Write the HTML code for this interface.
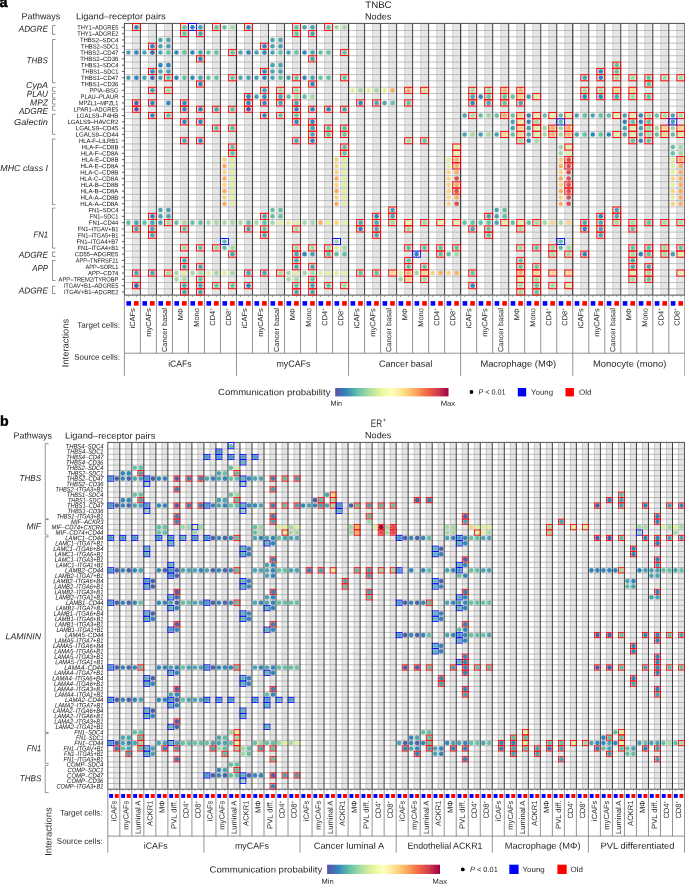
<!DOCTYPE html>
<html><head><meta charset="utf-8"><style>
html,body{margin:0;padding:0;background:#fff;width:685px;height:884px;overflow:hidden}
svg{display:block;will-change:transform}
text{font-family:"Liberation Sans", sans-serif}
</style></head><body>
<svg width="685" height="884" viewBox="0 0 685 884">
<rect width="685" height="884" fill="#fff"/>
<rect x="132.41" y="23.40" width="8.01" height="271.70" fill="#e6e6e6"/>
<rect x="148.42" y="23.40" width="8.01" height="271.70" fill="#e6e6e6"/>
<rect x="164.43" y="23.40" width="8.01" height="271.70" fill="#e6e6e6"/>
<rect x="180.44" y="23.40" width="8.01" height="271.70" fill="#e6e6e6"/>
<rect x="196.45" y="23.40" width="8.01" height="271.70" fill="#e6e6e6"/>
<rect x="212.47" y="23.40" width="8.01" height="271.70" fill="#e6e6e6"/>
<rect x="228.48" y="23.40" width="8.01" height="271.70" fill="#e6e6e6"/>
<rect x="244.49" y="23.40" width="8.01" height="271.70" fill="#e6e6e6"/>
<rect x="260.50" y="23.40" width="8.01" height="271.70" fill="#e6e6e6"/>
<rect x="276.51" y="23.40" width="8.01" height="271.70" fill="#e6e6e6"/>
<rect x="292.53" y="23.40" width="8.01" height="271.70" fill="#e6e6e6"/>
<rect x="308.54" y="23.40" width="8.01" height="271.70" fill="#e6e6e6"/>
<rect x="324.55" y="23.40" width="8.01" height="271.70" fill="#e6e6e6"/>
<rect x="340.56" y="23.40" width="8.01" height="271.70" fill="#e6e6e6"/>
<rect x="356.57" y="23.40" width="8.01" height="271.70" fill="#e6e6e6"/>
<rect x="372.59" y="23.40" width="8.01" height="271.70" fill="#e6e6e6"/>
<rect x="388.60" y="23.40" width="8.01" height="271.70" fill="#e6e6e6"/>
<rect x="404.61" y="23.40" width="8.01" height="271.70" fill="#e6e6e6"/>
<rect x="420.62" y="23.40" width="8.01" height="271.70" fill="#e6e6e6"/>
<rect x="436.63" y="23.40" width="8.01" height="271.70" fill="#e6e6e6"/>
<rect x="452.65" y="23.40" width="8.01" height="271.70" fill="#e6e6e6"/>
<rect x="468.66" y="23.40" width="8.01" height="271.70" fill="#e6e6e6"/>
<rect x="484.67" y="23.40" width="8.01" height="271.70" fill="#e6e6e6"/>
<rect x="500.68" y="23.40" width="8.01" height="271.70" fill="#e6e6e6"/>
<rect x="516.69" y="23.40" width="8.01" height="271.70" fill="#e6e6e6"/>
<rect x="532.71" y="23.40" width="8.01" height="271.70" fill="#e6e6e6"/>
<rect x="548.72" y="23.40" width="8.01" height="271.70" fill="#e6e6e6"/>
<rect x="564.73" y="23.40" width="8.01" height="271.70" fill="#e6e6e6"/>
<rect x="580.74" y="23.40" width="8.01" height="271.70" fill="#e6e6e6"/>
<rect x="596.75" y="23.40" width="8.01" height="271.70" fill="#e6e6e6"/>
<rect x="612.77" y="23.40" width="8.01" height="271.70" fill="#e6e6e6"/>
<rect x="628.78" y="23.40" width="8.01" height="271.70" fill="#e6e6e6"/>
<rect x="644.79" y="23.40" width="8.01" height="271.70" fill="#e6e6e6"/>
<rect x="660.80" y="23.40" width="8.01" height="271.70" fill="#e6e6e6"/>
<rect x="676.81" y="23.40" width="8.01" height="271.70" fill="#e6e6e6"/>
<line x1="132.41" y1="23.40" x2="132.41" y2="295.10" stroke="#bcbcbc" stroke-width="0.55"/>
<line x1="148.42" y1="23.40" x2="148.42" y2="295.10" stroke="#bcbcbc" stroke-width="0.55"/>
<line x1="164.43" y1="23.40" x2="164.43" y2="295.10" stroke="#bcbcbc" stroke-width="0.55"/>
<line x1="180.44" y1="23.40" x2="180.44" y2="295.10" stroke="#bcbcbc" stroke-width="0.55"/>
<line x1="196.45" y1="23.40" x2="196.45" y2="295.10" stroke="#bcbcbc" stroke-width="0.55"/>
<line x1="212.47" y1="23.40" x2="212.47" y2="295.10" stroke="#bcbcbc" stroke-width="0.55"/>
<line x1="228.48" y1="23.40" x2="228.48" y2="295.10" stroke="#bcbcbc" stroke-width="0.55"/>
<line x1="244.49" y1="23.40" x2="244.49" y2="295.10" stroke="#bcbcbc" stroke-width="0.55"/>
<line x1="260.50" y1="23.40" x2="260.50" y2="295.10" stroke="#bcbcbc" stroke-width="0.55"/>
<line x1="276.51" y1="23.40" x2="276.51" y2="295.10" stroke="#bcbcbc" stroke-width="0.55"/>
<line x1="292.53" y1="23.40" x2="292.53" y2="295.10" stroke="#bcbcbc" stroke-width="0.55"/>
<line x1="308.54" y1="23.40" x2="308.54" y2="295.10" stroke="#bcbcbc" stroke-width="0.55"/>
<line x1="324.55" y1="23.40" x2="324.55" y2="295.10" stroke="#bcbcbc" stroke-width="0.55"/>
<line x1="340.56" y1="23.40" x2="340.56" y2="295.10" stroke="#bcbcbc" stroke-width="0.55"/>
<line x1="356.57" y1="23.40" x2="356.57" y2="295.10" stroke="#bcbcbc" stroke-width="0.55"/>
<line x1="372.59" y1="23.40" x2="372.59" y2="295.10" stroke="#bcbcbc" stroke-width="0.55"/>
<line x1="388.60" y1="23.40" x2="388.60" y2="295.10" stroke="#bcbcbc" stroke-width="0.55"/>
<line x1="404.61" y1="23.40" x2="404.61" y2="295.10" stroke="#bcbcbc" stroke-width="0.55"/>
<line x1="420.62" y1="23.40" x2="420.62" y2="295.10" stroke="#bcbcbc" stroke-width="0.55"/>
<line x1="436.63" y1="23.40" x2="436.63" y2="295.10" stroke="#bcbcbc" stroke-width="0.55"/>
<line x1="452.65" y1="23.40" x2="452.65" y2="295.10" stroke="#bcbcbc" stroke-width="0.55"/>
<line x1="468.66" y1="23.40" x2="468.66" y2="295.10" stroke="#bcbcbc" stroke-width="0.55"/>
<line x1="484.67" y1="23.40" x2="484.67" y2="295.10" stroke="#bcbcbc" stroke-width="0.55"/>
<line x1="500.68" y1="23.40" x2="500.68" y2="295.10" stroke="#bcbcbc" stroke-width="0.55"/>
<line x1="516.69" y1="23.40" x2="516.69" y2="295.10" stroke="#bcbcbc" stroke-width="0.55"/>
<line x1="532.71" y1="23.40" x2="532.71" y2="295.10" stroke="#bcbcbc" stroke-width="0.55"/>
<line x1="548.72" y1="23.40" x2="548.72" y2="295.10" stroke="#bcbcbc" stroke-width="0.55"/>
<line x1="564.73" y1="23.40" x2="564.73" y2="295.10" stroke="#bcbcbc" stroke-width="0.55"/>
<line x1="580.74" y1="23.40" x2="580.74" y2="295.10" stroke="#bcbcbc" stroke-width="0.55"/>
<line x1="596.75" y1="23.40" x2="596.75" y2="295.10" stroke="#bcbcbc" stroke-width="0.55"/>
<line x1="612.77" y1="23.40" x2="612.77" y2="295.10" stroke="#bcbcbc" stroke-width="0.55"/>
<line x1="628.78" y1="23.40" x2="628.78" y2="295.10" stroke="#bcbcbc" stroke-width="0.55"/>
<line x1="644.79" y1="23.40" x2="644.79" y2="295.10" stroke="#bcbcbc" stroke-width="0.55"/>
<line x1="660.80" y1="23.40" x2="660.80" y2="295.10" stroke="#bcbcbc" stroke-width="0.55"/>
<line x1="676.81" y1="23.40" x2="676.81" y2="295.10" stroke="#bcbcbc" stroke-width="0.55"/>
<line x1="124.40" y1="30.50" x2="684.82" y2="30.50" stroke="#a8a8a8" stroke-width="0.7"/>
<line x1="124.40" y1="36.80" x2="684.82" y2="36.80" stroke="#a8a8a8" stroke-width="0.7"/>
<line x1="124.40" y1="43.10" x2="684.82" y2="43.10" stroke="#a8a8a8" stroke-width="0.7"/>
<line x1="124.40" y1="49.40" x2="684.82" y2="49.40" stroke="#a8a8a8" stroke-width="0.7"/>
<line x1="124.40" y1="55.70" x2="684.82" y2="55.70" stroke="#a8a8a8" stroke-width="0.7"/>
<line x1="124.40" y1="62.00" x2="684.82" y2="62.00" stroke="#a8a8a8" stroke-width="0.7"/>
<line x1="124.40" y1="68.30" x2="684.82" y2="68.30" stroke="#a8a8a8" stroke-width="0.7"/>
<line x1="124.40" y1="74.60" x2="684.82" y2="74.60" stroke="#a8a8a8" stroke-width="0.7"/>
<line x1="124.40" y1="80.90" x2="684.82" y2="80.90" stroke="#a8a8a8" stroke-width="0.7"/>
<line x1="124.40" y1="87.20" x2="684.82" y2="87.20" stroke="#a8a8a8" stroke-width="0.7"/>
<line x1="124.40" y1="93.50" x2="684.82" y2="93.50" stroke="#a8a8a8" stroke-width="0.7"/>
<line x1="124.40" y1="99.80" x2="684.82" y2="99.80" stroke="#a8a8a8" stroke-width="0.7"/>
<line x1="124.40" y1="106.10" x2="684.82" y2="106.10" stroke="#a8a8a8" stroke-width="0.7"/>
<line x1="124.40" y1="112.40" x2="684.82" y2="112.40" stroke="#a8a8a8" stroke-width="0.7"/>
<line x1="124.40" y1="118.70" x2="684.82" y2="118.70" stroke="#a8a8a8" stroke-width="0.7"/>
<line x1="124.40" y1="125.00" x2="684.82" y2="125.00" stroke="#a8a8a8" stroke-width="0.7"/>
<line x1="124.40" y1="131.30" x2="684.82" y2="131.30" stroke="#a8a8a8" stroke-width="0.7"/>
<line x1="124.40" y1="137.60" x2="684.82" y2="137.60" stroke="#a8a8a8" stroke-width="0.7"/>
<line x1="124.40" y1="143.90" x2="684.82" y2="143.90" stroke="#a8a8a8" stroke-width="0.7"/>
<line x1="124.40" y1="150.20" x2="684.82" y2="150.20" stroke="#a8a8a8" stroke-width="0.7"/>
<line x1="124.40" y1="156.50" x2="684.82" y2="156.50" stroke="#a8a8a8" stroke-width="0.7"/>
<line x1="124.40" y1="162.80" x2="684.82" y2="162.80" stroke="#a8a8a8" stroke-width="0.7"/>
<line x1="124.40" y1="169.10" x2="684.82" y2="169.10" stroke="#a8a8a8" stroke-width="0.7"/>
<line x1="124.40" y1="175.40" x2="684.82" y2="175.40" stroke="#a8a8a8" stroke-width="0.7"/>
<line x1="124.40" y1="181.70" x2="684.82" y2="181.70" stroke="#a8a8a8" stroke-width="0.7"/>
<line x1="124.40" y1="188.00" x2="684.82" y2="188.00" stroke="#a8a8a8" stroke-width="0.7"/>
<line x1="124.40" y1="194.30" x2="684.82" y2="194.30" stroke="#a8a8a8" stroke-width="0.7"/>
<line x1="124.40" y1="200.60" x2="684.82" y2="200.60" stroke="#a8a8a8" stroke-width="0.7"/>
<line x1="124.40" y1="206.90" x2="684.82" y2="206.90" stroke="#a8a8a8" stroke-width="0.7"/>
<line x1="124.40" y1="213.20" x2="684.82" y2="213.20" stroke="#a8a8a8" stroke-width="0.7"/>
<line x1="124.40" y1="219.50" x2="684.82" y2="219.50" stroke="#a8a8a8" stroke-width="0.7"/>
<line x1="124.40" y1="225.80" x2="684.82" y2="225.80" stroke="#a8a8a8" stroke-width="0.7"/>
<line x1="124.40" y1="232.10" x2="684.82" y2="232.10" stroke="#a8a8a8" stroke-width="0.7"/>
<line x1="124.40" y1="238.40" x2="684.82" y2="238.40" stroke="#a8a8a8" stroke-width="0.7"/>
<line x1="124.40" y1="244.70" x2="684.82" y2="244.70" stroke="#a8a8a8" stroke-width="0.7"/>
<line x1="124.40" y1="251.00" x2="684.82" y2="251.00" stroke="#a8a8a8" stroke-width="0.7"/>
<line x1="124.40" y1="257.30" x2="684.82" y2="257.30" stroke="#a8a8a8" stroke-width="0.7"/>
<line x1="124.40" y1="263.60" x2="684.82" y2="263.60" stroke="#a8a8a8" stroke-width="0.7"/>
<line x1="124.40" y1="269.90" x2="684.82" y2="269.90" stroke="#a8a8a8" stroke-width="0.7"/>
<line x1="124.40" y1="276.20" x2="684.82" y2="276.20" stroke="#a8a8a8" stroke-width="0.7"/>
<line x1="124.40" y1="282.50" x2="684.82" y2="282.50" stroke="#a8a8a8" stroke-width="0.7"/>
<line x1="124.40" y1="288.80" x2="684.82" y2="288.80" stroke="#a8a8a8" stroke-width="0.7"/>
<line x1="140.41" y1="23.40" x2="140.41" y2="295.10" stroke="#484848" stroke-width="1.05"/>
<line x1="156.42" y1="23.40" x2="156.42" y2="295.10" stroke="#484848" stroke-width="1.05"/>
<line x1="172.44" y1="23.40" x2="172.44" y2="295.10" stroke="#484848" stroke-width="1.05"/>
<line x1="188.45" y1="23.40" x2="188.45" y2="295.10" stroke="#484848" stroke-width="1.05"/>
<line x1="204.46" y1="23.40" x2="204.46" y2="295.10" stroke="#484848" stroke-width="1.05"/>
<line x1="220.47" y1="23.40" x2="220.47" y2="295.10" stroke="#484848" stroke-width="1.05"/>
<line x1="236.48" y1="23.40" x2="236.48" y2="295.10" stroke="#333" stroke-width="1.15"/>
<line x1="252.50" y1="23.40" x2="252.50" y2="295.10" stroke="#484848" stroke-width="1.05"/>
<line x1="268.51" y1="23.40" x2="268.51" y2="295.10" stroke="#484848" stroke-width="1.05"/>
<line x1="284.52" y1="23.40" x2="284.52" y2="295.10" stroke="#484848" stroke-width="1.05"/>
<line x1="300.53" y1="23.40" x2="300.53" y2="295.10" stroke="#484848" stroke-width="1.05"/>
<line x1="316.54" y1="23.40" x2="316.54" y2="295.10" stroke="#484848" stroke-width="1.05"/>
<line x1="332.56" y1="23.40" x2="332.56" y2="295.10" stroke="#484848" stroke-width="1.05"/>
<line x1="348.57" y1="23.40" x2="348.57" y2="295.10" stroke="#333" stroke-width="1.15"/>
<line x1="364.58" y1="23.40" x2="364.58" y2="295.10" stroke="#484848" stroke-width="1.05"/>
<line x1="380.59" y1="23.40" x2="380.59" y2="295.10" stroke="#484848" stroke-width="1.05"/>
<line x1="396.60" y1="23.40" x2="396.60" y2="295.10" stroke="#484848" stroke-width="1.05"/>
<line x1="412.62" y1="23.40" x2="412.62" y2="295.10" stroke="#484848" stroke-width="1.05"/>
<line x1="428.63" y1="23.40" x2="428.63" y2="295.10" stroke="#484848" stroke-width="1.05"/>
<line x1="444.64" y1="23.40" x2="444.64" y2="295.10" stroke="#484848" stroke-width="1.05"/>
<line x1="460.65" y1="23.40" x2="460.65" y2="295.10" stroke="#333" stroke-width="1.15"/>
<line x1="476.66" y1="23.40" x2="476.66" y2="295.10" stroke="#484848" stroke-width="1.05"/>
<line x1="492.68" y1="23.40" x2="492.68" y2="295.10" stroke="#484848" stroke-width="1.05"/>
<line x1="508.69" y1="23.40" x2="508.69" y2="295.10" stroke="#484848" stroke-width="1.05"/>
<line x1="524.70" y1="23.40" x2="524.70" y2="295.10" stroke="#484848" stroke-width="1.05"/>
<line x1="540.71" y1="23.40" x2="540.71" y2="295.10" stroke="#484848" stroke-width="1.05"/>
<line x1="556.72" y1="23.40" x2="556.72" y2="295.10" stroke="#484848" stroke-width="1.05"/>
<line x1="572.74" y1="23.40" x2="572.74" y2="295.10" stroke="#333" stroke-width="1.15"/>
<line x1="588.75" y1="23.40" x2="588.75" y2="295.10" stroke="#484848" stroke-width="1.05"/>
<line x1="604.76" y1="23.40" x2="604.76" y2="295.10" stroke="#484848" stroke-width="1.05"/>
<line x1="620.77" y1="23.40" x2="620.77" y2="295.10" stroke="#484848" stroke-width="1.05"/>
<line x1="636.78" y1="23.40" x2="636.78" y2="295.10" stroke="#484848" stroke-width="1.05"/>
<line x1="652.80" y1="23.40" x2="652.80" y2="295.10" stroke="#484848" stroke-width="1.05"/>
<line x1="668.81" y1="23.40" x2="668.81" y2="295.10" stroke="#484848" stroke-width="1.05"/>
<rect x="124.40" y="23.40" width="560.42" height="271.70" fill="none" stroke="#4d4d4d" stroke-width="1.0"/>
<line x1="121.90" y1="27.35" x2="124.40" y2="27.35" stroke="#444" stroke-width="0.8"/>
<line x1="121.90" y1="33.65" x2="124.40" y2="33.65" stroke="#444" stroke-width="0.8"/>
<line x1="121.90" y1="39.95" x2="124.40" y2="39.95" stroke="#444" stroke-width="0.8"/>
<line x1="121.90" y1="46.25" x2="124.40" y2="46.25" stroke="#444" stroke-width="0.8"/>
<line x1="121.90" y1="52.55" x2="124.40" y2="52.55" stroke="#444" stroke-width="0.8"/>
<line x1="121.90" y1="58.85" x2="124.40" y2="58.85" stroke="#444" stroke-width="0.8"/>
<line x1="121.90" y1="65.15" x2="124.40" y2="65.15" stroke="#444" stroke-width="0.8"/>
<line x1="121.90" y1="71.45" x2="124.40" y2="71.45" stroke="#444" stroke-width="0.8"/>
<line x1="121.90" y1="77.75" x2="124.40" y2="77.75" stroke="#444" stroke-width="0.8"/>
<line x1="121.90" y1="84.05" x2="124.40" y2="84.05" stroke="#444" stroke-width="0.8"/>
<line x1="121.90" y1="90.35" x2="124.40" y2="90.35" stroke="#444" stroke-width="0.8"/>
<line x1="121.90" y1="96.65" x2="124.40" y2="96.65" stroke="#444" stroke-width="0.8"/>
<line x1="121.90" y1="102.95" x2="124.40" y2="102.95" stroke="#444" stroke-width="0.8"/>
<line x1="121.90" y1="109.25" x2="124.40" y2="109.25" stroke="#444" stroke-width="0.8"/>
<line x1="121.90" y1="115.55" x2="124.40" y2="115.55" stroke="#444" stroke-width="0.8"/>
<line x1="121.90" y1="121.85" x2="124.40" y2="121.85" stroke="#444" stroke-width="0.8"/>
<line x1="121.90" y1="128.15" x2="124.40" y2="128.15" stroke="#444" stroke-width="0.8"/>
<line x1="121.90" y1="134.45" x2="124.40" y2="134.45" stroke="#444" stroke-width="0.8"/>
<line x1="121.90" y1="140.75" x2="124.40" y2="140.75" stroke="#444" stroke-width="0.8"/>
<line x1="121.90" y1="147.05" x2="124.40" y2="147.05" stroke="#444" stroke-width="0.8"/>
<line x1="121.90" y1="153.35" x2="124.40" y2="153.35" stroke="#444" stroke-width="0.8"/>
<line x1="121.90" y1="159.65" x2="124.40" y2="159.65" stroke="#444" stroke-width="0.8"/>
<line x1="121.90" y1="165.95" x2="124.40" y2="165.95" stroke="#444" stroke-width="0.8"/>
<line x1="121.90" y1="172.25" x2="124.40" y2="172.25" stroke="#444" stroke-width="0.8"/>
<line x1="121.90" y1="178.55" x2="124.40" y2="178.55" stroke="#444" stroke-width="0.8"/>
<line x1="121.90" y1="184.85" x2="124.40" y2="184.85" stroke="#444" stroke-width="0.8"/>
<line x1="121.90" y1="191.15" x2="124.40" y2="191.15" stroke="#444" stroke-width="0.8"/>
<line x1="121.90" y1="197.45" x2="124.40" y2="197.45" stroke="#444" stroke-width="0.8"/>
<line x1="121.90" y1="203.75" x2="124.40" y2="203.75" stroke="#444" stroke-width="0.8"/>
<line x1="121.90" y1="210.05" x2="124.40" y2="210.05" stroke="#444" stroke-width="0.8"/>
<line x1="121.90" y1="216.35" x2="124.40" y2="216.35" stroke="#444" stroke-width="0.8"/>
<line x1="121.90" y1="222.65" x2="124.40" y2="222.65" stroke="#444" stroke-width="0.8"/>
<line x1="121.90" y1="228.95" x2="124.40" y2="228.95" stroke="#444" stroke-width="0.8"/>
<line x1="121.90" y1="235.25" x2="124.40" y2="235.25" stroke="#444" stroke-width="0.8"/>
<line x1="121.90" y1="241.55" x2="124.40" y2="241.55" stroke="#444" stroke-width="0.8"/>
<line x1="121.90" y1="247.85" x2="124.40" y2="247.85" stroke="#444" stroke-width="0.8"/>
<line x1="121.90" y1="254.15" x2="124.40" y2="254.15" stroke="#444" stroke-width="0.8"/>
<line x1="121.90" y1="260.45" x2="124.40" y2="260.45" stroke="#444" stroke-width="0.8"/>
<line x1="121.90" y1="266.75" x2="124.40" y2="266.75" stroke="#444" stroke-width="0.8"/>
<line x1="121.90" y1="273.05" x2="124.40" y2="273.05" stroke="#444" stroke-width="0.8"/>
<line x1="121.90" y1="279.35" x2="124.40" y2="279.35" stroke="#444" stroke-width="0.8"/>
<line x1="121.90" y1="285.65" x2="124.40" y2="285.65" stroke="#444" stroke-width="0.8"/>
<line x1="121.90" y1="291.95" x2="124.40" y2="291.95" stroke="#444" stroke-width="0.8"/>
<line x1="128.40" y1="295.10" x2="128.40" y2="297.30" stroke="#666" stroke-width="0.5"/>
<rect x="126.40" y="301.10" width="4.60" height="4.60" fill="#0000ff"/>
<line x1="136.41" y1="295.10" x2="136.41" y2="297.30" stroke="#666" stroke-width="0.5"/>
<rect x="134.01" y="301.10" width="4.60" height="4.60" fill="#ff0000"/>
<line x1="144.42" y1="295.10" x2="144.42" y2="297.30" stroke="#666" stroke-width="0.5"/>
<rect x="142.42" y="301.10" width="4.60" height="4.60" fill="#0000ff"/>
<line x1="152.42" y1="295.10" x2="152.42" y2="297.30" stroke="#666" stroke-width="0.5"/>
<rect x="150.02" y="301.10" width="4.60" height="4.60" fill="#ff0000"/>
<line x1="160.43" y1="295.10" x2="160.43" y2="297.30" stroke="#666" stroke-width="0.5"/>
<rect x="158.43" y="301.10" width="4.60" height="4.60" fill="#0000ff"/>
<line x1="168.43" y1="295.10" x2="168.43" y2="297.30" stroke="#666" stroke-width="0.5"/>
<rect x="166.03" y="301.10" width="4.60" height="4.60" fill="#ff0000"/>
<line x1="176.44" y1="295.10" x2="176.44" y2="297.30" stroke="#666" stroke-width="0.5"/>
<rect x="174.44" y="301.10" width="4.60" height="4.60" fill="#0000ff"/>
<line x1="184.44" y1="295.10" x2="184.44" y2="297.30" stroke="#666" stroke-width="0.5"/>
<rect x="182.04" y="301.10" width="4.60" height="4.60" fill="#ff0000"/>
<line x1="192.45" y1="295.10" x2="192.45" y2="297.30" stroke="#666" stroke-width="0.5"/>
<rect x="190.45" y="301.10" width="4.60" height="4.60" fill="#0000ff"/>
<line x1="200.46" y1="295.10" x2="200.46" y2="297.30" stroke="#666" stroke-width="0.5"/>
<rect x="198.06" y="301.10" width="4.60" height="4.60" fill="#ff0000"/>
<line x1="208.46" y1="295.10" x2="208.46" y2="297.30" stroke="#666" stroke-width="0.5"/>
<rect x="206.46" y="301.10" width="4.60" height="4.60" fill="#0000ff"/>
<line x1="216.47" y1="295.10" x2="216.47" y2="297.30" stroke="#666" stroke-width="0.5"/>
<rect x="214.07" y="301.10" width="4.60" height="4.60" fill="#ff0000"/>
<line x1="224.48" y1="295.10" x2="224.48" y2="297.30" stroke="#666" stroke-width="0.5"/>
<rect x="222.48" y="301.10" width="4.60" height="4.60" fill="#0000ff"/>
<line x1="232.48" y1="295.10" x2="232.48" y2="297.30" stroke="#666" stroke-width="0.5"/>
<rect x="230.08" y="301.10" width="4.60" height="4.60" fill="#ff0000"/>
<line x1="240.49" y1="295.10" x2="240.49" y2="297.30" stroke="#666" stroke-width="0.5"/>
<rect x="238.49" y="301.10" width="4.60" height="4.60" fill="#0000ff"/>
<line x1="248.49" y1="295.10" x2="248.49" y2="297.30" stroke="#666" stroke-width="0.5"/>
<rect x="246.09" y="301.10" width="4.60" height="4.60" fill="#ff0000"/>
<line x1="256.50" y1="295.10" x2="256.50" y2="297.30" stroke="#666" stroke-width="0.5"/>
<rect x="254.50" y="301.10" width="4.60" height="4.60" fill="#0000ff"/>
<line x1="264.50" y1="295.10" x2="264.50" y2="297.30" stroke="#666" stroke-width="0.5"/>
<rect x="262.10" y="301.10" width="4.60" height="4.60" fill="#ff0000"/>
<line x1="272.51" y1="295.10" x2="272.51" y2="297.30" stroke="#666" stroke-width="0.5"/>
<rect x="270.51" y="301.10" width="4.60" height="4.60" fill="#0000ff"/>
<line x1="280.52" y1="295.10" x2="280.52" y2="297.30" stroke="#666" stroke-width="0.5"/>
<rect x="278.12" y="301.10" width="4.60" height="4.60" fill="#ff0000"/>
<line x1="288.52" y1="295.10" x2="288.52" y2="297.30" stroke="#666" stroke-width="0.5"/>
<rect x="286.52" y="301.10" width="4.60" height="4.60" fill="#0000ff"/>
<line x1="296.53" y1="295.10" x2="296.53" y2="297.30" stroke="#666" stroke-width="0.5"/>
<rect x="294.13" y="301.10" width="4.60" height="4.60" fill="#ff0000"/>
<line x1="304.53" y1="295.10" x2="304.53" y2="297.30" stroke="#666" stroke-width="0.5"/>
<rect x="302.53" y="301.10" width="4.60" height="4.60" fill="#0000ff"/>
<line x1="312.54" y1="295.10" x2="312.54" y2="297.30" stroke="#666" stroke-width="0.5"/>
<rect x="310.14" y="301.10" width="4.60" height="4.60" fill="#ff0000"/>
<line x1="320.55" y1="295.10" x2="320.55" y2="297.30" stroke="#666" stroke-width="0.5"/>
<rect x="318.55" y="301.10" width="4.60" height="4.60" fill="#0000ff"/>
<line x1="328.55" y1="295.10" x2="328.55" y2="297.30" stroke="#666" stroke-width="0.5"/>
<rect x="326.15" y="301.10" width="4.60" height="4.60" fill="#ff0000"/>
<line x1="336.56" y1="295.10" x2="336.56" y2="297.30" stroke="#666" stroke-width="0.5"/>
<rect x="334.56" y="301.10" width="4.60" height="4.60" fill="#0000ff"/>
<line x1="344.57" y1="295.10" x2="344.57" y2="297.30" stroke="#666" stroke-width="0.5"/>
<rect x="342.17" y="301.10" width="4.60" height="4.60" fill="#ff0000"/>
<line x1="352.57" y1="295.10" x2="352.57" y2="297.30" stroke="#666" stroke-width="0.5"/>
<rect x="350.57" y="301.10" width="4.60" height="4.60" fill="#0000ff"/>
<line x1="360.58" y1="295.10" x2="360.58" y2="297.30" stroke="#666" stroke-width="0.5"/>
<rect x="358.18" y="301.10" width="4.60" height="4.60" fill="#ff0000"/>
<line x1="368.58" y1="295.10" x2="368.58" y2="297.30" stroke="#666" stroke-width="0.5"/>
<rect x="366.58" y="301.10" width="4.60" height="4.60" fill="#0000ff"/>
<line x1="376.59" y1="295.10" x2="376.59" y2="297.30" stroke="#666" stroke-width="0.5"/>
<rect x="374.19" y="301.10" width="4.60" height="4.60" fill="#ff0000"/>
<line x1="384.60" y1="295.10" x2="384.60" y2="297.30" stroke="#666" stroke-width="0.5"/>
<rect x="382.60" y="301.10" width="4.60" height="4.60" fill="#0000ff"/>
<line x1="392.60" y1="295.10" x2="392.60" y2="297.30" stroke="#666" stroke-width="0.5"/>
<rect x="390.20" y="301.10" width="4.60" height="4.60" fill="#ff0000"/>
<line x1="400.61" y1="295.10" x2="400.61" y2="297.30" stroke="#666" stroke-width="0.5"/>
<rect x="398.61" y="301.10" width="4.60" height="4.60" fill="#0000ff"/>
<line x1="408.61" y1="295.10" x2="408.61" y2="297.30" stroke="#666" stroke-width="0.5"/>
<rect x="406.21" y="301.10" width="4.60" height="4.60" fill="#ff0000"/>
<line x1="416.62" y1="295.10" x2="416.62" y2="297.30" stroke="#666" stroke-width="0.5"/>
<rect x="414.62" y="301.10" width="4.60" height="4.60" fill="#0000ff"/>
<line x1="424.62" y1="295.10" x2="424.62" y2="297.30" stroke="#666" stroke-width="0.5"/>
<rect x="422.22" y="301.10" width="4.60" height="4.60" fill="#ff0000"/>
<line x1="432.63" y1="295.10" x2="432.63" y2="297.30" stroke="#666" stroke-width="0.5"/>
<rect x="430.63" y="301.10" width="4.60" height="4.60" fill="#0000ff"/>
<line x1="440.64" y1="295.10" x2="440.64" y2="297.30" stroke="#666" stroke-width="0.5"/>
<rect x="438.24" y="301.10" width="4.60" height="4.60" fill="#ff0000"/>
<line x1="448.64" y1="295.10" x2="448.64" y2="297.30" stroke="#666" stroke-width="0.5"/>
<rect x="446.64" y="301.10" width="4.60" height="4.60" fill="#0000ff"/>
<line x1="456.65" y1="295.10" x2="456.65" y2="297.30" stroke="#666" stroke-width="0.5"/>
<rect x="454.25" y="301.10" width="4.60" height="4.60" fill="#ff0000"/>
<line x1="464.65" y1="295.10" x2="464.65" y2="297.30" stroke="#666" stroke-width="0.5"/>
<rect x="462.65" y="301.10" width="4.60" height="4.60" fill="#0000ff"/>
<line x1="472.66" y1="295.10" x2="472.66" y2="297.30" stroke="#666" stroke-width="0.5"/>
<rect x="470.26" y="301.10" width="4.60" height="4.60" fill="#ff0000"/>
<line x1="480.67" y1="295.10" x2="480.67" y2="297.30" stroke="#666" stroke-width="0.5"/>
<rect x="478.67" y="301.10" width="4.60" height="4.60" fill="#0000ff"/>
<line x1="488.67" y1="295.10" x2="488.67" y2="297.30" stroke="#666" stroke-width="0.5"/>
<rect x="486.27" y="301.10" width="4.60" height="4.60" fill="#ff0000"/>
<line x1="496.68" y1="295.10" x2="496.68" y2="297.30" stroke="#666" stroke-width="0.5"/>
<rect x="494.68" y="301.10" width="4.60" height="4.60" fill="#0000ff"/>
<line x1="504.69" y1="295.10" x2="504.69" y2="297.30" stroke="#666" stroke-width="0.5"/>
<rect x="502.29" y="301.10" width="4.60" height="4.60" fill="#ff0000"/>
<line x1="512.69" y1="295.10" x2="512.69" y2="297.30" stroke="#666" stroke-width="0.5"/>
<rect x="510.69" y="301.10" width="4.60" height="4.60" fill="#0000ff"/>
<line x1="520.70" y1="295.10" x2="520.70" y2="297.30" stroke="#666" stroke-width="0.5"/>
<rect x="518.30" y="301.10" width="4.60" height="4.60" fill="#ff0000"/>
<line x1="528.70" y1="295.10" x2="528.70" y2="297.30" stroke="#666" stroke-width="0.5"/>
<rect x="526.70" y="301.10" width="4.60" height="4.60" fill="#0000ff"/>
<line x1="536.71" y1="295.10" x2="536.71" y2="297.30" stroke="#666" stroke-width="0.5"/>
<rect x="534.31" y="301.10" width="4.60" height="4.60" fill="#ff0000"/>
<line x1="544.72" y1="295.10" x2="544.72" y2="297.30" stroke="#666" stroke-width="0.5"/>
<rect x="542.72" y="301.10" width="4.60" height="4.60" fill="#0000ff"/>
<line x1="552.72" y1="295.10" x2="552.72" y2="297.30" stroke="#666" stroke-width="0.5"/>
<rect x="550.32" y="301.10" width="4.60" height="4.60" fill="#ff0000"/>
<line x1="560.73" y1="295.10" x2="560.73" y2="297.30" stroke="#666" stroke-width="0.5"/>
<rect x="558.73" y="301.10" width="4.60" height="4.60" fill="#0000ff"/>
<line x1="568.73" y1="295.10" x2="568.73" y2="297.30" stroke="#666" stroke-width="0.5"/>
<rect x="566.33" y="301.10" width="4.60" height="4.60" fill="#ff0000"/>
<line x1="576.74" y1="295.10" x2="576.74" y2="297.30" stroke="#666" stroke-width="0.5"/>
<rect x="574.74" y="301.10" width="4.60" height="4.60" fill="#0000ff"/>
<line x1="584.75" y1="295.10" x2="584.75" y2="297.30" stroke="#666" stroke-width="0.5"/>
<rect x="582.35" y="301.10" width="4.60" height="4.60" fill="#ff0000"/>
<line x1="592.75" y1="295.10" x2="592.75" y2="297.30" stroke="#666" stroke-width="0.5"/>
<rect x="590.75" y="301.10" width="4.60" height="4.60" fill="#0000ff"/>
<line x1="600.76" y1="295.10" x2="600.76" y2="297.30" stroke="#666" stroke-width="0.5"/>
<rect x="598.36" y="301.10" width="4.60" height="4.60" fill="#ff0000"/>
<line x1="608.76" y1="295.10" x2="608.76" y2="297.30" stroke="#666" stroke-width="0.5"/>
<rect x="606.76" y="301.10" width="4.60" height="4.60" fill="#0000ff"/>
<line x1="616.77" y1="295.10" x2="616.77" y2="297.30" stroke="#666" stroke-width="0.5"/>
<rect x="614.37" y="301.10" width="4.60" height="4.60" fill="#ff0000"/>
<line x1="624.77" y1="295.10" x2="624.77" y2="297.30" stroke="#666" stroke-width="0.5"/>
<rect x="622.77" y="301.10" width="4.60" height="4.60" fill="#0000ff"/>
<line x1="632.78" y1="295.10" x2="632.78" y2="297.30" stroke="#666" stroke-width="0.5"/>
<rect x="630.38" y="301.10" width="4.60" height="4.60" fill="#ff0000"/>
<line x1="640.79" y1="295.10" x2="640.79" y2="297.30" stroke="#666" stroke-width="0.5"/>
<rect x="638.79" y="301.10" width="4.60" height="4.60" fill="#0000ff"/>
<line x1="648.79" y1="295.10" x2="648.79" y2="297.30" stroke="#666" stroke-width="0.5"/>
<rect x="646.39" y="301.10" width="4.60" height="4.60" fill="#ff0000"/>
<line x1="656.80" y1="295.10" x2="656.80" y2="297.30" stroke="#666" stroke-width="0.5"/>
<rect x="654.80" y="301.10" width="4.60" height="4.60" fill="#0000ff"/>
<line x1="664.80" y1="295.10" x2="664.80" y2="297.30" stroke="#666" stroke-width="0.5"/>
<rect x="662.40" y="301.10" width="4.60" height="4.60" fill="#ff0000"/>
<line x1="672.81" y1="295.10" x2="672.81" y2="297.30" stroke="#666" stroke-width="0.5"/>
<rect x="670.81" y="301.10" width="4.60" height="4.60" fill="#0000ff"/>
<line x1="680.82" y1="295.10" x2="680.82" y2="297.30" stroke="#666" stroke-width="0.5"/>
<rect x="678.42" y="301.10" width="4.60" height="4.60" fill="#ff0000"/>
<line x1="124.40" y1="295.10" x2="124.40" y2="375.80" stroke="#777" stroke-width="0.8"/>
<line x1="140.41" y1="295.10" x2="140.41" y2="353.20" stroke="#777" stroke-width="0.8"/>
<line x1="156.42" y1="295.10" x2="156.42" y2="353.20" stroke="#777" stroke-width="0.8"/>
<line x1="172.44" y1="295.10" x2="172.44" y2="353.20" stroke="#777" stroke-width="0.8"/>
<line x1="188.45" y1="295.10" x2="188.45" y2="353.20" stroke="#777" stroke-width="0.8"/>
<line x1="204.46" y1="295.10" x2="204.46" y2="353.20" stroke="#777" stroke-width="0.8"/>
<line x1="220.47" y1="295.10" x2="220.47" y2="353.20" stroke="#777" stroke-width="0.8"/>
<line x1="236.48" y1="295.10" x2="236.48" y2="375.80" stroke="#777" stroke-width="0.8"/>
<line x1="252.50" y1="295.10" x2="252.50" y2="353.20" stroke="#777" stroke-width="0.8"/>
<line x1="268.51" y1="295.10" x2="268.51" y2="353.20" stroke="#777" stroke-width="0.8"/>
<line x1="284.52" y1="295.10" x2="284.52" y2="353.20" stroke="#777" stroke-width="0.8"/>
<line x1="300.53" y1="295.10" x2="300.53" y2="353.20" stroke="#777" stroke-width="0.8"/>
<line x1="316.54" y1="295.10" x2="316.54" y2="353.20" stroke="#777" stroke-width="0.8"/>
<line x1="332.56" y1="295.10" x2="332.56" y2="353.20" stroke="#777" stroke-width="0.8"/>
<line x1="348.57" y1="295.10" x2="348.57" y2="375.80" stroke="#777" stroke-width="0.8"/>
<line x1="364.58" y1="295.10" x2="364.58" y2="353.20" stroke="#777" stroke-width="0.8"/>
<line x1="380.59" y1="295.10" x2="380.59" y2="353.20" stroke="#777" stroke-width="0.8"/>
<line x1="396.60" y1="295.10" x2="396.60" y2="353.20" stroke="#777" stroke-width="0.8"/>
<line x1="412.62" y1="295.10" x2="412.62" y2="353.20" stroke="#777" stroke-width="0.8"/>
<line x1="428.63" y1="295.10" x2="428.63" y2="353.20" stroke="#777" stroke-width="0.8"/>
<line x1="444.64" y1="295.10" x2="444.64" y2="353.20" stroke="#777" stroke-width="0.8"/>
<line x1="460.65" y1="295.10" x2="460.65" y2="375.80" stroke="#777" stroke-width="0.8"/>
<line x1="476.66" y1="295.10" x2="476.66" y2="353.20" stroke="#777" stroke-width="0.8"/>
<line x1="492.68" y1="295.10" x2="492.68" y2="353.20" stroke="#777" stroke-width="0.8"/>
<line x1="508.69" y1="295.10" x2="508.69" y2="353.20" stroke="#777" stroke-width="0.8"/>
<line x1="524.70" y1="295.10" x2="524.70" y2="353.20" stroke="#777" stroke-width="0.8"/>
<line x1="540.71" y1="295.10" x2="540.71" y2="353.20" stroke="#777" stroke-width="0.8"/>
<line x1="556.72" y1="295.10" x2="556.72" y2="353.20" stroke="#777" stroke-width="0.8"/>
<line x1="572.74" y1="295.10" x2="572.74" y2="375.80" stroke="#777" stroke-width="0.8"/>
<line x1="588.75" y1="295.10" x2="588.75" y2="353.20" stroke="#777" stroke-width="0.8"/>
<line x1="604.76" y1="295.10" x2="604.76" y2="353.20" stroke="#777" stroke-width="0.8"/>
<line x1="620.77" y1="295.10" x2="620.77" y2="353.20" stroke="#777" stroke-width="0.8"/>
<line x1="636.78" y1="295.10" x2="636.78" y2="353.20" stroke="#777" stroke-width="0.8"/>
<line x1="652.80" y1="295.10" x2="652.80" y2="353.20" stroke="#777" stroke-width="0.8"/>
<line x1="668.81" y1="295.10" x2="668.81" y2="353.20" stroke="#777" stroke-width="0.8"/>
<line x1="684.82" y1="295.10" x2="684.82" y2="375.80" stroke="#777" stroke-width="0.8"/>
<line x1="124.40" y1="353.20" x2="684.82" y2="353.20" stroke="#777" stroke-width="0.8"/>
<text transform="translate(135.01,308.20) rotate(-89.95)" font-size="7.45" text-anchor="end" fill="#231f20">iCAFs</text>
<text transform="translate(151.02,308.20) rotate(-89.95)" font-size="7.45" text-anchor="end" fill="#231f20">myCAFs</text>
<text transform="translate(167.03,308.20) rotate(-89.95)" font-size="7.45" text-anchor="end" fill="#231f20">Cancer basal</text>
<text transform="translate(183.04,308.20) rotate(-89.95)" font-size="7.45" text-anchor="end" fill="#231f20">MΦ</text>
<text transform="translate(199.05,308.20) rotate(-89.95)" font-size="7.45" text-anchor="end" fill="#231f20">Mono</text>
<text transform="translate(215.07,308.20) rotate(-89.95)" font-size="7.45" text-anchor="end" fill="#231f20">CD4<tspan dy="-2.5" font-size="4.5">+</tspan></text>
<text transform="translate(231.08,308.20) rotate(-89.95)" font-size="7.45" text-anchor="end" fill="#231f20">CD8<tspan dy="-2.5" font-size="4.5">+</tspan></text>
<text transform="translate(247.09,308.20) rotate(-89.95)" font-size="7.45" text-anchor="end" fill="#231f20">iCAFs</text>
<text transform="translate(263.10,308.20) rotate(-89.95)" font-size="7.45" text-anchor="end" fill="#231f20">myCAFs</text>
<text transform="translate(279.11,308.20) rotate(-89.95)" font-size="7.45" text-anchor="end" fill="#231f20">Cancer basal</text>
<text transform="translate(295.13,308.20) rotate(-89.95)" font-size="7.45" text-anchor="end" fill="#231f20">MΦ</text>
<text transform="translate(311.14,308.20) rotate(-89.95)" font-size="7.45" text-anchor="end" fill="#231f20">Mono</text>
<text transform="translate(327.15,308.20) rotate(-89.95)" font-size="7.45" text-anchor="end" fill="#231f20">CD4<tspan dy="-2.5" font-size="4.5">+</tspan></text>
<text transform="translate(343.16,308.20) rotate(-89.95)" font-size="7.45" text-anchor="end" fill="#231f20">CD8<tspan dy="-2.5" font-size="4.5">+</tspan></text>
<text transform="translate(359.17,308.20) rotate(-89.95)" font-size="7.45" text-anchor="end" fill="#231f20">iCAFs</text>
<text transform="translate(375.19,308.20) rotate(-89.95)" font-size="7.45" text-anchor="end" fill="#231f20">myCAFs</text>
<text transform="translate(391.20,308.20) rotate(-89.95)" font-size="7.45" text-anchor="end" fill="#231f20">Cancer basal</text>
<text transform="translate(407.21,308.20) rotate(-89.95)" font-size="7.45" text-anchor="end" fill="#231f20">MΦ</text>
<text transform="translate(423.22,308.20) rotate(-89.95)" font-size="7.45" text-anchor="end" fill="#231f20">Mono</text>
<text transform="translate(439.23,308.20) rotate(-89.95)" font-size="7.45" text-anchor="end" fill="#231f20">CD4<tspan dy="-2.5" font-size="4.5">+</tspan></text>
<text transform="translate(455.25,308.20) rotate(-89.95)" font-size="7.45" text-anchor="end" fill="#231f20">CD8<tspan dy="-2.5" font-size="4.5">+</tspan></text>
<text transform="translate(471.26,308.20) rotate(-89.95)" font-size="7.45" text-anchor="end" fill="#231f20">iCAFs</text>
<text transform="translate(487.27,308.20) rotate(-89.95)" font-size="7.45" text-anchor="end" fill="#231f20">myCAFs</text>
<text transform="translate(503.28,308.20) rotate(-89.95)" font-size="7.45" text-anchor="end" fill="#231f20">Cancer basal</text>
<text transform="translate(519.29,308.20) rotate(-89.95)" font-size="7.45" text-anchor="end" fill="#231f20">MΦ</text>
<text transform="translate(535.31,308.20) rotate(-89.95)" font-size="7.45" text-anchor="end" fill="#231f20">Mono</text>
<text transform="translate(551.32,308.20) rotate(-89.95)" font-size="7.45" text-anchor="end" fill="#231f20">CD4<tspan dy="-2.5" font-size="4.5">+</tspan></text>
<text transform="translate(567.33,308.20) rotate(-89.95)" font-size="7.45" text-anchor="end" fill="#231f20">CD8<tspan dy="-2.5" font-size="4.5">+</tspan></text>
<text transform="translate(583.34,308.20) rotate(-89.95)" font-size="7.45" text-anchor="end" fill="#231f20">iCAFs</text>
<text transform="translate(599.35,308.20) rotate(-89.95)" font-size="7.45" text-anchor="end" fill="#231f20">myCAFs</text>
<text transform="translate(615.37,308.20) rotate(-89.95)" font-size="7.45" text-anchor="end" fill="#231f20">Cancer basal</text>
<text transform="translate(631.38,308.20) rotate(-89.95)" font-size="7.45" text-anchor="end" fill="#231f20">MΦ</text>
<text transform="translate(647.39,308.20) rotate(-89.95)" font-size="7.45" text-anchor="end" fill="#231f20">Mono</text>
<text transform="translate(663.40,308.20) rotate(-89.95)" font-size="7.45" text-anchor="end" fill="#231f20">CD4<tspan dy="-2.5" font-size="4.5">+</tspan></text>
<text transform="translate(679.41,308.20) rotate(-89.95)" font-size="7.45" text-anchor="end" fill="#231f20">CD8<tspan dy="-2.5" font-size="4.5">+</tspan></text>
<text transform="translate(168.20,366.80) rotate(0.05)" font-size="9" text-anchor="start" fill="#231f20" textLength="23.30" lengthAdjust="spacingAndGlyphs">iCAFs</text>
<text transform="translate(276.50,366.80) rotate(0.05)" font-size="9" text-anchor="start" fill="#231f20" textLength="33.90" lengthAdjust="spacingAndGlyphs">myCAFs</text>
<text transform="translate(378.90,366.80) rotate(0.05)" font-size="9" text-anchor="start" fill="#231f20" textLength="53.50" lengthAdjust="spacingAndGlyphs">Cancer basal</text>
<text transform="translate(480.40,366.80) rotate(0.05)" font-size="9" text-anchor="start" fill="#231f20" textLength="75.80" lengthAdjust="spacingAndGlyphs">Macrophage (MΦ)</text>
<text transform="translate(593.00,366.80) rotate(0.05)" font-size="9" text-anchor="start" fill="#231f20" textLength="73.40" lengthAdjust="spacingAndGlyphs">Monocyte (mono)</text>
<text transform="translate(118.40,29.55) rotate(0.05)" font-size="6.2" text-anchor="end" fill="#111" textLength="41.20" lengthAdjust="spacingAndGlyphs">THY1–ADGRE5</text>
<text transform="translate(118.40,35.85) rotate(0.05)" font-size="6.2" text-anchor="end" fill="#111" textLength="41.20" lengthAdjust="spacingAndGlyphs">THY1–ADGRE2</text>
<text transform="translate(118.40,42.15) rotate(0.05)" font-size="6.2" text-anchor="end" fill="#111" textLength="38.50" lengthAdjust="spacingAndGlyphs">THBS2–SDC4</text>
<text transform="translate(118.40,48.45) rotate(0.05)" font-size="6.2" text-anchor="end" fill="#111" textLength="37.30" lengthAdjust="spacingAndGlyphs">THBS2–SDC1</text>
<text transform="translate(118.40,54.75) rotate(0.05)" font-size="6.2" text-anchor="end" fill="#111" textLength="38.10" lengthAdjust="spacingAndGlyphs">THBS2–CD47</text>
<text transform="translate(118.40,61.05) rotate(0.05)" font-size="6.2" text-anchor="end" fill="#111" textLength="38.10" lengthAdjust="spacingAndGlyphs">THBS2–CD36</text>
<text transform="translate(118.40,67.35) rotate(0.05)" font-size="6.2" text-anchor="end" fill="#111" textLength="37.30" lengthAdjust="spacingAndGlyphs">THBS1–SDC4</text>
<text transform="translate(118.40,73.65) rotate(0.05)" font-size="6.2" text-anchor="end" fill="#111" textLength="36.30" lengthAdjust="spacingAndGlyphs">THBS1–SDC1</text>
<text transform="translate(118.40,79.95) rotate(0.05)" font-size="6.2" text-anchor="end" fill="#111" textLength="37.50" lengthAdjust="spacingAndGlyphs">THBS1–CD47</text>
<text transform="translate(118.40,86.25) rotate(0.05)" font-size="6.2" text-anchor="end" fill="#111" textLength="37.50" lengthAdjust="spacingAndGlyphs">THBS1–CD36</text>
<text transform="translate(118.40,92.55) rotate(0.05)" font-size="6.2" text-anchor="end" fill="#111" textLength="29.00" lengthAdjust="spacingAndGlyphs">PPIA–BSG</text>
<text transform="translate(118.40,98.85) rotate(0.05)" font-size="6.2" text-anchor="end" fill="#111" textLength="37.80" lengthAdjust="spacingAndGlyphs">PLAU–PLAUR</text>
<text transform="translate(118.40,105.15) rotate(0.05)" font-size="6.2" text-anchor="end" fill="#111" textLength="39.70" lengthAdjust="spacingAndGlyphs">MPZL1–MPZL1</text>
<text transform="translate(118.40,111.45) rotate(0.05)" font-size="6.2" text-anchor="end" fill="#111" textLength="44.60" lengthAdjust="spacingAndGlyphs">LPAR1–ADGRE5</text>
<text transform="translate(118.40,117.75) rotate(0.05)" font-size="6.2" text-anchor="end" fill="#111" textLength="42.00" lengthAdjust="spacingAndGlyphs">LGALS9–P4HB</text>
<text transform="translate(118.40,124.05) rotate(0.05)" font-size="6.2" text-anchor="end" fill="#111" textLength="51.00" lengthAdjust="spacingAndGlyphs">LGALS9–HAVCR2</text>
<text transform="translate(118.40,130.35) rotate(0.05)" font-size="6.2" text-anchor="end" fill="#111" textLength="42.70" lengthAdjust="spacingAndGlyphs">LGALS9–CD45</text>
<text transform="translate(118.40,136.65) rotate(0.05)" font-size="6.2" text-anchor="end" fill="#111" textLength="42.90" lengthAdjust="spacingAndGlyphs">LGALS9–CD44</text>
<text transform="translate(118.40,142.95) rotate(0.05)" font-size="6.2" text-anchor="end" fill="#111" textLength="39.40" lengthAdjust="spacingAndGlyphs">HLA-F–LILRB1</text>
<text transform="translate(118.40,149.25) rotate(0.05)" font-size="6.2" text-anchor="end" fill="#111" textLength="36.80" lengthAdjust="spacingAndGlyphs">HLA-F–CD8B</text>
<text transform="translate(118.40,155.55) rotate(0.05)" font-size="6.2" text-anchor="end" fill="#111" textLength="37.50" lengthAdjust="spacingAndGlyphs">HLA-F–CD8A</text>
<text transform="translate(118.40,161.85) rotate(0.05)" font-size="6.2" text-anchor="end" fill="#111" textLength="36.80" lengthAdjust="spacingAndGlyphs">HLA-E–CD8B</text>
<text transform="translate(118.40,168.15) rotate(0.05)" font-size="6.2" text-anchor="end" fill="#111" textLength="37.80" lengthAdjust="spacingAndGlyphs">HLA-E–CD8A</text>
<text transform="translate(118.40,174.45) rotate(0.05)" font-size="6.2" text-anchor="end" fill="#111" textLength="38.10" lengthAdjust="spacingAndGlyphs">HLA-C–CD8B</text>
<text transform="translate(118.40,180.75) rotate(0.05)" font-size="6.2" text-anchor="end" fill="#111" textLength="38.50" lengthAdjust="spacingAndGlyphs">HLA-C–CD8A</text>
<text transform="translate(118.40,187.05) rotate(0.05)" font-size="6.2" text-anchor="end" fill="#111" textLength="37.50" lengthAdjust="spacingAndGlyphs">HLA-B–CD8B</text>
<text transform="translate(118.40,193.35) rotate(0.05)" font-size="6.2" text-anchor="end" fill="#111" textLength="37.80" lengthAdjust="spacingAndGlyphs">HLA-B–CD8A</text>
<text transform="translate(118.40,199.65) rotate(0.05)" font-size="6.2" text-anchor="end" fill="#111" textLength="37.80" lengthAdjust="spacingAndGlyphs">HLA-A–CD8B</text>
<text transform="translate(118.40,205.95) rotate(0.05)" font-size="6.2" text-anchor="end" fill="#111" textLength="38.10" lengthAdjust="spacingAndGlyphs">HLA-A–CD8A</text>
<text transform="translate(118.40,212.25) rotate(0.05)" font-size="6.2" text-anchor="end" fill="#111" textLength="29.90" lengthAdjust="spacingAndGlyphs">FN1–SDC4</text>
<text transform="translate(118.40,218.55) rotate(0.05)" font-size="6.2" text-anchor="end" fill="#111" textLength="28.70" lengthAdjust="spacingAndGlyphs">FN1–SDC1</text>
<text transform="translate(118.40,224.85) rotate(0.05)" font-size="6.2" text-anchor="end" fill="#111" textLength="29.60" lengthAdjust="spacingAndGlyphs">FN1–CD44</text>
<text transform="translate(118.40,231.15) rotate(0.05)" font-size="6.2" text-anchor="end" fill="#111" textLength="40.70" lengthAdjust="spacingAndGlyphs">FN1–ITGAV+B1</text>
<text transform="translate(118.40,237.45) rotate(0.05)" font-size="6.2" text-anchor="end" fill="#111" textLength="40.70" lengthAdjust="spacingAndGlyphs">FN1–ITGA5+B1</text>
<text transform="translate(118.40,243.75) rotate(0.05)" font-size="6.2" text-anchor="end" fill="#111" textLength="42.00" lengthAdjust="spacingAndGlyphs">FN1–ITGA4+B7</text>
<text transform="translate(118.40,250.05) rotate(0.05)" font-size="6.2" text-anchor="end" fill="#111" textLength="41.00" lengthAdjust="spacingAndGlyphs">FN1–ITGA4+B1</text>
<text transform="translate(118.40,256.35) rotate(0.05)" font-size="6.2" text-anchor="end" fill="#111" textLength="43.60" lengthAdjust="spacingAndGlyphs">CD55–ADGRE5</text>
<text transform="translate(118.40,262.65) rotate(0.05)" font-size="6.2" text-anchor="end" fill="#111" textLength="42.70" lengthAdjust="spacingAndGlyphs">APP–TNFRSF21</text>
<text transform="translate(118.40,268.95) rotate(0.05)" font-size="6.2" text-anchor="end" fill="#111" textLength="32.90" lengthAdjust="spacingAndGlyphs">APP–SORL1</text>
<text transform="translate(118.40,275.25) rotate(0.05)" font-size="6.2" text-anchor="end" fill="#111" textLength="30.40" lengthAdjust="spacingAndGlyphs">APP–CD74</text>
<text transform="translate(118.40,281.55) rotate(0.05)" font-size="6.2" text-anchor="end" fill="#111" textLength="59.80" lengthAdjust="spacingAndGlyphs">APP–TREM2/TYROBP</text>
<text transform="translate(118.40,287.85) rotate(0.05)" font-size="6.2" text-anchor="end" fill="#111" textLength="54.90" lengthAdjust="spacingAndGlyphs">ITGAV+B1–ADGRE5</text>
<text transform="translate(118.40,294.15) rotate(0.05)" font-size="6.2" text-anchor="end" fill="#111" textLength="54.40" lengthAdjust="spacingAndGlyphs">ITGAV+B1–ADGRE2</text>
<path d="M55.50,25.50 H52.50 V34.40 H55.50" fill="none" stroke="#666" stroke-width="0.7"/>
<text transform="translate(47.90,31.70) rotate(0.05)" font-size="8.6" text-anchor="end" fill="#231f20" font-style="italic" textLength="29.20" lengthAdjust="spacingAndGlyphs">ADGRE</text>
<path d="M55.50,39.50 H52.50 V82.70 H55.50" fill="none" stroke="#666" stroke-width="0.7"/>
<text transform="translate(47.90,63.20) rotate(0.05)" font-size="8.6" text-anchor="end" fill="#231f20" font-style="italic" textLength="21.30" lengthAdjust="spacingAndGlyphs">THBS</text>
<path d="M55.50,87.30 H52.50 V91.35 H55.50" fill="none" stroke="#666" stroke-width="0.7"/>
<text transform="translate(48.00,88.10) rotate(0.05)" font-size="8.6" text-anchor="end" fill="#231f20" font-style="italic" textLength="21.90" lengthAdjust="spacingAndGlyphs">CypA</text>
<path d="M55.50,93.40 H52.50 V98.00 H55.50" fill="none" stroke="#666" stroke-width="0.7"/>
<text transform="translate(48.00,96.70) rotate(0.05)" font-size="8.6" text-anchor="end" fill="#231f20" font-style="italic" textLength="21.30" lengthAdjust="spacingAndGlyphs">PLAU</text>
<path d="M55.50,99.50 H52.50 V104.10 H55.50" fill="none" stroke="#666" stroke-width="0.7"/>
<text transform="translate(48.00,105.50) rotate(0.05)" font-size="8.6" text-anchor="end" fill="#231f20" font-style="italic" textLength="17.90" lengthAdjust="spacingAndGlyphs">MPZ</text>
<path d="M55.50,106.20 H52.50 V110.25 H55.50" fill="none" stroke="#666" stroke-width="0.7"/>
<text transform="translate(48.00,114.10) rotate(0.05)" font-size="8.6" text-anchor="end" fill="#231f20" font-style="italic" textLength="29.10" lengthAdjust="spacingAndGlyphs">ADGRE</text>
<path d="M55.50,114.30 H52.50 V134.30 H55.50" fill="none" stroke="#666" stroke-width="0.7"/>
<text transform="translate(48.00,125.00) rotate(0.05)" font-size="8.6" text-anchor="end" fill="#231f20" font-style="italic" textLength="34.00" lengthAdjust="spacingAndGlyphs">Galectin</text>
<path d="M55.50,139.00 H52.50 V204.60 H55.50" fill="none" stroke="#666" stroke-width="0.7"/>
<text transform="translate(48.00,171.10) rotate(0.05)" font-size="8.6" text-anchor="end" fill="#231f20" font-style="italic" textLength="47.70" lengthAdjust="spacingAndGlyphs">MHC class I</text>
<path d="M55.50,208.10 H52.50 V248.10 H55.50" fill="none" stroke="#666" stroke-width="0.7"/>
<text transform="translate(48.10,237.50) rotate(0.05)" font-size="8.6" text-anchor="end" fill="#231f20" font-style="italic" textLength="14.70" lengthAdjust="spacingAndGlyphs">FN1</text>
<path d="M55.50,252.00 H52.50 V256.50 H55.50" fill="none" stroke="#666" stroke-width="0.7"/>
<text transform="translate(48.10,257.70) rotate(0.05)" font-size="8.6" text-anchor="end" fill="#231f20" font-style="italic" textLength="29.40" lengthAdjust="spacingAndGlyphs">ADGRE</text>
<path d="M55.50,260.50 H52.50 V280.50 H55.50" fill="none" stroke="#666" stroke-width="0.7"/>
<text transform="translate(48.10,271.00) rotate(0.05)" font-size="8.6" text-anchor="end" fill="#231f20" font-style="italic" textLength="15.90" lengthAdjust="spacingAndGlyphs">APP</text>
<path d="M55.50,286.20 H52.50 V293.60 H55.50" fill="none" stroke="#666" stroke-width="0.7"/>
<text transform="translate(48.10,293.60) rotate(0.05)" font-size="8.6" text-anchor="end" fill="#231f20" font-style="italic" textLength="29.40" lengthAdjust="spacingAndGlyphs">ADGRE</text>
<circle cx="136.41" cy="27.35" r="2.3" fill="#3288bd"/>
<rect x="132.51" y="23.50" width="7.81" height="6.90" fill="none" stroke="#ff0000" stroke-width="0.9"/>
<circle cx="184.44" cy="27.35" r="2.3" fill="#66c2a5"/>
<rect x="180.54" y="23.50" width="7.81" height="6.90" fill="none" stroke="#ff0000" stroke-width="0.9"/>
<circle cx="192.45" cy="27.35" r="2.3" fill="#3288bd"/>
<rect x="188.55" y="23.50" width="7.81" height="6.90" fill="none" stroke="#0000ff" stroke-width="0.9"/>
<circle cx="200.46" cy="27.35" r="2.3" fill="#4ba5b3"/>
<circle cx="216.47" cy="27.35" r="2.3" fill="#66c2a5"/>
<rect x="212.57" y="23.50" width="7.81" height="6.90" fill="none" stroke="#ff0000" stroke-width="0.9"/>
<circle cx="224.48" cy="27.35" r="2.3" fill="#66c2a5"/>
<circle cx="232.48" cy="27.35" r="2.3" fill="#a5daa4"/>
<circle cx="248.49" cy="27.35" r="2.3" fill="#3288bd"/>
<rect x="244.59" y="23.50" width="7.81" height="6.90" fill="none" stroke="#ff0000" stroke-width="0.9"/>
<circle cx="296.53" cy="27.35" r="2.3" fill="#66c2a5"/>
<rect x="292.63" y="23.50" width="7.81" height="6.90" fill="none" stroke="#ff0000" stroke-width="0.9"/>
<circle cx="304.53" cy="27.35" r="2.3" fill="#4ba5b3"/>
<circle cx="312.54" cy="27.35" r="2.3" fill="#4ba5b3"/>
<circle cx="328.55" cy="27.35" r="2.3" fill="#66c2a5"/>
<rect x="324.65" y="23.50" width="7.81" height="6.90" fill="none" stroke="#ff0000" stroke-width="0.9"/>
<circle cx="336.56" cy="27.35" r="2.3" fill="#a5daa4"/>
<circle cx="344.57" cy="27.35" r="2.3" fill="#a5daa4"/>
<circle cx="184.44" cy="33.65" r="2.3" fill="#66c2a5"/>
<rect x="180.54" y="30.60" width="7.81" height="6.10" fill="none" stroke="#ff0000" stroke-width="0.9"/>
<circle cx="200.46" cy="33.65" r="2.3" fill="#4ba5b3"/>
<rect x="196.55" y="30.60" width="7.81" height="6.10" fill="none" stroke="#ff0000" stroke-width="0.9"/>
<circle cx="296.53" cy="33.65" r="2.3" fill="#66c2a5"/>
<rect x="292.63" y="30.60" width="7.81" height="6.10" fill="none" stroke="#ff0000" stroke-width="0.9"/>
<circle cx="312.54" cy="33.65" r="2.3" fill="#4ba5b3"/>
<rect x="308.64" y="30.60" width="7.81" height="6.10" fill="none" stroke="#ff0000" stroke-width="0.9"/>
<circle cx="160.43" cy="39.95" r="2.3" fill="#4ba5b3"/>
<circle cx="168.43" cy="39.95" r="2.3" fill="#4ba5b3"/>
<circle cx="272.51" cy="39.95" r="2.3" fill="#4ba5b3"/>
<circle cx="280.52" cy="39.95" r="2.3" fill="#4ba5b3"/>
<circle cx="152.42" cy="46.25" r="2.3" fill="#3288bd"/>
<rect x="148.52" y="43.20" width="7.81" height="6.10" fill="none" stroke="#ff0000" stroke-width="0.9"/>
<circle cx="160.43" cy="46.25" r="2.3" fill="#4ba5b3"/>
<circle cx="168.43" cy="46.25" r="2.3" fill="#4ba5b3"/>
<circle cx="264.50" cy="46.25" r="2.3" fill="#3288bd"/>
<rect x="260.60" y="43.20" width="7.81" height="6.10" fill="none" stroke="#ff0000" stroke-width="0.9"/>
<circle cx="272.51" cy="46.25" r="2.3" fill="#4ba5b3"/>
<circle cx="280.52" cy="46.25" r="2.3" fill="#4ba5b3"/>
<circle cx="128.40" cy="52.55" r="2.3" fill="#4ba5b3"/>
<circle cx="136.41" cy="52.55" r="2.3" fill="#3288bd"/>
<circle cx="144.42" cy="52.55" r="2.3" fill="#4ba5b3"/>
<circle cx="152.42" cy="52.55" r="2.3" fill="#4862ab"/>
<circle cx="160.43" cy="52.55" r="2.3" fill="#4ba5b3"/>
<circle cx="168.43" cy="52.55" r="2.3" fill="#66c2a5"/>
<circle cx="176.44" cy="52.55" r="2.3" fill="#3288bd"/>
<circle cx="184.44" cy="52.55" r="2.3" fill="#66c2a5"/>
<circle cx="192.45" cy="52.55" r="2.3" fill="#3288bd"/>
<circle cx="200.46" cy="52.55" r="2.3" fill="#4ba5b3"/>
<circle cx="208.46" cy="52.55" r="2.3" fill="#66c2a5"/>
<circle cx="216.47" cy="52.55" r="2.3" fill="#66c2a5"/>
<circle cx="232.48" cy="52.55" r="2.3" fill="#66c2a5"/>
<rect x="228.58" y="49.50" width="7.81" height="6.10" fill="none" stroke="#ff0000" stroke-width="0.9"/>
<circle cx="240.49" cy="52.55" r="2.3" fill="#4ba5b3"/>
<circle cx="248.49" cy="52.55" r="2.3" fill="#3288bd"/>
<circle cx="256.50" cy="52.55" r="2.3" fill="#4ba5b3"/>
<circle cx="264.50" cy="52.55" r="2.3" fill="#3288bd"/>
<circle cx="272.51" cy="52.55" r="2.3" fill="#4ba5b3"/>
<circle cx="280.52" cy="52.55" r="2.3" fill="#66c2a5"/>
<circle cx="288.52" cy="52.55" r="2.3" fill="#4ba5b3"/>
<circle cx="296.53" cy="52.55" r="2.3" fill="#66c2a5"/>
<circle cx="304.53" cy="52.55" r="2.3" fill="#3288bd"/>
<circle cx="312.54" cy="52.55" r="2.3" fill="#4ba5b3"/>
<circle cx="320.55" cy="52.55" r="2.3" fill="#66c2a5"/>
<circle cx="328.55" cy="52.55" r="2.3" fill="#66c2a5"/>
<circle cx="344.57" cy="52.55" r="2.3" fill="#66c2a5"/>
<rect x="340.66" y="49.50" width="7.81" height="6.10" fill="none" stroke="#ff0000" stroke-width="0.9"/>
<circle cx="200.46" cy="58.85" r="2.3" fill="#3288bd"/>
<rect x="196.55" y="55.80" width="7.81" height="6.10" fill="none" stroke="#ff0000" stroke-width="0.9"/>
<circle cx="312.54" cy="58.85" r="2.3" fill="#4ba5b3"/>
<rect x="308.64" y="55.80" width="7.81" height="6.10" fill="none" stroke="#ff0000" stroke-width="0.9"/>
<circle cx="160.43" cy="65.15" r="2.3" fill="#3288bd"/>
<circle cx="168.43" cy="65.15" r="2.3" fill="#3288bd"/>
<circle cx="272.51" cy="65.15" r="2.3" fill="#4ba5b3"/>
<circle cx="280.52" cy="65.15" r="2.3" fill="#4ba5b3"/>
<circle cx="616.77" cy="65.15" r="2.3" fill="#66c2a5"/>
<rect x="612.87" y="62.10" width="7.81" height="6.10" fill="none" stroke="#ff0000" stroke-width="0.9"/>
<circle cx="152.42" cy="71.45" r="2.3" fill="#3288bd"/>
<rect x="148.52" y="68.40" width="7.81" height="6.10" fill="none" stroke="#ff0000" stroke-width="0.9"/>
<circle cx="160.43" cy="71.45" r="2.3" fill="#4ba5b3"/>
<circle cx="168.43" cy="71.45" r="2.3" fill="#4ba5b3"/>
<circle cx="264.50" cy="71.45" r="2.3" fill="#3288bd"/>
<rect x="260.60" y="68.40" width="7.81" height="6.10" fill="none" stroke="#ff0000" stroke-width="0.9"/>
<circle cx="272.51" cy="71.45" r="2.3" fill="#4ba5b3"/>
<circle cx="280.52" cy="71.45" r="2.3" fill="#4ba5b3"/>
<circle cx="600.76" cy="71.45" r="2.3" fill="#3288bd"/>
<rect x="596.85" y="68.40" width="7.81" height="6.10" fill="none" stroke="#ff0000" stroke-width="0.9"/>
<circle cx="616.77" cy="71.45" r="2.3" fill="#66c2a5"/>
<rect x="612.87" y="68.40" width="7.81" height="6.10" fill="none" stroke="#ff0000" stroke-width="0.9"/>
<circle cx="128.40" cy="77.75" r="2.3" fill="#4ba5b3"/>
<circle cx="136.41" cy="77.75" r="2.3" fill="#3288bd"/>
<circle cx="144.42" cy="77.75" r="2.3" fill="#4ba5b3"/>
<circle cx="152.42" cy="77.75" r="2.3" fill="#4862ab"/>
<circle cx="160.43" cy="77.75" r="2.3" fill="#4ba5b3"/>
<circle cx="168.43" cy="77.75" r="2.3" fill="#66c2a5"/>
<rect x="164.53" y="74.70" width="7.81" height="6.10" fill="none" stroke="#ff0000" stroke-width="0.9"/>
<circle cx="176.44" cy="77.75" r="2.3" fill="#3288bd"/>
<circle cx="184.44" cy="77.75" r="2.3" fill="#66c2a5"/>
<circle cx="192.45" cy="77.75" r="2.3" fill="#3288bd"/>
<circle cx="200.46" cy="77.75" r="2.3" fill="#4ba5b3"/>
<circle cx="208.46" cy="77.75" r="2.3" fill="#66c2a5"/>
<circle cx="216.47" cy="77.75" r="2.3" fill="#66c2a5"/>
<circle cx="232.48" cy="77.75" r="2.3" fill="#66c2a5"/>
<rect x="228.58" y="74.70" width="7.81" height="6.10" fill="none" stroke="#ff0000" stroke-width="0.9"/>
<circle cx="240.49" cy="77.75" r="2.3" fill="#4ba5b3"/>
<circle cx="248.49" cy="77.75" r="2.3" fill="#4ba5b3"/>
<circle cx="256.50" cy="77.75" r="2.3" fill="#4ba5b3"/>
<circle cx="264.50" cy="77.75" r="2.3" fill="#3288bd"/>
<circle cx="272.51" cy="77.75" r="2.3" fill="#4ba5b3"/>
<circle cx="280.52" cy="77.75" r="2.3" fill="#66c2a5"/>
<circle cx="288.52" cy="77.75" r="2.3" fill="#4ba5b3"/>
<circle cx="296.53" cy="77.75" r="2.3" fill="#66c2a5"/>
<rect x="292.63" y="74.70" width="7.81" height="6.10" fill="none" stroke="#ff0000" stroke-width="0.9"/>
<circle cx="304.53" cy="77.75" r="2.3" fill="#3288bd"/>
<circle cx="312.54" cy="77.75" r="2.3" fill="#4ba5b3"/>
<circle cx="320.55" cy="77.75" r="2.3" fill="#66c2a5"/>
<circle cx="328.55" cy="77.75" r="2.3" fill="#66c2a5"/>
<circle cx="344.57" cy="77.75" r="2.3" fill="#66c2a5"/>
<rect x="340.66" y="74.70" width="7.81" height="6.10" fill="none" stroke="#ff0000" stroke-width="0.9"/>
<circle cx="584.75" cy="77.75" r="2.3" fill="#4ba5b3"/>
<rect x="580.84" y="74.70" width="7.81" height="6.10" fill="none" stroke="#ff0000" stroke-width="0.9"/>
<circle cx="600.76" cy="77.75" r="2.3" fill="#3288bd"/>
<rect x="596.85" y="74.70" width="7.81" height="6.10" fill="none" stroke="#ff0000" stroke-width="0.9"/>
<circle cx="616.77" cy="77.75" r="2.3" fill="#a5daa4"/>
<rect x="612.87" y="74.70" width="7.81" height="6.10" fill="none" stroke="#ff0000" stroke-width="0.9"/>
<circle cx="632.78" cy="77.75" r="2.3" fill="#a5daa4"/>
<rect x="628.88" y="74.70" width="7.81" height="6.10" fill="none" stroke="#ff0000" stroke-width="0.9"/>
<circle cx="648.79" cy="77.75" r="2.3" fill="#66c2a5"/>
<rect x="644.89" y="74.70" width="7.81" height="6.10" fill="none" stroke="#ff0000" stroke-width="0.9"/>
<circle cx="664.80" cy="77.75" r="2.3" fill="#a5daa4"/>
<rect x="660.90" y="74.70" width="7.81" height="6.10" fill="none" stroke="#ff0000" stroke-width="0.9"/>
<circle cx="680.82" cy="77.75" r="2.3" fill="#a5daa4"/>
<rect x="676.91" y="74.70" width="7.81" height="6.10" fill="none" stroke="#ff0000" stroke-width="0.9"/>
<circle cx="200.46" cy="84.05" r="2.3" fill="#3288bd"/>
<rect x="196.55" y="81.00" width="7.81" height="6.10" fill="none" stroke="#ff0000" stroke-width="0.9"/>
<circle cx="312.54" cy="84.05" r="2.3" fill="#3288bd"/>
<rect x="308.64" y="81.00" width="7.81" height="6.10" fill="none" stroke="#ff0000" stroke-width="0.9"/>
<circle cx="648.79" cy="84.05" r="2.3" fill="#66c2a5"/>
<rect x="644.89" y="81.00" width="7.81" height="6.10" fill="none" stroke="#ff0000" stroke-width="0.9"/>
<circle cx="152.42" cy="90.35" r="2.3" fill="#4ba5b3"/>
<rect x="148.52" y="87.30" width="7.81" height="6.10" fill="none" stroke="#ff0000" stroke-width="0.9"/>
<circle cx="168.43" cy="90.35" r="2.3" fill="#a5daa4"/>
<rect x="164.53" y="87.30" width="7.81" height="6.10" fill="none" stroke="#ff0000" stroke-width="0.9"/>
<circle cx="264.50" cy="90.35" r="2.3" fill="#4ba5b3"/>
<rect x="260.60" y="87.30" width="7.81" height="6.10" fill="none" stroke="#ff0000" stroke-width="0.9"/>
<circle cx="280.52" cy="90.35" r="2.3" fill="#a5daa4"/>
<rect x="276.61" y="87.30" width="7.81" height="6.10" fill="none" stroke="#ff0000" stroke-width="0.9"/>
<circle cx="296.53" cy="90.35" r="2.3" fill="#a5daa4"/>
<rect x="292.63" y="87.30" width="7.81" height="6.10" fill="none" stroke="#ff0000" stroke-width="0.9"/>
<circle cx="352.57" cy="90.35" r="2.3" fill="#e2f29a"/>
<circle cx="360.58" cy="90.35" r="2.3" fill="#a5daa4"/>
<circle cx="368.58" cy="90.35" r="2.3" fill="#e2f29a"/>
<circle cx="376.59" cy="90.35" r="2.3" fill="#a5daa4"/>
<circle cx="384.60" cy="90.35" r="2.3" fill="#e2f29a"/>
<circle cx="392.60" cy="90.35" r="2.3" fill="#fdae61"/>
<circle cx="408.61" cy="90.35" r="2.3" fill="#fdae61"/>
<rect x="404.71" y="87.30" width="7.81" height="6.10" fill="none" stroke="#ff0000" stroke-width="0.9"/>
<circle cx="424.62" cy="90.35" r="2.3" fill="#fdd47f"/>
<rect x="420.72" y="87.30" width="7.81" height="6.10" fill="none" stroke="#ff0000" stroke-width="0.9"/>
<circle cx="472.66" cy="90.35" r="2.3" fill="#a5daa4"/>
<rect x="468.76" y="87.30" width="7.81" height="6.10" fill="none" stroke="#ff0000" stroke-width="0.9"/>
<circle cx="488.67" cy="90.35" r="2.3" fill="#a5daa4"/>
<rect x="484.77" y="87.30" width="7.81" height="6.10" fill="none" stroke="#ff0000" stroke-width="0.9"/>
<circle cx="504.69" cy="90.35" r="2.3" fill="#fdae61"/>
<rect x="500.78" y="87.30" width="7.81" height="6.10" fill="none" stroke="#ff0000" stroke-width="0.9"/>
<circle cx="520.70" cy="90.35" r="2.3" fill="#fdae61"/>
<rect x="516.79" y="87.30" width="7.81" height="6.10" fill="none" stroke="#ff0000" stroke-width="0.9"/>
<circle cx="584.75" cy="90.35" r="2.3" fill="#a5daa4"/>
<rect x="580.84" y="87.30" width="7.81" height="6.10" fill="none" stroke="#ff0000" stroke-width="0.9"/>
<circle cx="600.76" cy="90.35" r="2.3" fill="#a5daa4"/>
<rect x="596.85" y="87.30" width="7.81" height="6.10" fill="none" stroke="#ff0000" stroke-width="0.9"/>
<circle cx="616.77" cy="90.35" r="2.3" fill="#fdd47f"/>
<rect x="612.87" y="87.30" width="7.81" height="6.10" fill="none" stroke="#ff0000" stroke-width="0.9"/>
<circle cx="632.78" cy="90.35" r="2.3" fill="#fdd47f"/>
<rect x="628.88" y="87.30" width="7.81" height="6.10" fill="none" stroke="#ff0000" stroke-width="0.9"/>
<circle cx="248.49" cy="96.65" r="2.3" fill="#3288bd"/>
<rect x="244.59" y="93.60" width="7.81" height="6.10" fill="none" stroke="#ff0000" stroke-width="0.9"/>
<circle cx="256.50" cy="96.65" r="2.3" fill="#4ba5b3"/>
<circle cx="264.50" cy="96.65" r="2.3" fill="#3288bd"/>
<circle cx="280.52" cy="96.65" r="2.3" fill="#4ba5b3"/>
<rect x="276.61" y="93.60" width="7.81" height="6.10" fill="none" stroke="#ff0000" stroke-width="0.9"/>
<circle cx="288.52" cy="96.65" r="2.3" fill="#66c2a5"/>
<circle cx="296.53" cy="96.65" r="2.3" fill="#a5daa4"/>
<circle cx="304.53" cy="96.65" r="2.3" fill="#66c2a5"/>
<circle cx="312.54" cy="96.65" r="2.3" fill="#a5daa4"/>
<circle cx="472.66" cy="96.65" r="2.3" fill="#4ba5b3"/>
<rect x="468.76" y="93.60" width="7.81" height="6.10" fill="none" stroke="#ff0000" stroke-width="0.9"/>
<circle cx="480.67" cy="96.65" r="2.3" fill="#3288bd"/>
<circle cx="488.67" cy="96.65" r="2.3" fill="#66c2a5"/>
<rect x="484.77" y="93.60" width="7.81" height="6.10" fill="none" stroke="#ff0000" stroke-width="0.9"/>
<circle cx="504.69" cy="96.65" r="2.3" fill="#66c2a5"/>
<rect x="500.78" y="93.60" width="7.81" height="6.10" fill="none" stroke="#ff0000" stroke-width="0.9"/>
<circle cx="512.69" cy="96.65" r="2.3" fill="#66c2a5"/>
<circle cx="520.70" cy="96.65" r="2.3" fill="#fdd47f"/>
<rect x="516.79" y="93.60" width="7.81" height="6.10" fill="none" stroke="#ff0000" stroke-width="0.9"/>
<circle cx="528.70" cy="96.65" r="2.3" fill="#4ba5b3"/>
<circle cx="536.71" cy="96.65" r="2.3" fill="#e2f29a"/>
<rect x="532.81" y="93.60" width="7.81" height="6.10" fill="none" stroke="#ff0000" stroke-width="0.9"/>
<circle cx="584.75" cy="96.65" r="2.3" fill="#3288bd"/>
<rect x="580.84" y="93.60" width="7.81" height="6.10" fill="none" stroke="#ff0000" stroke-width="0.9"/>
<circle cx="600.76" cy="96.65" r="2.3" fill="#3288bd"/>
<rect x="596.85" y="93.60" width="7.81" height="6.10" fill="none" stroke="#ff0000" stroke-width="0.9"/>
<circle cx="616.77" cy="96.65" r="2.3" fill="#4ba5b3"/>
<rect x="612.87" y="93.60" width="7.81" height="6.10" fill="none" stroke="#ff0000" stroke-width="0.9"/>
<circle cx="632.78" cy="96.65" r="2.3" fill="#a5daa4"/>
<rect x="628.88" y="93.60" width="7.81" height="6.10" fill="none" stroke="#ff0000" stroke-width="0.9"/>
<circle cx="648.79" cy="96.65" r="2.3" fill="#66c2a5"/>
<rect x="644.89" y="93.60" width="7.81" height="6.10" fill="none" stroke="#ff0000" stroke-width="0.9"/>
<circle cx="136.41" cy="102.95" r="2.3" fill="#4862ab"/>
<rect x="132.51" y="99.90" width="7.81" height="6.10" fill="none" stroke="#ff0000" stroke-width="0.9"/>
<circle cx="152.42" cy="102.95" r="2.3" fill="#3288bd"/>
<rect x="148.52" y="99.90" width="7.81" height="6.10" fill="none" stroke="#ff0000" stroke-width="0.9"/>
<circle cx="168.43" cy="102.95" r="2.3" fill="#3288bd"/>
<circle cx="184.44" cy="102.95" r="2.3" fill="#3288bd"/>
<rect x="180.54" y="99.90" width="7.81" height="6.10" fill="none" stroke="#ff0000" stroke-width="0.9"/>
<circle cx="248.49" cy="102.95" r="2.3" fill="#3288bd"/>
<rect x="244.59" y="99.90" width="7.81" height="6.10" fill="none" stroke="#ff0000" stroke-width="0.9"/>
<circle cx="264.50" cy="102.95" r="2.3" fill="#3288bd"/>
<rect x="260.60" y="99.90" width="7.81" height="6.10" fill="none" stroke="#ff0000" stroke-width="0.9"/>
<circle cx="280.52" cy="102.95" r="2.3" fill="#4ba5b3"/>
<rect x="276.61" y="99.90" width="7.81" height="6.10" fill="none" stroke="#ff0000" stroke-width="0.9"/>
<circle cx="296.53" cy="102.95" r="2.3" fill="#4ba5b3"/>
<rect x="292.63" y="99.90" width="7.81" height="6.10" fill="none" stroke="#ff0000" stroke-width="0.9"/>
<circle cx="360.58" cy="102.95" r="2.3" fill="#3288bd"/>
<rect x="356.67" y="99.90" width="7.81" height="6.10" fill="none" stroke="#ff0000" stroke-width="0.9"/>
<circle cx="376.59" cy="102.95" r="2.3" fill="#4ba5b3"/>
<rect x="372.69" y="99.90" width="7.81" height="6.10" fill="none" stroke="#ff0000" stroke-width="0.9"/>
<circle cx="384.60" cy="102.95" r="2.3" fill="#4ba5b3"/>
<circle cx="392.60" cy="102.95" r="2.3" fill="#66c2a5"/>
<circle cx="408.61" cy="102.95" r="2.3" fill="#66c2a5"/>
<rect x="404.71" y="99.90" width="7.81" height="6.10" fill="none" stroke="#ff0000" stroke-width="0.9"/>
<circle cx="472.66" cy="102.95" r="2.3" fill="#3288bd"/>
<rect x="468.76" y="99.90" width="7.81" height="6.10" fill="none" stroke="#ff0000" stroke-width="0.9"/>
<circle cx="488.67" cy="102.95" r="2.3" fill="#4ba5b3"/>
<rect x="484.77" y="99.90" width="7.81" height="6.10" fill="none" stroke="#ff0000" stroke-width="0.9"/>
<circle cx="504.69" cy="102.95" r="2.3" fill="#66c2a5"/>
<rect x="500.78" y="99.90" width="7.81" height="6.10" fill="none" stroke="#ff0000" stroke-width="0.9"/>
<circle cx="520.70" cy="102.95" r="2.3" fill="#4ba5b3"/>
<rect x="516.79" y="99.90" width="7.81" height="6.10" fill="none" stroke="#ff0000" stroke-width="0.9"/>
<circle cx="136.41" cy="109.25" r="2.3" fill="#5e4fa2"/>
<rect x="132.51" y="106.20" width="7.81" height="6.10" fill="none" stroke="#ff0000" stroke-width="0.9"/>
<circle cx="184.44" cy="109.25" r="2.3" fill="#3288bd"/>
<rect x="180.54" y="106.20" width="7.81" height="6.10" fill="none" stroke="#ff0000" stroke-width="0.9"/>
<circle cx="200.46" cy="109.25" r="2.3" fill="#3288bd"/>
<rect x="196.55" y="106.20" width="7.81" height="6.10" fill="none" stroke="#ff0000" stroke-width="0.9"/>
<circle cx="216.47" cy="109.25" r="2.3" fill="#4ba5b3"/>
<rect x="212.57" y="106.20" width="7.81" height="6.10" fill="none" stroke="#ff0000" stroke-width="0.9"/>
<circle cx="232.48" cy="109.25" r="2.3" fill="#66c2a5"/>
<rect x="228.58" y="106.20" width="7.81" height="6.10" fill="none" stroke="#ff0000" stroke-width="0.9"/>
<circle cx="248.49" cy="109.25" r="2.3" fill="#5e4fa2"/>
<rect x="244.59" y="106.20" width="7.81" height="6.10" fill="none" stroke="#ff0000" stroke-width="0.9"/>
<circle cx="296.53" cy="109.25" r="2.3" fill="#3288bd"/>
<rect x="292.63" y="106.20" width="7.81" height="6.10" fill="none" stroke="#ff0000" stroke-width="0.9"/>
<circle cx="312.54" cy="109.25" r="2.3" fill="#3288bd"/>
<rect x="308.64" y="106.20" width="7.81" height="6.10" fill="none" stroke="#ff0000" stroke-width="0.9"/>
<circle cx="328.55" cy="109.25" r="2.3" fill="#3288bd"/>
<rect x="324.65" y="106.20" width="7.81" height="6.10" fill="none" stroke="#ff0000" stroke-width="0.9"/>
<circle cx="344.57" cy="109.25" r="2.3" fill="#4ba5b3"/>
<rect x="340.66" y="106.20" width="7.81" height="6.10" fill="none" stroke="#ff0000" stroke-width="0.9"/>
<circle cx="152.42" cy="115.55" r="2.3" fill="#3288bd"/>
<rect x="148.52" y="112.50" width="7.81" height="6.10" fill="none" stroke="#ff0000" stroke-width="0.9"/>
<circle cx="168.43" cy="115.55" r="2.3" fill="#66c2a5"/>
<rect x="164.53" y="112.50" width="7.81" height="6.10" fill="none" stroke="#ff0000" stroke-width="0.9"/>
<circle cx="264.50" cy="115.55" r="2.3" fill="#3288bd"/>
<rect x="260.60" y="112.50" width="7.81" height="6.10" fill="none" stroke="#ff0000" stroke-width="0.9"/>
<circle cx="280.52" cy="115.55" r="2.3" fill="#66c2a5"/>
<rect x="276.61" y="112.50" width="7.81" height="6.10" fill="none" stroke="#ff0000" stroke-width="0.9"/>
<circle cx="296.53" cy="115.55" r="2.3" fill="#66c2a5"/>
<rect x="292.63" y="112.50" width="7.81" height="6.10" fill="none" stroke="#ff0000" stroke-width="0.9"/>
<circle cx="464.65" cy="115.55" r="2.3" fill="#4ba5b3"/>
<circle cx="472.66" cy="115.55" r="2.3" fill="#a5daa4"/>
<rect x="468.76" y="112.50" width="7.81" height="6.10" fill="none" stroke="#ff0000" stroke-width="0.9"/>
<circle cx="480.67" cy="115.55" r="2.3" fill="#66c2a5"/>
<circle cx="488.67" cy="115.55" r="2.3" fill="#a5daa4"/>
<circle cx="496.68" cy="115.55" r="2.3" fill="#66c2a5"/>
<circle cx="504.69" cy="115.55" r="2.3" fill="#fdae61"/>
<rect x="500.78" y="112.50" width="7.81" height="6.10" fill="none" stroke="#ff0000" stroke-width="0.9"/>
<circle cx="512.69" cy="115.55" r="2.3" fill="#66c2a5"/>
<circle cx="520.70" cy="115.55" r="2.3" fill="#fdd47f"/>
<rect x="516.79" y="112.50" width="7.81" height="6.10" fill="none" stroke="#ff0000" stroke-width="0.9"/>
<circle cx="528.70" cy="115.55" r="2.3" fill="#3288bd"/>
<circle cx="536.71" cy="115.55" r="2.3" fill="#e2f29a"/>
<rect x="532.81" y="112.50" width="7.81" height="6.10" fill="none" stroke="#ff0000" stroke-width="0.9"/>
<circle cx="544.72" cy="115.55" r="2.3" fill="#66c2a5"/>
<circle cx="552.72" cy="115.55" r="2.3" fill="#e2f29a"/>
<rect x="548.82" y="112.50" width="7.81" height="6.10" fill="none" stroke="#ff0000" stroke-width="0.9"/>
<circle cx="560.73" cy="115.55" r="2.3" fill="#66c2a5"/>
<circle cx="568.73" cy="115.55" r="2.3" fill="#e2f29a"/>
<rect x="564.83" y="112.50" width="7.81" height="6.10" fill="none" stroke="#ff0000" stroke-width="0.9"/>
<circle cx="576.74" cy="115.55" r="2.3" fill="#4ba5b3"/>
<circle cx="584.75" cy="115.55" r="2.3" fill="#66c2a5"/>
<circle cx="592.75" cy="115.55" r="2.3" fill="#4ba5b3"/>
<circle cx="600.76" cy="115.55" r="2.3" fill="#66c2a5"/>
<circle cx="608.76" cy="115.55" r="2.3" fill="#66c2a5"/>
<circle cx="616.77" cy="115.55" r="2.3" fill="#e2f29a"/>
<rect x="612.87" y="112.50" width="7.81" height="6.10" fill="none" stroke="#ff0000" stroke-width="0.9"/>
<circle cx="624.77" cy="115.55" r="2.3" fill="#4ba5b3"/>
<circle cx="632.78" cy="115.55" r="2.3" fill="#e2f29a"/>
<rect x="628.88" y="112.50" width="7.81" height="6.10" fill="none" stroke="#ff0000" stroke-width="0.9"/>
<circle cx="640.79" cy="115.55" r="2.3" fill="#3288bd"/>
<circle cx="648.79" cy="115.55" r="2.3" fill="#a5daa4"/>
<rect x="644.89" y="112.50" width="7.81" height="6.10" fill="none" stroke="#ff0000" stroke-width="0.9"/>
<circle cx="656.80" cy="115.55" r="2.3" fill="#66c2a5"/>
<circle cx="664.80" cy="115.55" r="2.3" fill="#a5daa4"/>
<rect x="660.90" y="112.50" width="7.81" height="6.10" fill="none" stroke="#ff0000" stroke-width="0.9"/>
<circle cx="672.81" cy="115.55" r="2.3" fill="#4ba5b3"/>
<circle cx="680.82" cy="115.55" r="2.3" fill="#a5daa4"/>
<rect x="676.91" y="112.50" width="7.81" height="6.10" fill="none" stroke="#ff0000" stroke-width="0.9"/>
<circle cx="184.44" cy="121.85" r="2.3" fill="#3288bd"/>
<rect x="180.54" y="118.80" width="7.81" height="6.10" fill="none" stroke="#ff0000" stroke-width="0.9"/>
<circle cx="200.46" cy="121.85" r="2.3" fill="#3288bd"/>
<rect x="196.55" y="118.80" width="7.81" height="6.10" fill="none" stroke="#ff0000" stroke-width="0.9"/>
<circle cx="296.53" cy="121.85" r="2.3" fill="#3288bd"/>
<rect x="292.63" y="118.80" width="7.81" height="6.10" fill="none" stroke="#ff0000" stroke-width="0.9"/>
<circle cx="312.54" cy="121.85" r="2.3" fill="#3288bd"/>
<rect x="308.64" y="118.80" width="7.81" height="6.10" fill="none" stroke="#ff0000" stroke-width="0.9"/>
<circle cx="512.69" cy="121.85" r="2.3" fill="#4ba5b3"/>
<circle cx="520.70" cy="121.85" r="2.3" fill="#e2f29a"/>
<rect x="516.79" y="118.80" width="7.81" height="6.10" fill="none" stroke="#ff0000" stroke-width="0.9"/>
<circle cx="528.70" cy="121.85" r="2.3" fill="#3288bd"/>
<circle cx="536.71" cy="121.85" r="2.3" fill="#a5daa4"/>
<rect x="532.81" y="118.80" width="7.81" height="6.10" fill="none" stroke="#ff0000" stroke-width="0.9"/>
<circle cx="560.73" cy="121.85" r="2.3" fill="#66c2a5"/>
<rect x="556.82" y="118.80" width="7.81" height="6.10" fill="none" stroke="#0000ff" stroke-width="0.9"/>
<circle cx="624.77" cy="121.85" r="2.3" fill="#3288bd"/>
<circle cx="632.78" cy="121.85" r="2.3" fill="#66c2a5"/>
<rect x="628.88" y="118.80" width="7.81" height="6.10" fill="none" stroke="#ff0000" stroke-width="0.9"/>
<circle cx="640.79" cy="121.85" r="2.3" fill="#3288bd"/>
<circle cx="648.79" cy="121.85" r="2.3" fill="#66c2a5"/>
<rect x="644.89" y="118.80" width="7.81" height="6.10" fill="none" stroke="#ff0000" stroke-width="0.9"/>
<circle cx="672.81" cy="121.85" r="2.3" fill="#4ba5b3"/>
<rect x="668.91" y="118.80" width="7.81" height="6.10" fill="none" stroke="#0000ff" stroke-width="0.9"/>
<circle cx="216.47" cy="128.15" r="2.3" fill="#66c2a5"/>
<rect x="212.57" y="125.10" width="7.81" height="6.10" fill="none" stroke="#ff0000" stroke-width="0.9"/>
<circle cx="232.48" cy="128.15" r="2.3" fill="#66c2a5"/>
<rect x="228.58" y="125.10" width="7.81" height="6.10" fill="none" stroke="#ff0000" stroke-width="0.9"/>
<circle cx="312.54" cy="128.15" r="2.3" fill="#4ba5b3"/>
<rect x="308.64" y="125.10" width="7.81" height="6.10" fill="none" stroke="#ff0000" stroke-width="0.9"/>
<circle cx="328.55" cy="128.15" r="2.3" fill="#66c2a5"/>
<rect x="324.65" y="125.10" width="7.81" height="6.10" fill="none" stroke="#ff0000" stroke-width="0.9"/>
<circle cx="344.57" cy="128.15" r="2.3" fill="#66c2a5"/>
<rect x="340.66" y="125.10" width="7.81" height="6.10" fill="none" stroke="#ff0000" stroke-width="0.9"/>
<circle cx="512.69" cy="128.15" r="2.3" fill="#4ba5b3"/>
<circle cx="520.70" cy="128.15" r="2.3" fill="#fdd47f"/>
<rect x="516.79" y="125.10" width="7.81" height="6.10" fill="none" stroke="#ff0000" stroke-width="0.9"/>
<circle cx="528.70" cy="128.15" r="2.3" fill="#4ba5b3"/>
<circle cx="536.71" cy="128.15" r="2.3" fill="#e2f29a"/>
<rect x="532.81" y="125.10" width="7.81" height="6.10" fill="none" stroke="#ff0000" stroke-width="0.9"/>
<circle cx="544.72" cy="128.15" r="2.3" fill="#a5daa4"/>
<circle cx="552.72" cy="128.15" r="2.3" fill="#fdae61"/>
<rect x="548.82" y="125.10" width="7.81" height="6.10" fill="none" stroke="#ff0000" stroke-width="0.9"/>
<circle cx="560.73" cy="128.15" r="2.3" fill="#a5daa4"/>
<circle cx="568.73" cy="128.15" r="2.3" fill="#fdae61"/>
<rect x="564.83" y="125.10" width="7.81" height="6.10" fill="none" stroke="#ff0000" stroke-width="0.9"/>
<circle cx="624.77" cy="128.15" r="2.3" fill="#4ba5b3"/>
<circle cx="632.78" cy="128.15" r="2.3" fill="#e2f29a"/>
<rect x="628.88" y="125.10" width="7.81" height="6.10" fill="none" stroke="#ff0000" stroke-width="0.9"/>
<circle cx="640.79" cy="128.15" r="2.3" fill="#4ba5b3"/>
<circle cx="648.79" cy="128.15" r="2.3" fill="#a5daa4"/>
<rect x="644.89" y="125.10" width="7.81" height="6.10" fill="none" stroke="#ff0000" stroke-width="0.9"/>
<circle cx="656.80" cy="128.15" r="2.3" fill="#a5daa4"/>
<circle cx="664.80" cy="128.15" r="2.3" fill="#fdd47f"/>
<rect x="660.90" y="125.10" width="7.81" height="6.10" fill="none" stroke="#ff0000" stroke-width="0.9"/>
<circle cx="672.81" cy="128.15" r="2.3" fill="#a5daa4"/>
<circle cx="680.82" cy="128.15" r="2.3" fill="#fdd47f"/>
<rect x="676.91" y="125.10" width="7.81" height="6.10" fill="none" stroke="#ff0000" stroke-width="0.9"/>
<circle cx="312.54" cy="134.45" r="2.3" fill="#4ba5b3"/>
<rect x="308.64" y="131.40" width="7.81" height="6.10" fill="none" stroke="#ff0000" stroke-width="0.9"/>
<circle cx="328.55" cy="134.45" r="2.3" fill="#66c2a5"/>
<rect x="324.65" y="131.40" width="7.81" height="6.10" fill="none" stroke="#ff0000" stroke-width="0.9"/>
<circle cx="344.57" cy="134.45" r="2.3" fill="#66c2a5"/>
<rect x="340.66" y="131.40" width="7.81" height="6.10" fill="none" stroke="#ff0000" stroke-width="0.9"/>
<circle cx="464.65" cy="134.45" r="2.3" fill="#4ba5b3"/>
<circle cx="472.66" cy="134.45" r="2.3" fill="#a5daa4"/>
<circle cx="480.67" cy="134.45" r="2.3" fill="#4ba5b3"/>
<circle cx="488.67" cy="134.45" r="2.3" fill="#a5daa4"/>
<circle cx="496.68" cy="134.45" r="2.3" fill="#4ba5b3"/>
<circle cx="504.69" cy="134.45" r="2.3" fill="#fdd47f"/>
<rect x="500.78" y="131.40" width="7.81" height="6.10" fill="none" stroke="#ff0000" stroke-width="0.9"/>
<circle cx="512.69" cy="134.45" r="2.3" fill="#66c2a5"/>
<circle cx="520.70" cy="134.45" r="2.3" fill="#fdd47f"/>
<rect x="516.79" y="131.40" width="7.81" height="6.10" fill="none" stroke="#ff0000" stroke-width="0.9"/>
<circle cx="528.70" cy="134.45" r="2.3" fill="#4ba5b3"/>
<circle cx="536.71" cy="134.45" r="2.3" fill="#e2f29a"/>
<rect x="532.81" y="131.40" width="7.81" height="6.10" fill="none" stroke="#ff0000" stroke-width="0.9"/>
<circle cx="544.72" cy="134.45" r="2.3" fill="#a5daa4"/>
<circle cx="552.72" cy="134.45" r="2.3" fill="#fdae61"/>
<rect x="548.82" y="131.40" width="7.81" height="6.10" fill="none" stroke="#ff0000" stroke-width="0.9"/>
<circle cx="560.73" cy="134.45" r="2.3" fill="#a5daa4"/>
<circle cx="568.73" cy="134.45" r="2.3" fill="#fdae61"/>
<rect x="564.83" y="131.40" width="7.81" height="6.10" fill="none" stroke="#ff0000" stroke-width="0.9"/>
<circle cx="576.74" cy="134.45" r="2.3" fill="#4ba5b3"/>
<circle cx="584.75" cy="134.45" r="2.3" fill="#66c2a5"/>
<circle cx="592.75" cy="134.45" r="2.3" fill="#3288bd"/>
<circle cx="600.76" cy="134.45" r="2.3" fill="#66c2a5"/>
<circle cx="608.76" cy="134.45" r="2.3" fill="#3288bd"/>
<circle cx="616.77" cy="134.45" r="2.3" fill="#e2f29a"/>
<rect x="612.87" y="131.40" width="7.81" height="6.10" fill="none" stroke="#ff0000" stroke-width="0.9"/>
<circle cx="624.77" cy="134.45" r="2.3" fill="#4ba5b3"/>
<circle cx="632.78" cy="134.45" r="2.3" fill="#e2f29a"/>
<rect x="628.88" y="131.40" width="7.81" height="6.10" fill="none" stroke="#ff0000" stroke-width="0.9"/>
<circle cx="640.79" cy="134.45" r="2.3" fill="#4ba5b3"/>
<circle cx="648.79" cy="134.45" r="2.3" fill="#a5daa4"/>
<rect x="644.89" y="131.40" width="7.81" height="6.10" fill="none" stroke="#ff0000" stroke-width="0.9"/>
<circle cx="656.80" cy="134.45" r="2.3" fill="#66c2a5"/>
<circle cx="664.80" cy="134.45" r="2.3" fill="#fdd47f"/>
<rect x="660.90" y="131.40" width="7.81" height="6.10" fill="none" stroke="#ff0000" stroke-width="0.9"/>
<circle cx="672.81" cy="134.45" r="2.3" fill="#66c2a5"/>
<circle cx="680.82" cy="134.45" r="2.3" fill="#e2f29a"/>
<rect x="676.91" y="131.40" width="7.81" height="6.10" fill="none" stroke="#ff0000" stroke-width="0.9"/>
<circle cx="184.44" cy="140.75" r="2.3" fill="#4ba5b3"/>
<rect x="180.54" y="137.70" width="7.81" height="6.10" fill="none" stroke="#ff0000" stroke-width="0.9"/>
<circle cx="200.46" cy="140.75" r="2.3" fill="#3288bd"/>
<rect x="196.55" y="137.70" width="7.81" height="6.10" fill="none" stroke="#ff0000" stroke-width="0.9"/>
<circle cx="296.53" cy="140.75" r="2.3" fill="#4ba5b3"/>
<rect x="292.63" y="137.70" width="7.81" height="6.10" fill="none" stroke="#ff0000" stroke-width="0.9"/>
<circle cx="312.54" cy="140.75" r="2.3" fill="#3288bd"/>
<rect x="308.64" y="137.70" width="7.81" height="6.10" fill="none" stroke="#ff0000" stroke-width="0.9"/>
<circle cx="408.61" cy="140.75" r="2.3" fill="#a5daa4"/>
<rect x="404.71" y="137.70" width="7.81" height="6.10" fill="none" stroke="#ff0000" stroke-width="0.9"/>
<circle cx="424.62" cy="140.75" r="2.3" fill="#66c2a5"/>
<rect x="420.72" y="137.70" width="7.81" height="6.10" fill="none" stroke="#ff0000" stroke-width="0.9"/>
<circle cx="520.70" cy="140.75" r="2.3" fill="#a5daa4"/>
<rect x="516.79" y="137.70" width="7.81" height="6.10" fill="none" stroke="#ff0000" stroke-width="0.9"/>
<circle cx="528.70" cy="140.75" r="2.3" fill="#3288bd"/>
<circle cx="536.71" cy="140.75" r="2.3" fill="#a5daa4"/>
<circle cx="632.78" cy="140.75" r="2.3" fill="#66c2a5"/>
<rect x="628.88" y="137.70" width="7.81" height="6.10" fill="none" stroke="#ff0000" stroke-width="0.9"/>
<circle cx="640.79" cy="140.75" r="2.3" fill="#3288bd"/>
<circle cx="648.79" cy="140.75" r="2.3" fill="#66c2a5"/>
<rect x="644.89" y="137.70" width="7.81" height="6.10" fill="none" stroke="#ff0000" stroke-width="0.9"/>
<circle cx="232.48" cy="147.05" r="2.3" fill="#66c2a5"/>
<rect x="228.58" y="144.00" width="7.81" height="6.10" fill="none" stroke="#ff0000" stroke-width="0.9"/>
<circle cx="344.57" cy="147.05" r="2.3" fill="#66c2a5"/>
<rect x="340.66" y="144.00" width="7.81" height="6.10" fill="none" stroke="#ff0000" stroke-width="0.9"/>
<circle cx="456.65" cy="147.05" r="2.3" fill="#e2f29a"/>
<rect x="452.75" y="144.00" width="7.81" height="6.10" fill="none" stroke="#ff0000" stroke-width="0.9"/>
<circle cx="560.73" cy="147.05" r="2.3" fill="#a5daa4"/>
<circle cx="568.73" cy="147.05" r="2.3" fill="#e2f29a"/>
<rect x="564.83" y="144.00" width="7.81" height="6.10" fill="none" stroke="#ff0000" stroke-width="0.9"/>
<circle cx="672.81" cy="147.05" r="2.3" fill="#66c2a5"/>
<circle cx="680.82" cy="147.05" r="2.3" fill="#a5daa4"/>
<circle cx="232.48" cy="153.35" r="2.3" fill="#66c2a5"/>
<rect x="228.58" y="150.30" width="7.81" height="6.10" fill="none" stroke="#ff0000" stroke-width="0.9"/>
<circle cx="344.57" cy="153.35" r="2.3" fill="#66c2a5"/>
<rect x="340.66" y="150.30" width="7.81" height="6.10" fill="none" stroke="#ff0000" stroke-width="0.9"/>
<circle cx="456.65" cy="153.35" r="2.3" fill="#e2f29a"/>
<rect x="452.75" y="150.30" width="7.81" height="6.10" fill="none" stroke="#ff0000" stroke-width="0.9"/>
<circle cx="560.73" cy="153.35" r="2.3" fill="#a5daa4"/>
<circle cx="568.73" cy="153.35" r="2.3" fill="#e2f29a"/>
<circle cx="672.81" cy="153.35" r="2.3" fill="#66c2a5"/>
<circle cx="680.82" cy="153.35" r="2.3" fill="#a5daa4"/>
<circle cx="224.48" cy="159.65" r="2.3" fill="#fdd47f"/>
<circle cx="232.48" cy="159.65" r="2.3" fill="#e2f29a"/>
<circle cx="336.56" cy="159.65" r="2.3" fill="#fdd47f"/>
<circle cx="344.57" cy="159.65" r="2.3" fill="#e2f29a"/>
<circle cx="448.64" cy="159.65" r="2.3" fill="#e2f29a"/>
<circle cx="456.65" cy="159.65" r="2.3" fill="#fdae61"/>
<rect x="452.75" y="156.60" width="7.81" height="6.10" fill="none" stroke="#ff0000" stroke-width="0.9"/>
<circle cx="560.73" cy="159.65" r="2.3" fill="#fdd47f"/>
<circle cx="568.73" cy="159.65" r="2.3" fill="#e04e50"/>
<rect x="564.83" y="156.60" width="7.81" height="6.10" fill="none" stroke="#ff0000" stroke-width="0.9"/>
<circle cx="672.81" cy="159.65" r="2.3" fill="#e2f29a"/>
<circle cx="680.82" cy="159.65" r="2.3" fill="#fdae61"/>
<rect x="676.91" y="156.60" width="7.81" height="6.10" fill="none" stroke="#ff0000" stroke-width="0.9"/>
<circle cx="224.48" cy="165.95" r="2.3" fill="#fdae61"/>
<circle cx="232.48" cy="165.95" r="2.3" fill="#e2f29a"/>
<circle cx="336.56" cy="165.95" r="2.3" fill="#fdd47f"/>
<circle cx="344.57" cy="165.95" r="2.3" fill="#e2f29a"/>
<circle cx="448.64" cy="165.95" r="2.3" fill="#e2f29a"/>
<circle cx="456.65" cy="165.95" r="2.3" fill="#fdae61"/>
<rect x="452.75" y="162.90" width="7.81" height="6.10" fill="none" stroke="#ff0000" stroke-width="0.9"/>
<circle cx="560.73" cy="165.95" r="2.3" fill="#fdae61"/>
<circle cx="568.73" cy="165.95" r="2.3" fill="#e04e50"/>
<rect x="564.83" y="162.90" width="7.81" height="6.10" fill="none" stroke="#ff0000" stroke-width="0.9"/>
<circle cx="672.81" cy="165.95" r="2.3" fill="#e2f29a"/>
<circle cx="680.82" cy="165.95" r="2.3" fill="#fdae61"/>
<circle cx="224.48" cy="172.25" r="2.3" fill="#fdd47f"/>
<circle cx="232.48" cy="172.25" r="2.3" fill="#e2f29a"/>
<circle cx="336.56" cy="172.25" r="2.3" fill="#fdd47f"/>
<circle cx="344.57" cy="172.25" r="2.3" fill="#e2f29a"/>
<circle cx="448.64" cy="172.25" r="2.3" fill="#fdd47f"/>
<circle cx="456.65" cy="172.25" r="2.3" fill="#fdae61"/>
<circle cx="560.73" cy="172.25" r="2.3" fill="#fdd47f"/>
<circle cx="568.73" cy="172.25" r="2.3" fill="#e04e50"/>
<circle cx="672.81" cy="172.25" r="2.3" fill="#e2f29a"/>
<circle cx="680.82" cy="172.25" r="2.3" fill="#fdae61"/>
<circle cx="224.48" cy="178.55" r="2.3" fill="#fdae61"/>
<circle cx="232.48" cy="178.55" r="2.3" fill="#e2f29a"/>
<circle cx="336.56" cy="178.55" r="2.3" fill="#fdae61"/>
<circle cx="344.57" cy="178.55" r="2.3" fill="#e2f29a"/>
<circle cx="448.64" cy="178.55" r="2.3" fill="#fdd47f"/>
<circle cx="456.65" cy="178.55" r="2.3" fill="#e04e50"/>
<circle cx="560.73" cy="178.55" r="2.3" fill="#fdae61"/>
<circle cx="568.73" cy="178.55" r="2.3" fill="#e04e50"/>
<circle cx="672.81" cy="178.55" r="2.3" fill="#fdd47f"/>
<circle cx="680.82" cy="178.55" r="2.3" fill="#fdae61"/>
<circle cx="224.48" cy="184.85" r="2.3" fill="#fdd47f"/>
<circle cx="232.48" cy="184.85" r="2.3" fill="#e2f29a"/>
<circle cx="336.56" cy="184.85" r="2.3" fill="#fdd47f"/>
<circle cx="344.57" cy="184.85" r="2.3" fill="#e2f29a"/>
<circle cx="448.64" cy="184.85" r="2.3" fill="#fdd47f"/>
<circle cx="456.65" cy="184.85" r="2.3" fill="#fdae61"/>
<rect x="452.75" y="181.80" width="7.81" height="6.10" fill="none" stroke="#ff0000" stroke-width="0.9"/>
<circle cx="560.73" cy="184.85" r="2.3" fill="#fdd47f"/>
<circle cx="568.73" cy="184.85" r="2.3" fill="#e04e50"/>
<rect x="564.83" y="181.80" width="7.81" height="6.10" fill="none" stroke="#ff0000" stroke-width="0.9"/>
<circle cx="672.81" cy="184.85" r="2.3" fill="#e2f29a"/>
<circle cx="680.82" cy="184.85" r="2.3" fill="#fdae61"/>
<circle cx="224.48" cy="191.15" r="2.3" fill="#fdae61"/>
<circle cx="232.48" cy="191.15" r="2.3" fill="#e2f29a"/>
<circle cx="336.56" cy="191.15" r="2.3" fill="#fdae61"/>
<circle cx="344.57" cy="191.15" r="2.3" fill="#e2f29a"/>
<circle cx="448.64" cy="191.15" r="2.3" fill="#fdd47f"/>
<circle cx="456.65" cy="191.15" r="2.3" fill="#e04e50"/>
<rect x="452.75" y="188.10" width="7.81" height="6.10" fill="none" stroke="#ff0000" stroke-width="0.9"/>
<circle cx="560.73" cy="191.15" r="2.3" fill="#fdae61"/>
<circle cx="568.73" cy="191.15" r="2.3" fill="#e04e50"/>
<rect x="564.83" y="188.10" width="7.81" height="6.10" fill="none" stroke="#ff0000" stroke-width="0.9"/>
<circle cx="672.81" cy="191.15" r="2.3" fill="#fdd47f"/>
<circle cx="680.82" cy="191.15" r="2.3" fill="#fdae61"/>
<circle cx="224.48" cy="197.45" r="2.3" fill="#fdd47f"/>
<circle cx="232.48" cy="197.45" r="2.3" fill="#e2f29a"/>
<circle cx="336.56" cy="197.45" r="2.3" fill="#fdd47f"/>
<circle cx="344.57" cy="197.45" r="2.3" fill="#e2f29a"/>
<circle cx="448.64" cy="197.45" r="2.3" fill="#fdd47f"/>
<circle cx="456.65" cy="197.45" r="2.3" fill="#fdae61"/>
<circle cx="560.73" cy="197.45" r="2.3" fill="#fdd47f"/>
<circle cx="568.73" cy="197.45" r="2.3" fill="#e04e50"/>
<circle cx="672.81" cy="197.45" r="2.3" fill="#e2f29a"/>
<circle cx="680.82" cy="197.45" r="2.3" fill="#fdae61"/>
<circle cx="224.48" cy="203.75" r="2.3" fill="#fdae61"/>
<circle cx="232.48" cy="203.75" r="2.3" fill="#e2f29a"/>
<circle cx="336.56" cy="203.75" r="2.3" fill="#fdae61"/>
<circle cx="344.57" cy="203.75" r="2.3" fill="#e2f29a"/>
<circle cx="448.64" cy="203.75" r="2.3" fill="#fdd47f"/>
<circle cx="456.65" cy="203.75" r="2.3" fill="#e04e50"/>
<circle cx="560.73" cy="203.75" r="2.3" fill="#fdae61"/>
<circle cx="568.73" cy="203.75" r="2.3" fill="#e04e50"/>
<circle cx="672.81" cy="203.75" r="2.3" fill="#fdd47f"/>
<circle cx="680.82" cy="203.75" r="2.3" fill="#fdae61"/>
<circle cx="160.43" cy="210.05" r="2.3" fill="#4ba5b3"/>
<circle cx="168.43" cy="210.05" r="2.3" fill="#4ba5b3"/>
<circle cx="272.51" cy="210.05" r="2.3" fill="#66c2a5"/>
<circle cx="280.52" cy="210.05" r="2.3" fill="#66c2a5"/>
<circle cx="392.60" cy="210.05" r="2.3" fill="#4ba5b3"/>
<rect x="388.70" y="207.00" width="7.81" height="6.10" fill="none" stroke="#ff0000" stroke-width="0.9"/>
<circle cx="496.68" cy="210.05" r="2.3" fill="#4ba5b3"/>
<circle cx="504.69" cy="210.05" r="2.3" fill="#66c2a5"/>
<circle cx="616.77" cy="210.05" r="2.3" fill="#4ba5b3"/>
<rect x="612.87" y="207.00" width="7.81" height="6.10" fill="none" stroke="#ff0000" stroke-width="0.9"/>
<circle cx="152.42" cy="216.35" r="2.3" fill="#3288bd"/>
<rect x="148.52" y="213.30" width="7.81" height="6.10" fill="none" stroke="#ff0000" stroke-width="0.9"/>
<circle cx="160.43" cy="216.35" r="2.3" fill="#4ba5b3"/>
<circle cx="168.43" cy="216.35" r="2.3" fill="#4ba5b3"/>
<circle cx="264.50" cy="216.35" r="2.3" fill="#4ba5b3"/>
<rect x="260.60" y="213.30" width="7.81" height="6.10" fill="none" stroke="#ff0000" stroke-width="0.9"/>
<circle cx="272.51" cy="216.35" r="2.3" fill="#66c2a5"/>
<circle cx="280.52" cy="216.35" r="2.3" fill="#66c2a5"/>
<circle cx="376.59" cy="216.35" r="2.3" fill="#3288bd"/>
<rect x="372.69" y="213.30" width="7.81" height="6.10" fill="none" stroke="#ff0000" stroke-width="0.9"/>
<circle cx="392.60" cy="216.35" r="2.3" fill="#4ba5b3"/>
<rect x="388.70" y="213.30" width="7.81" height="6.10" fill="none" stroke="#ff0000" stroke-width="0.9"/>
<circle cx="488.67" cy="216.35" r="2.3" fill="#4ba5b3"/>
<rect x="484.77" y="213.30" width="7.81" height="6.10" fill="none" stroke="#ff0000" stroke-width="0.9"/>
<circle cx="496.68" cy="216.35" r="2.3" fill="#4ba5b3"/>
<circle cx="504.69" cy="216.35" r="2.3" fill="#66c2a5"/>
<circle cx="600.76" cy="216.35" r="2.3" fill="#3288bd"/>
<rect x="596.85" y="213.30" width="7.81" height="6.10" fill="none" stroke="#ff0000" stroke-width="0.9"/>
<circle cx="616.77" cy="216.35" r="2.3" fill="#4ba5b3"/>
<rect x="612.87" y="213.30" width="7.81" height="6.10" fill="none" stroke="#ff0000" stroke-width="0.9"/>
<circle cx="128.40" cy="222.65" r="2.3" fill="#66c2a5"/>
<circle cx="136.41" cy="222.65" r="2.3" fill="#4ba5b3"/>
<circle cx="144.42" cy="222.65" r="2.3" fill="#66c2a5"/>
<circle cx="152.42" cy="222.65" r="2.3" fill="#4ba5b3"/>
<circle cx="160.43" cy="222.65" r="2.3" fill="#4ba5b3"/>
<circle cx="168.43" cy="222.65" r="2.3" fill="#a5daa4"/>
<rect x="164.53" y="219.60" width="7.81" height="6.10" fill="none" stroke="#ff0000" stroke-width="0.9"/>
<circle cx="176.44" cy="222.65" r="2.3" fill="#66c2a5"/>
<circle cx="184.44" cy="222.65" r="2.3" fill="#a5daa4"/>
<circle cx="192.45" cy="222.65" r="2.3" fill="#66c2a5"/>
<circle cx="200.46" cy="222.65" r="2.3" fill="#66c2a5"/>
<circle cx="208.46" cy="222.65" r="2.3" fill="#a5daa4"/>
<circle cx="216.47" cy="222.65" r="2.3" fill="#a5daa4"/>
<circle cx="224.48" cy="222.65" r="2.3" fill="#a5daa4"/>
<circle cx="232.48" cy="222.65" r="2.3" fill="#a5daa4"/>
<circle cx="240.49" cy="222.65" r="2.3" fill="#a5daa4"/>
<circle cx="248.49" cy="222.65" r="2.3" fill="#66c2a5"/>
<circle cx="256.50" cy="222.65" r="2.3" fill="#a5daa4"/>
<circle cx="264.50" cy="222.65" r="2.3" fill="#66c2a5"/>
<circle cx="272.51" cy="222.65" r="2.3" fill="#a5daa4"/>
<circle cx="280.52" cy="222.65" r="2.3" fill="#e2f29a"/>
<circle cx="288.52" cy="222.65" r="2.3" fill="#e2f29a"/>
<circle cx="296.53" cy="222.65" r="2.3" fill="#e2f29a"/>
<circle cx="304.53" cy="222.65" r="2.3" fill="#a5daa4"/>
<circle cx="312.54" cy="222.65" r="2.3" fill="#a5daa4"/>
<circle cx="320.55" cy="222.65" r="2.3" fill="#fdae61"/>
<circle cx="328.55" cy="222.65" r="2.3" fill="#e2f29a"/>
<circle cx="336.56" cy="222.65" r="2.3" fill="#fdd47f"/>
<circle cx="344.57" cy="222.65" r="2.3" fill="#e2f29a"/>
<circle cx="360.58" cy="222.65" r="2.3" fill="#4ba5b3"/>
<rect x="356.67" y="219.60" width="7.81" height="6.10" fill="none" stroke="#ff0000" stroke-width="0.9"/>
<circle cx="376.59" cy="222.65" r="2.3" fill="#4ba5b3"/>
<rect x="372.69" y="219.60" width="7.81" height="6.10" fill="none" stroke="#ff0000" stroke-width="0.9"/>
<circle cx="392.60" cy="222.65" r="2.3" fill="#a5daa4"/>
<rect x="388.70" y="219.60" width="7.81" height="6.10" fill="none" stroke="#ff0000" stroke-width="0.9"/>
<circle cx="408.61" cy="222.65" r="2.3" fill="#e2f29a"/>
<rect x="404.71" y="219.60" width="7.81" height="6.10" fill="none" stroke="#ff0000" stroke-width="0.9"/>
<circle cx="424.62" cy="222.65" r="2.3" fill="#a5daa4"/>
<rect x="420.72" y="219.60" width="7.81" height="6.10" fill="none" stroke="#ff0000" stroke-width="0.9"/>
<circle cx="440.64" cy="222.65" r="2.3" fill="#e2f29a"/>
<rect x="436.73" y="219.60" width="7.81" height="6.10" fill="none" stroke="#ff0000" stroke-width="0.9"/>
<circle cx="456.65" cy="222.65" r="2.3" fill="#e2f29a"/>
<rect x="452.75" y="219.60" width="7.81" height="6.10" fill="none" stroke="#ff0000" stroke-width="0.9"/>
<circle cx="464.65" cy="222.65" r="2.3" fill="#66c2a5"/>
<circle cx="472.66" cy="222.65" r="2.3" fill="#66c2a5"/>
<circle cx="480.67" cy="222.65" r="2.3" fill="#66c2a5"/>
<circle cx="488.67" cy="222.65" r="2.3" fill="#66c2a5"/>
<circle cx="496.68" cy="222.65" r="2.3" fill="#4ba5b3"/>
<circle cx="504.69" cy="222.65" r="2.3" fill="#e2f29a"/>
<rect x="500.78" y="219.60" width="7.81" height="6.10" fill="none" stroke="#ff0000" stroke-width="0.9"/>
<circle cx="512.69" cy="222.65" r="2.3" fill="#66c2a5"/>
<circle cx="520.70" cy="222.65" r="2.3" fill="#e2f29a"/>
<rect x="516.79" y="219.60" width="7.81" height="6.10" fill="none" stroke="#ff0000" stroke-width="0.9"/>
<circle cx="528.70" cy="222.65" r="2.3" fill="#66c2a5"/>
<circle cx="536.71" cy="222.65" r="2.3" fill="#a5daa4"/>
<rect x="532.81" y="219.60" width="7.81" height="6.10" fill="none" stroke="#ff0000" stroke-width="0.9"/>
<circle cx="544.72" cy="222.65" r="2.3" fill="#a5daa4"/>
<circle cx="552.72" cy="222.65" r="2.3" fill="#fdd47f"/>
<circle cx="560.73" cy="222.65" r="2.3" fill="#a5daa4"/>
<circle cx="568.73" cy="222.65" r="2.3" fill="#fdd47f"/>
<circle cx="584.75" cy="222.65" r="2.3" fill="#4ba5b3"/>
<rect x="580.84" y="219.60" width="7.81" height="6.10" fill="none" stroke="#ff0000" stroke-width="0.9"/>
<circle cx="600.76" cy="222.65" r="2.3" fill="#4ba5b3"/>
<rect x="596.85" y="219.60" width="7.81" height="6.10" fill="none" stroke="#ff0000" stroke-width="0.9"/>
<circle cx="616.77" cy="222.65" r="2.3" fill="#a5daa4"/>
<rect x="612.87" y="219.60" width="7.81" height="6.10" fill="none" stroke="#ff0000" stroke-width="0.9"/>
<circle cx="632.78" cy="222.65" r="2.3" fill="#a5daa4"/>
<rect x="628.88" y="219.60" width="7.81" height="6.10" fill="none" stroke="#ff0000" stroke-width="0.9"/>
<circle cx="648.79" cy="222.65" r="2.3" fill="#66c2a5"/>
<rect x="644.89" y="219.60" width="7.81" height="6.10" fill="none" stroke="#ff0000" stroke-width="0.9"/>
<circle cx="664.80" cy="222.65" r="2.3" fill="#a5daa4"/>
<rect x="660.90" y="219.60" width="7.81" height="6.10" fill="none" stroke="#ff0000" stroke-width="0.9"/>
<circle cx="680.82" cy="222.65" r="2.3" fill="#a5daa4"/>
<rect x="676.91" y="219.60" width="7.81" height="6.10" fill="none" stroke="#ff0000" stroke-width="0.9"/>
<circle cx="136.41" cy="228.95" r="2.3" fill="#4ba5b3"/>
<rect x="132.51" y="225.90" width="7.81" height="6.10" fill="none" stroke="#ff0000" stroke-width="0.9"/>
<circle cx="152.42" cy="228.95" r="2.3" fill="#4ba5b3"/>
<rect x="148.52" y="225.90" width="7.81" height="6.10" fill="none" stroke="#ff0000" stroke-width="0.9"/>
<circle cx="184.44" cy="228.95" r="2.3" fill="#66c2a5"/>
<rect x="180.54" y="225.90" width="7.81" height="6.10" fill="none" stroke="#ff0000" stroke-width="0.9"/>
<circle cx="248.49" cy="228.95" r="2.3" fill="#4ba5b3"/>
<rect x="244.59" y="225.90" width="7.81" height="6.10" fill="none" stroke="#ff0000" stroke-width="0.9"/>
<circle cx="264.50" cy="228.95" r="2.3" fill="#66c2a5"/>
<rect x="260.60" y="225.90" width="7.81" height="6.10" fill="none" stroke="#ff0000" stroke-width="0.9"/>
<circle cx="296.53" cy="228.95" r="2.3" fill="#a5daa4"/>
<rect x="292.63" y="225.90" width="7.81" height="6.10" fill="none" stroke="#ff0000" stroke-width="0.9"/>
<circle cx="360.58" cy="228.95" r="2.3" fill="#3288bd"/>
<rect x="356.67" y="225.90" width="7.81" height="6.10" fill="none" stroke="#ff0000" stroke-width="0.9"/>
<circle cx="376.59" cy="228.95" r="2.3" fill="#4ba5b3"/>
<rect x="372.69" y="225.90" width="7.81" height="6.10" fill="none" stroke="#ff0000" stroke-width="0.9"/>
<circle cx="408.61" cy="228.95" r="2.3" fill="#a5daa4"/>
<rect x="404.71" y="225.90" width="7.81" height="6.10" fill="none" stroke="#ff0000" stroke-width="0.9"/>
<circle cx="472.66" cy="228.95" r="2.3" fill="#4ba5b3"/>
<rect x="468.76" y="225.90" width="7.81" height="6.10" fill="none" stroke="#ff0000" stroke-width="0.9"/>
<circle cx="488.67" cy="228.95" r="2.3" fill="#66c2a5"/>
<rect x="484.77" y="225.90" width="7.81" height="6.10" fill="none" stroke="#ff0000" stroke-width="0.9"/>
<circle cx="520.70" cy="228.95" r="2.3" fill="#a5daa4"/>
<rect x="516.79" y="225.90" width="7.81" height="6.10" fill="none" stroke="#ff0000" stroke-width="0.9"/>
<circle cx="584.75" cy="228.95" r="2.3" fill="#3288bd"/>
<rect x="580.84" y="225.90" width="7.81" height="6.10" fill="none" stroke="#ff0000" stroke-width="0.9"/>
<circle cx="600.76" cy="228.95" r="2.3" fill="#4ba5b3"/>
<rect x="596.85" y="225.90" width="7.81" height="6.10" fill="none" stroke="#ff0000" stroke-width="0.9"/>
<circle cx="632.78" cy="228.95" r="2.3" fill="#66c2a5"/>
<rect x="628.88" y="225.90" width="7.81" height="6.10" fill="none" stroke="#ff0000" stroke-width="0.9"/>
<circle cx="152.42" cy="235.25" r="2.3" fill="#4ba5b3"/>
<rect x="148.52" y="232.20" width="7.81" height="6.10" fill="none" stroke="#ff0000" stroke-width="0.9"/>
<circle cx="264.50" cy="235.25" r="2.3" fill="#4ba5b3"/>
<rect x="260.60" y="232.20" width="7.81" height="6.10" fill="none" stroke="#ff0000" stroke-width="0.9"/>
<circle cx="376.59" cy="235.25" r="2.3" fill="#4ba5b3"/>
<rect x="372.69" y="232.20" width="7.81" height="6.10" fill="none" stroke="#ff0000" stroke-width="0.9"/>
<circle cx="488.67" cy="235.25" r="2.3" fill="#66c2a5"/>
<rect x="484.77" y="232.20" width="7.81" height="6.10" fill="none" stroke="#ff0000" stroke-width="0.9"/>
<circle cx="600.76" cy="235.25" r="2.3" fill="#4ba5b3"/>
<rect x="596.85" y="232.20" width="7.81" height="6.10" fill="none" stroke="#ff0000" stroke-width="0.9"/>
<circle cx="224.48" cy="241.55" r="2.3" fill="#66c2a5"/>
<rect x="220.57" y="238.50" width="7.81" height="6.10" fill="none" stroke="#0000ff" stroke-width="0.9"/>
<circle cx="336.56" cy="241.55" r="2.3" fill="#a5daa4"/>
<rect x="332.66" y="238.50" width="7.81" height="6.10" fill="none" stroke="#0000ff" stroke-width="0.9"/>
<circle cx="560.73" cy="241.55" r="2.3" fill="#66c2a5"/>
<rect x="556.82" y="238.50" width="7.81" height="6.10" fill="none" stroke="#0000ff" stroke-width="0.9"/>
<circle cx="184.44" cy="247.85" r="2.3" fill="#a5daa4"/>
<rect x="180.54" y="244.80" width="7.81" height="6.10" fill="none" stroke="#ff0000" stroke-width="0.9"/>
<circle cx="200.46" cy="247.85" r="2.3" fill="#66c2a5"/>
<rect x="196.55" y="244.80" width="7.81" height="6.10" fill="none" stroke="#ff0000" stroke-width="0.9"/>
<circle cx="216.47" cy="247.85" r="2.3" fill="#a5daa4"/>
<rect x="212.57" y="244.80" width="7.81" height="6.10" fill="none" stroke="#ff0000" stroke-width="0.9"/>
<circle cx="224.48" cy="247.85" r="2.3" fill="#66c2a5"/>
<circle cx="232.48" cy="247.85" r="2.3" fill="#a5daa4"/>
<circle cx="296.53" cy="247.85" r="2.3" fill="#a5daa4"/>
<rect x="292.63" y="244.80" width="7.81" height="6.10" fill="none" stroke="#ff0000" stroke-width="0.9"/>
<circle cx="312.54" cy="247.85" r="2.3" fill="#a5daa4"/>
<rect x="308.64" y="244.80" width="7.81" height="6.10" fill="none" stroke="#ff0000" stroke-width="0.9"/>
<circle cx="328.55" cy="247.85" r="2.3" fill="#a5daa4"/>
<rect x="324.65" y="244.80" width="7.81" height="6.10" fill="none" stroke="#ff0000" stroke-width="0.9"/>
<circle cx="336.56" cy="247.85" r="2.3" fill="#e2f29a"/>
<circle cx="344.57" cy="247.85" r="2.3" fill="#a5daa4"/>
<circle cx="408.61" cy="247.85" r="2.3" fill="#66c2a5"/>
<rect x="404.71" y="244.80" width="7.81" height="6.10" fill="none" stroke="#ff0000" stroke-width="0.9"/>
<circle cx="424.62" cy="247.85" r="2.3" fill="#66c2a5"/>
<rect x="420.72" y="244.80" width="7.81" height="6.10" fill="none" stroke="#ff0000" stroke-width="0.9"/>
<circle cx="440.64" cy="247.85" r="2.3" fill="#66c2a5"/>
<rect x="436.73" y="244.80" width="7.81" height="6.10" fill="none" stroke="#ff0000" stroke-width="0.9"/>
<circle cx="456.65" cy="247.85" r="2.3" fill="#66c2a5"/>
<rect x="452.75" y="244.80" width="7.81" height="6.10" fill="none" stroke="#ff0000" stroke-width="0.9"/>
<circle cx="520.70" cy="247.85" r="2.3" fill="#a5daa4"/>
<rect x="516.79" y="244.80" width="7.81" height="6.10" fill="none" stroke="#ff0000" stroke-width="0.9"/>
<circle cx="536.71" cy="247.85" r="2.3" fill="#66c2a5"/>
<rect x="532.81" y="244.80" width="7.81" height="6.10" fill="none" stroke="#ff0000" stroke-width="0.9"/>
<circle cx="552.72" cy="247.85" r="2.3" fill="#a5daa4"/>
<rect x="548.82" y="244.80" width="7.81" height="6.10" fill="none" stroke="#ff0000" stroke-width="0.9"/>
<circle cx="560.73" cy="247.85" r="2.3" fill="#66c2a5"/>
<circle cx="568.73" cy="247.85" r="2.3" fill="#a5daa4"/>
<circle cx="632.78" cy="247.85" r="2.3" fill="#66c2a5"/>
<rect x="628.88" y="244.80" width="7.81" height="6.10" fill="none" stroke="#ff0000" stroke-width="0.9"/>
<circle cx="648.79" cy="247.85" r="2.3" fill="#66c2a5"/>
<rect x="644.89" y="244.80" width="7.81" height="6.10" fill="none" stroke="#ff0000" stroke-width="0.9"/>
<circle cx="664.80" cy="247.85" r="2.3" fill="#a5daa4"/>
<rect x="660.90" y="244.80" width="7.81" height="6.10" fill="none" stroke="#ff0000" stroke-width="0.9"/>
<circle cx="680.82" cy="247.85" r="2.3" fill="#66c2a5"/>
<rect x="676.91" y="244.80" width="7.81" height="6.10" fill="none" stroke="#ff0000" stroke-width="0.9"/>
<circle cx="232.48" cy="254.15" r="2.3" fill="#4ba5b3"/>
<rect x="228.58" y="251.10" width="7.81" height="6.10" fill="none" stroke="#ff0000" stroke-width="0.9"/>
<circle cx="296.53" cy="254.15" r="2.3" fill="#4ba5b3"/>
<rect x="292.63" y="251.10" width="7.81" height="6.10" fill="none" stroke="#ff0000" stroke-width="0.9"/>
<circle cx="304.53" cy="254.15" r="2.3" fill="#3288bd"/>
<circle cx="312.54" cy="254.15" r="2.3" fill="#4ba5b3"/>
<circle cx="328.55" cy="254.15" r="2.3" fill="#66c2a5"/>
<rect x="324.65" y="251.10" width="7.81" height="6.10" fill="none" stroke="#ff0000" stroke-width="0.9"/>
<circle cx="336.56" cy="254.15" r="2.3" fill="#66c2a5"/>
<circle cx="344.57" cy="254.15" r="2.3" fill="#66c2a5"/>
<circle cx="416.62" cy="254.15" r="2.3" fill="#3288bd"/>
<rect x="412.72" y="251.10" width="7.81" height="6.10" fill="none" stroke="#0000ff" stroke-width="0.9"/>
<circle cx="440.64" cy="254.15" r="2.3" fill="#66c2a5"/>
<rect x="436.73" y="251.10" width="7.81" height="6.10" fill="none" stroke="#ff0000" stroke-width="0.9"/>
<circle cx="448.64" cy="254.15" r="2.3" fill="#66c2a5"/>
<circle cx="456.65" cy="254.15" r="2.3" fill="#a5daa4"/>
<circle cx="552.72" cy="254.15" r="2.3" fill="#a5daa4"/>
<rect x="548.82" y="251.10" width="7.81" height="6.10" fill="none" stroke="#ff0000" stroke-width="0.9"/>
<circle cx="568.73" cy="254.15" r="2.3" fill="#a5daa4"/>
<rect x="564.83" y="251.10" width="7.81" height="6.10" fill="none" stroke="#ff0000" stroke-width="0.9"/>
<circle cx="584.75" cy="254.15" r="2.3" fill="#3288bd"/>
<rect x="580.84" y="251.10" width="7.81" height="6.10" fill="none" stroke="#ff0000" stroke-width="0.9"/>
<circle cx="632.78" cy="254.15" r="2.3" fill="#a5daa4"/>
<rect x="628.88" y="251.10" width="7.81" height="6.10" fill="none" stroke="#ff0000" stroke-width="0.9"/>
<circle cx="640.79" cy="254.15" r="2.3" fill="#3288bd"/>
<circle cx="648.79" cy="254.15" r="2.3" fill="#66c2a5"/>
<rect x="644.89" y="251.10" width="7.81" height="6.10" fill="none" stroke="#ff0000" stroke-width="0.9"/>
<circle cx="664.80" cy="254.15" r="2.3" fill="#a5daa4"/>
<rect x="660.90" y="251.10" width="7.81" height="6.10" fill="none" stroke="#ff0000" stroke-width="0.9"/>
<circle cx="672.81" cy="254.15" r="2.3" fill="#4ba5b3"/>
<circle cx="680.82" cy="254.15" r="2.3" fill="#e2f29a"/>
<rect x="676.91" y="251.10" width="7.81" height="6.10" fill="none" stroke="#ff0000" stroke-width="0.9"/>
<circle cx="184.44" cy="260.45" r="2.3" fill="#4ba5b3"/>
<rect x="180.54" y="257.40" width="7.81" height="6.10" fill="none" stroke="#ff0000" stroke-width="0.9"/>
<circle cx="296.53" cy="260.45" r="2.3" fill="#4ba5b3"/>
<rect x="292.63" y="257.40" width="7.81" height="6.10" fill="none" stroke="#ff0000" stroke-width="0.9"/>
<circle cx="408.61" cy="260.45" r="2.3" fill="#66c2a5"/>
<rect x="404.71" y="257.40" width="7.81" height="6.10" fill="none" stroke="#ff0000" stroke-width="0.9"/>
<circle cx="520.70" cy="260.45" r="2.3" fill="#66c2a5"/>
<rect x="516.79" y="257.40" width="7.81" height="6.10" fill="none" stroke="#ff0000" stroke-width="0.9"/>
<circle cx="632.78" cy="260.45" r="2.3" fill="#4ba5b3"/>
<rect x="628.88" y="257.40" width="7.81" height="6.10" fill="none" stroke="#ff0000" stroke-width="0.9"/>
<circle cx="184.44" cy="266.75" r="2.3" fill="#4ba5b3"/>
<rect x="180.54" y="263.70" width="7.81" height="6.10" fill="none" stroke="#ff0000" stroke-width="0.9"/>
<circle cx="200.46" cy="266.75" r="2.3" fill="#4ba5b3"/>
<rect x="196.55" y="263.70" width="7.81" height="6.10" fill="none" stroke="#ff0000" stroke-width="0.9"/>
<circle cx="296.53" cy="266.75" r="2.3" fill="#4ba5b3"/>
<rect x="292.63" y="263.70" width="7.81" height="6.10" fill="none" stroke="#ff0000" stroke-width="0.9"/>
<circle cx="312.54" cy="266.75" r="2.3" fill="#4ba5b3"/>
<rect x="308.64" y="263.70" width="7.81" height="6.10" fill="none" stroke="#ff0000" stroke-width="0.9"/>
<circle cx="408.61" cy="266.75" r="2.3" fill="#66c2a5"/>
<rect x="404.71" y="263.70" width="7.81" height="6.10" fill="none" stroke="#ff0000" stroke-width="0.9"/>
<circle cx="424.62" cy="266.75" r="2.3" fill="#66c2a5"/>
<rect x="420.72" y="263.70" width="7.81" height="6.10" fill="none" stroke="#ff0000" stroke-width="0.9"/>
<circle cx="520.70" cy="266.75" r="2.3" fill="#66c2a5"/>
<rect x="516.79" y="263.70" width="7.81" height="6.10" fill="none" stroke="#ff0000" stroke-width="0.9"/>
<circle cx="536.71" cy="266.75" r="2.3" fill="#66c2a5"/>
<rect x="532.81" y="263.70" width="7.81" height="6.10" fill="none" stroke="#ff0000" stroke-width="0.9"/>
<circle cx="632.78" cy="266.75" r="2.3" fill="#4ba5b3"/>
<rect x="628.88" y="263.70" width="7.81" height="6.10" fill="none" stroke="#ff0000" stroke-width="0.9"/>
<circle cx="648.79" cy="266.75" r="2.3" fill="#4ba5b3"/>
<rect x="644.89" y="263.70" width="7.81" height="6.10" fill="none" stroke="#ff0000" stroke-width="0.9"/>
<circle cx="136.41" cy="273.05" r="2.3" fill="#4ba5b3"/>
<rect x="132.51" y="270.00" width="7.81" height="6.10" fill="none" stroke="#ff0000" stroke-width="0.9"/>
<circle cx="152.42" cy="273.05" r="2.3" fill="#4ba5b3"/>
<rect x="148.52" y="270.00" width="7.81" height="6.10" fill="none" stroke="#ff0000" stroke-width="0.9"/>
<circle cx="168.43" cy="273.05" r="2.3" fill="#a5daa4"/>
<rect x="164.53" y="270.00" width="7.81" height="6.10" fill="none" stroke="#ff0000" stroke-width="0.9"/>
<circle cx="176.44" cy="273.05" r="2.3" fill="#a5daa4"/>
<circle cx="184.44" cy="273.05" r="2.3" fill="#e2f29a"/>
<circle cx="192.45" cy="273.05" r="2.3" fill="#a5daa4"/>
<circle cx="200.46" cy="273.05" r="2.3" fill="#a5daa4"/>
<circle cx="208.46" cy="273.05" r="2.3" fill="#e2f29a"/>
<circle cx="216.47" cy="273.05" r="2.3" fill="#a5daa4"/>
<circle cx="224.48" cy="273.05" r="2.3" fill="#e2f29a"/>
<circle cx="232.48" cy="273.05" r="2.3" fill="#a5daa4"/>
<circle cx="248.49" cy="273.05" r="2.3" fill="#4ba5b3"/>
<rect x="244.59" y="270.00" width="7.81" height="6.10" fill="none" stroke="#ff0000" stroke-width="0.9"/>
<circle cx="264.50" cy="273.05" r="2.3" fill="#4ba5b3"/>
<rect x="260.60" y="270.00" width="7.81" height="6.10" fill="none" stroke="#ff0000" stroke-width="0.9"/>
<circle cx="280.52" cy="273.05" r="2.3" fill="#a5daa4"/>
<rect x="276.61" y="270.00" width="7.81" height="6.10" fill="none" stroke="#ff0000" stroke-width="0.9"/>
<circle cx="288.52" cy="273.05" r="2.3" fill="#a5daa4"/>
<circle cx="296.53" cy="273.05" r="2.3" fill="#e2f29a"/>
<circle cx="304.53" cy="273.05" r="2.3" fill="#a5daa4"/>
<circle cx="312.54" cy="273.05" r="2.3" fill="#a5daa4"/>
<circle cx="320.55" cy="273.05" r="2.3" fill="#e2f29a"/>
<circle cx="328.55" cy="273.05" r="2.3" fill="#e2f29a"/>
<circle cx="336.56" cy="273.05" r="2.3" fill="#e2f29a"/>
<circle cx="344.57" cy="273.05" r="2.3" fill="#e2f29a"/>
<circle cx="360.58" cy="273.05" r="2.3" fill="#66c2a5"/>
<rect x="356.67" y="270.00" width="7.81" height="6.10" fill="none" stroke="#ff0000" stroke-width="0.9"/>
<circle cx="376.59" cy="273.05" r="2.3" fill="#66c2a5"/>
<rect x="372.69" y="270.00" width="7.81" height="6.10" fill="none" stroke="#ff0000" stroke-width="0.9"/>
<circle cx="392.60" cy="273.05" r="2.3" fill="#fdd47f"/>
<rect x="388.70" y="270.00" width="7.81" height="6.10" fill="none" stroke="#ff0000" stroke-width="0.9"/>
<circle cx="400.61" cy="273.05" r="2.3" fill="#e2f29a"/>
<circle cx="408.61" cy="273.05" r="2.3" fill="#fdae61"/>
<rect x="404.71" y="270.00" width="7.81" height="6.10" fill="none" stroke="#ff0000" stroke-width="0.9"/>
<circle cx="416.62" cy="273.05" r="2.3" fill="#a5daa4"/>
<circle cx="424.62" cy="273.05" r="2.3" fill="#fdd47f"/>
<rect x="420.72" y="270.00" width="7.81" height="6.10" fill="none" stroke="#ff0000" stroke-width="0.9"/>
<circle cx="432.63" cy="273.05" r="2.3" fill="#fdd47f"/>
<circle cx="440.64" cy="273.05" r="2.3" fill="#fdae61"/>
<circle cx="448.64" cy="273.05" r="2.3" fill="#fdd47f"/>
<circle cx="456.65" cy="273.05" r="2.3" fill="#fdae61"/>
<circle cx="472.66" cy="273.05" r="2.3" fill="#66c2a5"/>
<rect x="468.76" y="270.00" width="7.81" height="6.10" fill="none" stroke="#ff0000" stroke-width="0.9"/>
<circle cx="520.70" cy="273.05" r="2.3" fill="#fdae61"/>
<rect x="516.79" y="270.00" width="7.81" height="6.10" fill="none" stroke="#ff0000" stroke-width="0.9"/>
<circle cx="536.71" cy="273.05" r="2.3" fill="#fdd47f"/>
<rect x="532.81" y="270.00" width="7.81" height="6.10" fill="none" stroke="#ff0000" stroke-width="0.9"/>
<circle cx="552.72" cy="273.05" r="2.3" fill="#fdd47f"/>
<rect x="548.82" y="270.00" width="7.81" height="6.10" fill="none" stroke="#ff0000" stroke-width="0.9"/>
<circle cx="568.73" cy="273.05" r="2.3" fill="#fdd47f"/>
<rect x="564.83" y="270.00" width="7.81" height="6.10" fill="none" stroke="#ff0000" stroke-width="0.9"/>
<circle cx="632.78" cy="273.05" r="2.3" fill="#e2f29a"/>
<rect x="628.88" y="270.00" width="7.81" height="6.10" fill="none" stroke="#ff0000" stroke-width="0.9"/>
<circle cx="648.79" cy="273.05" r="2.3" fill="#a5daa4"/>
<rect x="644.89" y="270.00" width="7.81" height="6.10" fill="none" stroke="#ff0000" stroke-width="0.9"/>
<circle cx="680.82" cy="273.05" r="2.3" fill="#e2f29a"/>
<rect x="676.91" y="270.00" width="7.81" height="6.10" fill="none" stroke="#ff0000" stroke-width="0.9"/>
<circle cx="176.44" cy="279.35" r="2.3" fill="#a5daa4"/>
<circle cx="184.44" cy="279.35" r="2.3" fill="#a5daa4"/>
<circle cx="200.46" cy="279.35" r="2.3" fill="#66c2a5"/>
<rect x="196.55" y="276.30" width="7.81" height="6.10" fill="none" stroke="#ff0000" stroke-width="0.9"/>
<circle cx="288.52" cy="279.35" r="2.3" fill="#a5daa4"/>
<circle cx="296.53" cy="279.35" r="2.3" fill="#a5daa4"/>
<circle cx="312.54" cy="279.35" r="2.3" fill="#66c2a5"/>
<rect x="308.64" y="276.30" width="7.81" height="6.10" fill="none" stroke="#ff0000" stroke-width="0.9"/>
<circle cx="400.61" cy="279.35" r="2.3" fill="#a5daa4"/>
<circle cx="408.61" cy="279.35" r="2.3" fill="#fdd47f"/>
<rect x="404.71" y="276.30" width="7.81" height="6.10" fill="none" stroke="#ff0000" stroke-width="0.9"/>
<circle cx="424.62" cy="279.35" r="2.3" fill="#a5daa4"/>
<rect x="420.72" y="276.30" width="7.81" height="6.10" fill="none" stroke="#ff0000" stroke-width="0.9"/>
<circle cx="520.70" cy="279.35" r="2.3" fill="#e2f29a"/>
<rect x="516.79" y="276.30" width="7.81" height="6.10" fill="none" stroke="#ff0000" stroke-width="0.9"/>
<circle cx="536.71" cy="279.35" r="2.3" fill="#a5daa4"/>
<rect x="532.81" y="276.30" width="7.81" height="6.10" fill="none" stroke="#ff0000" stroke-width="0.9"/>
<circle cx="632.78" cy="279.35" r="2.3" fill="#a5daa4"/>
<rect x="628.88" y="276.30" width="7.81" height="6.10" fill="none" stroke="#ff0000" stroke-width="0.9"/>
<circle cx="648.79" cy="279.35" r="2.3" fill="#66c2a5"/>
<rect x="644.89" y="276.30" width="7.81" height="6.10" fill="none" stroke="#ff0000" stroke-width="0.9"/>
<circle cx="136.41" cy="285.65" r="2.3" fill="#4862ab"/>
<rect x="132.51" y="282.60" width="7.81" height="6.10" fill="none" stroke="#ff0000" stroke-width="0.9"/>
<circle cx="184.44" cy="285.65" r="2.3" fill="#4ba5b3"/>
<rect x="180.54" y="282.60" width="7.81" height="6.10" fill="none" stroke="#ff0000" stroke-width="0.9"/>
<circle cx="200.46" cy="285.65" r="2.3" fill="#4ba5b3"/>
<rect x="196.55" y="282.60" width="7.81" height="6.10" fill="none" stroke="#ff0000" stroke-width="0.9"/>
<circle cx="216.47" cy="285.65" r="2.3" fill="#66c2a5"/>
<rect x="212.57" y="282.60" width="7.81" height="6.10" fill="none" stroke="#ff0000" stroke-width="0.9"/>
<circle cx="232.48" cy="285.65" r="2.3" fill="#66c2a5"/>
<rect x="228.58" y="282.60" width="7.81" height="6.10" fill="none" stroke="#ff0000" stroke-width="0.9"/>
<circle cx="248.49" cy="285.65" r="2.3" fill="#3288bd"/>
<rect x="244.59" y="282.60" width="7.81" height="6.10" fill="none" stroke="#ff0000" stroke-width="0.9"/>
<circle cx="296.53" cy="285.65" r="2.3" fill="#66c2a5"/>
<rect x="292.63" y="282.60" width="7.81" height="6.10" fill="none" stroke="#ff0000" stroke-width="0.9"/>
<circle cx="312.54" cy="285.65" r="2.3" fill="#4ba5b3"/>
<rect x="308.64" y="282.60" width="7.81" height="6.10" fill="none" stroke="#ff0000" stroke-width="0.9"/>
<circle cx="328.55" cy="285.65" r="2.3" fill="#66c2a5"/>
<rect x="324.65" y="282.60" width="7.81" height="6.10" fill="none" stroke="#ff0000" stroke-width="0.9"/>
<circle cx="344.57" cy="285.65" r="2.3" fill="#a5daa4"/>
<rect x="340.66" y="282.60" width="7.81" height="6.10" fill="none" stroke="#ff0000" stroke-width="0.9"/>
<circle cx="472.66" cy="285.65" r="2.3" fill="#3288bd"/>
<rect x="468.76" y="282.60" width="7.81" height="6.10" fill="none" stroke="#ff0000" stroke-width="0.9"/>
<circle cx="520.70" cy="285.65" r="2.3" fill="#a5daa4"/>
<rect x="516.79" y="282.60" width="7.81" height="6.10" fill="none" stroke="#ff0000" stroke-width="0.9"/>
<circle cx="536.71" cy="285.65" r="2.3" fill="#66c2a5"/>
<rect x="532.81" y="282.60" width="7.81" height="6.10" fill="none" stroke="#ff0000" stroke-width="0.9"/>
<circle cx="552.72" cy="285.65" r="2.3" fill="#a5daa4"/>
<rect x="548.82" y="282.60" width="7.81" height="6.10" fill="none" stroke="#ff0000" stroke-width="0.9"/>
<circle cx="568.73" cy="285.65" r="2.3" fill="#e2f29a"/>
<rect x="564.83" y="282.60" width="7.81" height="6.10" fill="none" stroke="#ff0000" stroke-width="0.9"/>
<circle cx="184.44" cy="291.95" r="2.3" fill="#4ba5b3"/>
<rect x="180.54" y="288.90" width="7.81" height="6.10" fill="none" stroke="#ff0000" stroke-width="0.9"/>
<circle cx="200.46" cy="291.95" r="2.3" fill="#4ba5b3"/>
<rect x="196.55" y="288.90" width="7.81" height="6.10" fill="none" stroke="#ff0000" stroke-width="0.9"/>
<circle cx="296.53" cy="291.95" r="2.3" fill="#4ba5b3"/>
<rect x="292.63" y="288.90" width="7.81" height="6.10" fill="none" stroke="#ff0000" stroke-width="0.9"/>
<circle cx="312.54" cy="291.95" r="2.3" fill="#4ba5b3"/>
<rect x="308.64" y="288.90" width="7.81" height="6.10" fill="none" stroke="#ff0000" stroke-width="0.9"/>
<circle cx="520.70" cy="291.95" r="2.3" fill="#a5daa4"/>
<rect x="516.79" y="288.90" width="7.81" height="6.10" fill="none" stroke="#ff0000" stroke-width="0.9"/>
<circle cx="536.71" cy="291.95" r="2.3" fill="#66c2a5"/>
<rect x="532.81" y="288.90" width="7.81" height="6.10" fill="none" stroke="#ff0000" stroke-width="0.9"/>
<rect x="113.81" y="442.40" width="6.01" height="346.80" fill="#e6e6e6"/>
<rect x="125.82" y="442.40" width="6.01" height="346.80" fill="#e6e6e6"/>
<rect x="137.84" y="442.40" width="6.01" height="346.80" fill="#e6e6e6"/>
<rect x="149.85" y="442.40" width="6.01" height="346.80" fill="#e6e6e6"/>
<rect x="161.87" y="442.40" width="6.01" height="346.80" fill="#e6e6e6"/>
<rect x="173.88" y="442.40" width="6.01" height="346.80" fill="#e6e6e6"/>
<rect x="185.90" y="442.40" width="6.01" height="346.80" fill="#e6e6e6"/>
<rect x="197.91" y="442.40" width="6.01" height="346.80" fill="#e6e6e6"/>
<rect x="209.93" y="442.40" width="6.01" height="346.80" fill="#e6e6e6"/>
<rect x="221.94" y="442.40" width="6.01" height="346.80" fill="#e6e6e6"/>
<rect x="233.96" y="442.40" width="6.01" height="346.80" fill="#e6e6e6"/>
<rect x="245.97" y="442.40" width="6.01" height="346.80" fill="#e6e6e6"/>
<rect x="257.99" y="442.40" width="6.01" height="346.80" fill="#e6e6e6"/>
<rect x="270.00" y="442.40" width="6.01" height="346.80" fill="#e6e6e6"/>
<rect x="282.02" y="442.40" width="6.01" height="346.80" fill="#e6e6e6"/>
<rect x="294.03" y="442.40" width="6.01" height="346.80" fill="#e6e6e6"/>
<rect x="306.05" y="442.40" width="6.01" height="346.80" fill="#e6e6e6"/>
<rect x="318.06" y="442.40" width="6.01" height="346.80" fill="#e6e6e6"/>
<rect x="330.08" y="442.40" width="6.01" height="346.80" fill="#e6e6e6"/>
<rect x="342.09" y="442.40" width="6.01" height="346.80" fill="#e6e6e6"/>
<rect x="354.11" y="442.40" width="6.01" height="346.80" fill="#e6e6e6"/>
<rect x="366.12" y="442.40" width="6.01" height="346.80" fill="#e6e6e6"/>
<rect x="378.14" y="442.40" width="6.01" height="346.80" fill="#e6e6e6"/>
<rect x="390.15" y="442.40" width="6.01" height="346.80" fill="#e6e6e6"/>
<rect x="402.17" y="442.40" width="6.01" height="346.80" fill="#e6e6e6"/>
<rect x="414.18" y="442.40" width="6.01" height="346.80" fill="#e6e6e6"/>
<rect x="426.20" y="442.40" width="6.01" height="346.80" fill="#e6e6e6"/>
<rect x="438.21" y="442.40" width="6.01" height="346.80" fill="#e6e6e6"/>
<rect x="450.23" y="442.40" width="6.01" height="346.80" fill="#e6e6e6"/>
<rect x="462.24" y="442.40" width="6.01" height="346.80" fill="#e6e6e6"/>
<rect x="474.26" y="442.40" width="6.01" height="346.80" fill="#e6e6e6"/>
<rect x="486.27" y="442.40" width="6.01" height="346.80" fill="#e6e6e6"/>
<rect x="498.29" y="442.40" width="6.01" height="346.80" fill="#e6e6e6"/>
<rect x="510.30" y="442.40" width="6.01" height="346.80" fill="#e6e6e6"/>
<rect x="522.32" y="442.40" width="6.01" height="346.80" fill="#e6e6e6"/>
<rect x="534.33" y="442.40" width="6.01" height="346.80" fill="#e6e6e6"/>
<rect x="546.35" y="442.40" width="6.01" height="346.80" fill="#e6e6e6"/>
<rect x="558.36" y="442.40" width="6.01" height="346.80" fill="#e6e6e6"/>
<rect x="570.38" y="442.40" width="6.01" height="346.80" fill="#e6e6e6"/>
<rect x="582.39" y="442.40" width="6.01" height="346.80" fill="#e6e6e6"/>
<rect x="594.41" y="442.40" width="6.01" height="346.80" fill="#e6e6e6"/>
<rect x="606.42" y="442.40" width="6.01" height="346.80" fill="#e6e6e6"/>
<rect x="618.44" y="442.40" width="6.01" height="346.80" fill="#e6e6e6"/>
<rect x="630.45" y="442.40" width="6.01" height="346.80" fill="#e6e6e6"/>
<rect x="642.47" y="442.40" width="6.01" height="346.80" fill="#e6e6e6"/>
<rect x="654.48" y="442.40" width="6.01" height="346.80" fill="#e6e6e6"/>
<rect x="666.50" y="442.40" width="6.01" height="346.80" fill="#e6e6e6"/>
<rect x="678.51" y="442.40" width="6.01" height="346.80" fill="#e6e6e6"/>
<line x1="113.81" y1="442.40" x2="113.81" y2="789.20" stroke="#a8a8a8" stroke-width="0.6"/>
<line x1="125.82" y1="442.40" x2="125.82" y2="789.20" stroke="#a8a8a8" stroke-width="0.6"/>
<line x1="137.84" y1="442.40" x2="137.84" y2="789.20" stroke="#a8a8a8" stroke-width="0.6"/>
<line x1="149.85" y1="442.40" x2="149.85" y2="789.20" stroke="#a8a8a8" stroke-width="0.6"/>
<line x1="161.87" y1="442.40" x2="161.87" y2="789.20" stroke="#a8a8a8" stroke-width="0.6"/>
<line x1="173.88" y1="442.40" x2="173.88" y2="789.20" stroke="#a8a8a8" stroke-width="0.6"/>
<line x1="185.90" y1="442.40" x2="185.90" y2="789.20" stroke="#a8a8a8" stroke-width="0.6"/>
<line x1="197.91" y1="442.40" x2="197.91" y2="789.20" stroke="#a8a8a8" stroke-width="0.6"/>
<line x1="209.93" y1="442.40" x2="209.93" y2="789.20" stroke="#a8a8a8" stroke-width="0.6"/>
<line x1="221.94" y1="442.40" x2="221.94" y2="789.20" stroke="#a8a8a8" stroke-width="0.6"/>
<line x1="233.96" y1="442.40" x2="233.96" y2="789.20" stroke="#a8a8a8" stroke-width="0.6"/>
<line x1="245.97" y1="442.40" x2="245.97" y2="789.20" stroke="#a8a8a8" stroke-width="0.6"/>
<line x1="257.99" y1="442.40" x2="257.99" y2="789.20" stroke="#a8a8a8" stroke-width="0.6"/>
<line x1="270.00" y1="442.40" x2="270.00" y2="789.20" stroke="#a8a8a8" stroke-width="0.6"/>
<line x1="282.02" y1="442.40" x2="282.02" y2="789.20" stroke="#a8a8a8" stroke-width="0.6"/>
<line x1="294.03" y1="442.40" x2="294.03" y2="789.20" stroke="#a8a8a8" stroke-width="0.6"/>
<line x1="306.05" y1="442.40" x2="306.05" y2="789.20" stroke="#a8a8a8" stroke-width="0.6"/>
<line x1="318.06" y1="442.40" x2="318.06" y2="789.20" stroke="#a8a8a8" stroke-width="0.6"/>
<line x1="330.08" y1="442.40" x2="330.08" y2="789.20" stroke="#a8a8a8" stroke-width="0.6"/>
<line x1="342.09" y1="442.40" x2="342.09" y2="789.20" stroke="#a8a8a8" stroke-width="0.6"/>
<line x1="354.11" y1="442.40" x2="354.11" y2="789.20" stroke="#a8a8a8" stroke-width="0.6"/>
<line x1="366.12" y1="442.40" x2="366.12" y2="789.20" stroke="#a8a8a8" stroke-width="0.6"/>
<line x1="378.14" y1="442.40" x2="378.14" y2="789.20" stroke="#a8a8a8" stroke-width="0.6"/>
<line x1="390.15" y1="442.40" x2="390.15" y2="789.20" stroke="#a8a8a8" stroke-width="0.6"/>
<line x1="402.17" y1="442.40" x2="402.17" y2="789.20" stroke="#a8a8a8" stroke-width="0.6"/>
<line x1="414.18" y1="442.40" x2="414.18" y2="789.20" stroke="#a8a8a8" stroke-width="0.6"/>
<line x1="426.20" y1="442.40" x2="426.20" y2="789.20" stroke="#a8a8a8" stroke-width="0.6"/>
<line x1="438.21" y1="442.40" x2="438.21" y2="789.20" stroke="#a8a8a8" stroke-width="0.6"/>
<line x1="450.23" y1="442.40" x2="450.23" y2="789.20" stroke="#a8a8a8" stroke-width="0.6"/>
<line x1="462.24" y1="442.40" x2="462.24" y2="789.20" stroke="#a8a8a8" stroke-width="0.6"/>
<line x1="474.26" y1="442.40" x2="474.26" y2="789.20" stroke="#a8a8a8" stroke-width="0.6"/>
<line x1="486.27" y1="442.40" x2="486.27" y2="789.20" stroke="#a8a8a8" stroke-width="0.6"/>
<line x1="498.29" y1="442.40" x2="498.29" y2="789.20" stroke="#a8a8a8" stroke-width="0.6"/>
<line x1="510.30" y1="442.40" x2="510.30" y2="789.20" stroke="#a8a8a8" stroke-width="0.6"/>
<line x1="522.32" y1="442.40" x2="522.32" y2="789.20" stroke="#a8a8a8" stroke-width="0.6"/>
<line x1="534.33" y1="442.40" x2="534.33" y2="789.20" stroke="#a8a8a8" stroke-width="0.6"/>
<line x1="546.35" y1="442.40" x2="546.35" y2="789.20" stroke="#a8a8a8" stroke-width="0.6"/>
<line x1="558.36" y1="442.40" x2="558.36" y2="789.20" stroke="#a8a8a8" stroke-width="0.6"/>
<line x1="570.38" y1="442.40" x2="570.38" y2="789.20" stroke="#a8a8a8" stroke-width="0.6"/>
<line x1="582.39" y1="442.40" x2="582.39" y2="789.20" stroke="#a8a8a8" stroke-width="0.6"/>
<line x1="594.41" y1="442.40" x2="594.41" y2="789.20" stroke="#a8a8a8" stroke-width="0.6"/>
<line x1="606.42" y1="442.40" x2="606.42" y2="789.20" stroke="#a8a8a8" stroke-width="0.6"/>
<line x1="618.44" y1="442.40" x2="618.44" y2="789.20" stroke="#a8a8a8" stroke-width="0.6"/>
<line x1="630.45" y1="442.40" x2="630.45" y2="789.20" stroke="#a8a8a8" stroke-width="0.6"/>
<line x1="642.47" y1="442.40" x2="642.47" y2="789.20" stroke="#a8a8a8" stroke-width="0.6"/>
<line x1="654.48" y1="442.40" x2="654.48" y2="789.20" stroke="#a8a8a8" stroke-width="0.6"/>
<line x1="666.50" y1="442.40" x2="666.50" y2="789.20" stroke="#a8a8a8" stroke-width="0.6"/>
<line x1="678.51" y1="442.40" x2="678.51" y2="789.20" stroke="#a8a8a8" stroke-width="0.6"/>
<line x1="107.80" y1="448.90" x2="684.52" y2="448.90" stroke="#a0a0a0" stroke-width="0.7"/>
<line x1="107.80" y1="454.29" x2="684.52" y2="454.29" stroke="#a0a0a0" stroke-width="0.7"/>
<line x1="107.80" y1="459.69" x2="684.52" y2="459.69" stroke="#a0a0a0" stroke-width="0.7"/>
<line x1="107.80" y1="465.09" x2="684.52" y2="465.09" stroke="#a0a0a0" stroke-width="0.7"/>
<line x1="107.80" y1="470.49" x2="684.52" y2="470.49" stroke="#a0a0a0" stroke-width="0.7"/>
<line x1="107.80" y1="475.88" x2="684.52" y2="475.88" stroke="#a0a0a0" stroke-width="0.7"/>
<line x1="107.80" y1="481.28" x2="684.52" y2="481.28" stroke="#a0a0a0" stroke-width="0.7"/>
<line x1="107.80" y1="486.68" x2="684.52" y2="486.68" stroke="#a0a0a0" stroke-width="0.7"/>
<line x1="107.80" y1="492.07" x2="684.52" y2="492.07" stroke="#a0a0a0" stroke-width="0.7"/>
<line x1="107.80" y1="497.47" x2="684.52" y2="497.47" stroke="#a0a0a0" stroke-width="0.7"/>
<line x1="107.80" y1="502.87" x2="684.52" y2="502.87" stroke="#a0a0a0" stroke-width="0.7"/>
<line x1="107.80" y1="508.26" x2="684.52" y2="508.26" stroke="#a0a0a0" stroke-width="0.7"/>
<line x1="107.80" y1="513.66" x2="684.52" y2="513.66" stroke="#a0a0a0" stroke-width="0.7"/>
<line x1="107.80" y1="519.06" x2="684.52" y2="519.06" stroke="#a0a0a0" stroke-width="0.7"/>
<line x1="107.80" y1="524.46" x2="684.52" y2="524.46" stroke="#a0a0a0" stroke-width="0.7"/>
<line x1="107.80" y1="529.85" x2="684.52" y2="529.85" stroke="#a0a0a0" stroke-width="0.7"/>
<line x1="107.80" y1="535.25" x2="684.52" y2="535.25" stroke="#a0a0a0" stroke-width="0.7"/>
<line x1="107.80" y1="540.65" x2="684.52" y2="540.65" stroke="#a0a0a0" stroke-width="0.7"/>
<line x1="107.80" y1="546.04" x2="684.52" y2="546.04" stroke="#a0a0a0" stroke-width="0.7"/>
<line x1="107.80" y1="551.44" x2="684.52" y2="551.44" stroke="#a0a0a0" stroke-width="0.7"/>
<line x1="107.80" y1="556.84" x2="684.52" y2="556.84" stroke="#a0a0a0" stroke-width="0.7"/>
<line x1="107.80" y1="562.23" x2="684.52" y2="562.23" stroke="#a0a0a0" stroke-width="0.7"/>
<line x1="107.80" y1="567.63" x2="684.52" y2="567.63" stroke="#a0a0a0" stroke-width="0.7"/>
<line x1="107.80" y1="573.03" x2="684.52" y2="573.03" stroke="#a0a0a0" stroke-width="0.7"/>
<line x1="107.80" y1="578.42" x2="684.52" y2="578.42" stroke="#a0a0a0" stroke-width="0.7"/>
<line x1="107.80" y1="583.82" x2="684.52" y2="583.82" stroke="#a0a0a0" stroke-width="0.7"/>
<line x1="107.80" y1="589.22" x2="684.52" y2="589.22" stroke="#a0a0a0" stroke-width="0.7"/>
<line x1="107.80" y1="594.62" x2="684.52" y2="594.62" stroke="#a0a0a0" stroke-width="0.7"/>
<line x1="107.80" y1="600.01" x2="684.52" y2="600.01" stroke="#a0a0a0" stroke-width="0.7"/>
<line x1="107.80" y1="605.41" x2="684.52" y2="605.41" stroke="#a0a0a0" stroke-width="0.7"/>
<line x1="107.80" y1="610.81" x2="684.52" y2="610.81" stroke="#a0a0a0" stroke-width="0.7"/>
<line x1="107.80" y1="616.20" x2="684.52" y2="616.20" stroke="#a0a0a0" stroke-width="0.7"/>
<line x1="107.80" y1="621.60" x2="684.52" y2="621.60" stroke="#a0a0a0" stroke-width="0.7"/>
<line x1="107.80" y1="627.00" x2="684.52" y2="627.00" stroke="#a0a0a0" stroke-width="0.7"/>
<line x1="107.80" y1="632.39" x2="684.52" y2="632.39" stroke="#a0a0a0" stroke-width="0.7"/>
<line x1="107.80" y1="637.79" x2="684.52" y2="637.79" stroke="#a0a0a0" stroke-width="0.7"/>
<line x1="107.80" y1="643.19" x2="684.52" y2="643.19" stroke="#a0a0a0" stroke-width="0.7"/>
<line x1="107.80" y1="648.59" x2="684.52" y2="648.59" stroke="#a0a0a0" stroke-width="0.7"/>
<line x1="107.80" y1="653.98" x2="684.52" y2="653.98" stroke="#a0a0a0" stroke-width="0.7"/>
<line x1="107.80" y1="659.38" x2="684.52" y2="659.38" stroke="#a0a0a0" stroke-width="0.7"/>
<line x1="107.80" y1="664.78" x2="684.52" y2="664.78" stroke="#a0a0a0" stroke-width="0.7"/>
<line x1="107.80" y1="670.17" x2="684.52" y2="670.17" stroke="#a0a0a0" stroke-width="0.7"/>
<line x1="107.80" y1="675.57" x2="684.52" y2="675.57" stroke="#a0a0a0" stroke-width="0.7"/>
<line x1="107.80" y1="680.97" x2="684.52" y2="680.97" stroke="#a0a0a0" stroke-width="0.7"/>
<line x1="107.80" y1="686.37" x2="684.52" y2="686.37" stroke="#a0a0a0" stroke-width="0.7"/>
<line x1="107.80" y1="691.76" x2="684.52" y2="691.76" stroke="#a0a0a0" stroke-width="0.7"/>
<line x1="107.80" y1="697.16" x2="684.52" y2="697.16" stroke="#a0a0a0" stroke-width="0.7"/>
<line x1="107.80" y1="702.56" x2="684.52" y2="702.56" stroke="#a0a0a0" stroke-width="0.7"/>
<line x1="107.80" y1="707.95" x2="684.52" y2="707.95" stroke="#a0a0a0" stroke-width="0.7"/>
<line x1="107.80" y1="713.35" x2="684.52" y2="713.35" stroke="#a0a0a0" stroke-width="0.7"/>
<line x1="107.80" y1="718.75" x2="684.52" y2="718.75" stroke="#a0a0a0" stroke-width="0.7"/>
<line x1="107.80" y1="724.14" x2="684.52" y2="724.14" stroke="#a0a0a0" stroke-width="0.7"/>
<line x1="107.80" y1="729.54" x2="684.52" y2="729.54" stroke="#a0a0a0" stroke-width="0.7"/>
<line x1="107.80" y1="734.94" x2="684.52" y2="734.94" stroke="#a0a0a0" stroke-width="0.7"/>
<line x1="107.80" y1="740.34" x2="684.52" y2="740.34" stroke="#a0a0a0" stroke-width="0.7"/>
<line x1="107.80" y1="745.73" x2="684.52" y2="745.73" stroke="#a0a0a0" stroke-width="0.7"/>
<line x1="107.80" y1="751.13" x2="684.52" y2="751.13" stroke="#a0a0a0" stroke-width="0.7"/>
<line x1="107.80" y1="756.53" x2="684.52" y2="756.53" stroke="#a0a0a0" stroke-width="0.7"/>
<line x1="107.80" y1="761.92" x2="684.52" y2="761.92" stroke="#a0a0a0" stroke-width="0.7"/>
<line x1="107.80" y1="767.32" x2="684.52" y2="767.32" stroke="#a0a0a0" stroke-width="0.7"/>
<line x1="107.80" y1="772.72" x2="684.52" y2="772.72" stroke="#a0a0a0" stroke-width="0.7"/>
<line x1="107.80" y1="778.11" x2="684.52" y2="778.11" stroke="#a0a0a0" stroke-width="0.7"/>
<line x1="107.80" y1="783.51" x2="684.52" y2="783.51" stroke="#a0a0a0" stroke-width="0.7"/>
<line x1="119.81" y1="442.40" x2="119.81" y2="789.20" stroke="#2e2e2e" stroke-width="0.9"/>
<line x1="131.83" y1="442.40" x2="131.83" y2="789.20" stroke="#2e2e2e" stroke-width="0.9"/>
<line x1="143.84" y1="442.40" x2="143.84" y2="789.20" stroke="#2e2e2e" stroke-width="0.9"/>
<line x1="155.86" y1="442.40" x2="155.86" y2="789.20" stroke="#2e2e2e" stroke-width="0.9"/>
<line x1="167.88" y1="442.40" x2="167.88" y2="789.20" stroke="#2e2e2e" stroke-width="0.9"/>
<line x1="179.89" y1="442.40" x2="179.89" y2="789.20" stroke="#2e2e2e" stroke-width="0.9"/>
<line x1="191.91" y1="442.40" x2="191.91" y2="789.20" stroke="#2e2e2e" stroke-width="0.9"/>
<line x1="203.92" y1="442.40" x2="203.92" y2="789.20" stroke="#2e2e2e" stroke-width="0.9"/>
<line x1="215.94" y1="442.40" x2="215.94" y2="789.20" stroke="#2e2e2e" stroke-width="0.9"/>
<line x1="227.95" y1="442.40" x2="227.95" y2="789.20" stroke="#2e2e2e" stroke-width="0.9"/>
<line x1="239.97" y1="442.40" x2="239.97" y2="789.20" stroke="#2e2e2e" stroke-width="0.9"/>
<line x1="251.98" y1="442.40" x2="251.98" y2="789.20" stroke="#2e2e2e" stroke-width="0.9"/>
<line x1="264.00" y1="442.40" x2="264.00" y2="789.20" stroke="#2e2e2e" stroke-width="0.9"/>
<line x1="276.01" y1="442.40" x2="276.01" y2="789.20" stroke="#2e2e2e" stroke-width="0.9"/>
<line x1="288.03" y1="442.40" x2="288.03" y2="789.20" stroke="#2e2e2e" stroke-width="0.9"/>
<line x1="300.04" y1="442.40" x2="300.04" y2="789.20" stroke="#2e2e2e" stroke-width="0.9"/>
<line x1="312.06" y1="442.40" x2="312.06" y2="789.20" stroke="#2e2e2e" stroke-width="0.9"/>
<line x1="324.07" y1="442.40" x2="324.07" y2="789.20" stroke="#2e2e2e" stroke-width="0.9"/>
<line x1="336.09" y1="442.40" x2="336.09" y2="789.20" stroke="#2e2e2e" stroke-width="0.9"/>
<line x1="348.10" y1="442.40" x2="348.10" y2="789.20" stroke="#2e2e2e" stroke-width="0.9"/>
<line x1="360.12" y1="442.40" x2="360.12" y2="789.20" stroke="#2e2e2e" stroke-width="0.9"/>
<line x1="372.13" y1="442.40" x2="372.13" y2="789.20" stroke="#2e2e2e" stroke-width="0.9"/>
<line x1="384.15" y1="442.40" x2="384.15" y2="789.20" stroke="#2e2e2e" stroke-width="0.9"/>
<line x1="396.16" y1="442.40" x2="396.16" y2="789.20" stroke="#2e2e2e" stroke-width="0.9"/>
<line x1="408.18" y1="442.40" x2="408.18" y2="789.20" stroke="#2e2e2e" stroke-width="0.9"/>
<line x1="420.19" y1="442.40" x2="420.19" y2="789.20" stroke="#2e2e2e" stroke-width="0.9"/>
<line x1="432.21" y1="442.40" x2="432.21" y2="789.20" stroke="#2e2e2e" stroke-width="0.9"/>
<line x1="444.22" y1="442.40" x2="444.22" y2="789.20" stroke="#2e2e2e" stroke-width="0.9"/>
<line x1="456.24" y1="442.40" x2="456.24" y2="789.20" stroke="#2e2e2e" stroke-width="0.9"/>
<line x1="468.25" y1="442.40" x2="468.25" y2="789.20" stroke="#2e2e2e" stroke-width="0.9"/>
<line x1="480.27" y1="442.40" x2="480.27" y2="789.20" stroke="#2e2e2e" stroke-width="0.9"/>
<line x1="492.28" y1="442.40" x2="492.28" y2="789.20" stroke="#2e2e2e" stroke-width="0.9"/>
<line x1="504.30" y1="442.40" x2="504.30" y2="789.20" stroke="#2e2e2e" stroke-width="0.9"/>
<line x1="516.31" y1="442.40" x2="516.31" y2="789.20" stroke="#2e2e2e" stroke-width="0.9"/>
<line x1="528.33" y1="442.40" x2="528.33" y2="789.20" stroke="#2e2e2e" stroke-width="0.9"/>
<line x1="540.34" y1="442.40" x2="540.34" y2="789.20" stroke="#2e2e2e" stroke-width="0.9"/>
<line x1="552.36" y1="442.40" x2="552.36" y2="789.20" stroke="#2e2e2e" stroke-width="0.9"/>
<line x1="564.37" y1="442.40" x2="564.37" y2="789.20" stroke="#2e2e2e" stroke-width="0.9"/>
<line x1="576.38" y1="442.40" x2="576.38" y2="789.20" stroke="#2e2e2e" stroke-width="0.9"/>
<line x1="588.40" y1="442.40" x2="588.40" y2="789.20" stroke="#2e2e2e" stroke-width="0.9"/>
<line x1="600.41" y1="442.40" x2="600.41" y2="789.20" stroke="#2e2e2e" stroke-width="0.9"/>
<line x1="612.43" y1="442.40" x2="612.43" y2="789.20" stroke="#2e2e2e" stroke-width="0.9"/>
<line x1="624.44" y1="442.40" x2="624.44" y2="789.20" stroke="#2e2e2e" stroke-width="0.9"/>
<line x1="636.46" y1="442.40" x2="636.46" y2="789.20" stroke="#2e2e2e" stroke-width="0.9"/>
<line x1="648.48" y1="442.40" x2="648.48" y2="789.20" stroke="#2e2e2e" stroke-width="0.9"/>
<line x1="660.49" y1="442.40" x2="660.49" y2="789.20" stroke="#2e2e2e" stroke-width="0.9"/>
<line x1="672.50" y1="442.40" x2="672.50" y2="789.20" stroke="#2e2e2e" stroke-width="0.9"/>
<rect x="107.80" y="442.40" width="576.72" height="346.80" fill="none" stroke="#555" stroke-width="1.0"/>
<line x1="110.80" y1="789.20" x2="110.80" y2="791.20" stroke="#666" stroke-width="0.5"/>
<rect x="109.15" y="794.00" width="3.90" height="3.90" fill="#0000ff"/>
<line x1="116.81" y1="789.20" x2="116.81" y2="791.20" stroke="#666" stroke-width="0.5"/>
<rect x="114.76" y="794.00" width="3.90" height="3.90" fill="#ff0000"/>
<line x1="122.82" y1="789.20" x2="122.82" y2="791.20" stroke="#666" stroke-width="0.5"/>
<rect x="121.17" y="794.00" width="3.90" height="3.90" fill="#0000ff"/>
<line x1="128.83" y1="789.20" x2="128.83" y2="791.20" stroke="#666" stroke-width="0.5"/>
<rect x="126.78" y="794.00" width="3.90" height="3.90" fill="#ff0000"/>
<line x1="134.83" y1="789.20" x2="134.83" y2="791.20" stroke="#666" stroke-width="0.5"/>
<rect x="133.18" y="794.00" width="3.90" height="3.90" fill="#0000ff"/>
<line x1="140.84" y1="789.20" x2="140.84" y2="791.20" stroke="#666" stroke-width="0.5"/>
<rect x="138.79" y="794.00" width="3.90" height="3.90" fill="#ff0000"/>
<line x1="146.85" y1="789.20" x2="146.85" y2="791.20" stroke="#666" stroke-width="0.5"/>
<rect x="145.20" y="794.00" width="3.90" height="3.90" fill="#0000ff"/>
<line x1="152.86" y1="789.20" x2="152.86" y2="791.20" stroke="#666" stroke-width="0.5"/>
<rect x="150.81" y="794.00" width="3.90" height="3.90" fill="#ff0000"/>
<line x1="158.86" y1="789.20" x2="158.86" y2="791.20" stroke="#666" stroke-width="0.5"/>
<rect x="157.21" y="794.00" width="3.90" height="3.90" fill="#0000ff"/>
<line x1="164.87" y1="789.20" x2="164.87" y2="791.20" stroke="#666" stroke-width="0.5"/>
<rect x="162.82" y="794.00" width="3.90" height="3.90" fill="#ff0000"/>
<line x1="170.88" y1="789.20" x2="170.88" y2="791.20" stroke="#666" stroke-width="0.5"/>
<rect x="169.23" y="794.00" width="3.90" height="3.90" fill="#0000ff"/>
<line x1="176.89" y1="789.20" x2="176.89" y2="791.20" stroke="#666" stroke-width="0.5"/>
<rect x="174.84" y="794.00" width="3.90" height="3.90" fill="#ff0000"/>
<line x1="182.89" y1="789.20" x2="182.89" y2="791.20" stroke="#666" stroke-width="0.5"/>
<rect x="181.24" y="794.00" width="3.90" height="3.90" fill="#0000ff"/>
<line x1="188.90" y1="789.20" x2="188.90" y2="791.20" stroke="#666" stroke-width="0.5"/>
<rect x="186.85" y="794.00" width="3.90" height="3.90" fill="#ff0000"/>
<line x1="194.91" y1="789.20" x2="194.91" y2="791.20" stroke="#666" stroke-width="0.5"/>
<rect x="193.26" y="794.00" width="3.90" height="3.90" fill="#0000ff"/>
<line x1="200.92" y1="789.20" x2="200.92" y2="791.20" stroke="#666" stroke-width="0.5"/>
<rect x="198.87" y="794.00" width="3.90" height="3.90" fill="#ff0000"/>
<line x1="206.92" y1="789.20" x2="206.92" y2="791.20" stroke="#666" stroke-width="0.5"/>
<rect x="205.27" y="794.00" width="3.90" height="3.90" fill="#0000ff"/>
<line x1="212.93" y1="789.20" x2="212.93" y2="791.20" stroke="#666" stroke-width="0.5"/>
<rect x="210.88" y="794.00" width="3.90" height="3.90" fill="#ff0000"/>
<line x1="218.94" y1="789.20" x2="218.94" y2="791.20" stroke="#666" stroke-width="0.5"/>
<rect x="217.29" y="794.00" width="3.90" height="3.90" fill="#0000ff"/>
<line x1="224.95" y1="789.20" x2="224.95" y2="791.20" stroke="#666" stroke-width="0.5"/>
<rect x="222.90" y="794.00" width="3.90" height="3.90" fill="#ff0000"/>
<line x1="230.95" y1="789.20" x2="230.95" y2="791.20" stroke="#666" stroke-width="0.5"/>
<rect x="229.30" y="794.00" width="3.90" height="3.90" fill="#0000ff"/>
<line x1="236.96" y1="789.20" x2="236.96" y2="791.20" stroke="#666" stroke-width="0.5"/>
<rect x="234.91" y="794.00" width="3.90" height="3.90" fill="#ff0000"/>
<line x1="242.97" y1="789.20" x2="242.97" y2="791.20" stroke="#666" stroke-width="0.5"/>
<rect x="241.32" y="794.00" width="3.90" height="3.90" fill="#0000ff"/>
<line x1="248.98" y1="789.20" x2="248.98" y2="791.20" stroke="#666" stroke-width="0.5"/>
<rect x="246.93" y="794.00" width="3.90" height="3.90" fill="#ff0000"/>
<line x1="254.98" y1="789.20" x2="254.98" y2="791.20" stroke="#666" stroke-width="0.5"/>
<rect x="253.33" y="794.00" width="3.90" height="3.90" fill="#0000ff"/>
<line x1="260.99" y1="789.20" x2="260.99" y2="791.20" stroke="#666" stroke-width="0.5"/>
<rect x="258.94" y="794.00" width="3.90" height="3.90" fill="#ff0000"/>
<line x1="267.00" y1="789.20" x2="267.00" y2="791.20" stroke="#666" stroke-width="0.5"/>
<rect x="265.35" y="794.00" width="3.90" height="3.90" fill="#0000ff"/>
<line x1="273.01" y1="789.20" x2="273.01" y2="791.20" stroke="#666" stroke-width="0.5"/>
<rect x="270.96" y="794.00" width="3.90" height="3.90" fill="#ff0000"/>
<line x1="279.01" y1="789.20" x2="279.01" y2="791.20" stroke="#666" stroke-width="0.5"/>
<rect x="277.36" y="794.00" width="3.90" height="3.90" fill="#0000ff"/>
<line x1="285.02" y1="789.20" x2="285.02" y2="791.20" stroke="#666" stroke-width="0.5"/>
<rect x="282.97" y="794.00" width="3.90" height="3.90" fill="#ff0000"/>
<line x1="291.03" y1="789.20" x2="291.03" y2="791.20" stroke="#666" stroke-width="0.5"/>
<rect x="289.38" y="794.00" width="3.90" height="3.90" fill="#0000ff"/>
<line x1="297.04" y1="789.20" x2="297.04" y2="791.20" stroke="#666" stroke-width="0.5"/>
<rect x="294.99" y="794.00" width="3.90" height="3.90" fill="#ff0000"/>
<line x1="303.04" y1="789.20" x2="303.04" y2="791.20" stroke="#666" stroke-width="0.5"/>
<rect x="301.39" y="794.00" width="3.90" height="3.90" fill="#0000ff"/>
<line x1="309.05" y1="789.20" x2="309.05" y2="791.20" stroke="#666" stroke-width="0.5"/>
<rect x="307.00" y="794.00" width="3.90" height="3.90" fill="#ff0000"/>
<line x1="315.06" y1="789.20" x2="315.06" y2="791.20" stroke="#666" stroke-width="0.5"/>
<rect x="313.41" y="794.00" width="3.90" height="3.90" fill="#0000ff"/>
<line x1="321.07" y1="789.20" x2="321.07" y2="791.20" stroke="#666" stroke-width="0.5"/>
<rect x="319.02" y="794.00" width="3.90" height="3.90" fill="#ff0000"/>
<line x1="327.07" y1="789.20" x2="327.07" y2="791.20" stroke="#666" stroke-width="0.5"/>
<rect x="325.42" y="794.00" width="3.90" height="3.90" fill="#0000ff"/>
<line x1="333.08" y1="789.20" x2="333.08" y2="791.20" stroke="#666" stroke-width="0.5"/>
<rect x="331.03" y="794.00" width="3.90" height="3.90" fill="#ff0000"/>
<line x1="339.09" y1="789.20" x2="339.09" y2="791.20" stroke="#666" stroke-width="0.5"/>
<rect x="337.44" y="794.00" width="3.90" height="3.90" fill="#0000ff"/>
<line x1="345.10" y1="789.20" x2="345.10" y2="791.20" stroke="#666" stroke-width="0.5"/>
<rect x="343.05" y="794.00" width="3.90" height="3.90" fill="#ff0000"/>
<line x1="351.10" y1="789.20" x2="351.10" y2="791.20" stroke="#666" stroke-width="0.5"/>
<rect x="349.45" y="794.00" width="3.90" height="3.90" fill="#0000ff"/>
<line x1="357.11" y1="789.20" x2="357.11" y2="791.20" stroke="#666" stroke-width="0.5"/>
<rect x="355.06" y="794.00" width="3.90" height="3.90" fill="#ff0000"/>
<line x1="363.12" y1="789.20" x2="363.12" y2="791.20" stroke="#666" stroke-width="0.5"/>
<rect x="361.47" y="794.00" width="3.90" height="3.90" fill="#0000ff"/>
<line x1="369.13" y1="789.20" x2="369.13" y2="791.20" stroke="#666" stroke-width="0.5"/>
<rect x="367.08" y="794.00" width="3.90" height="3.90" fill="#ff0000"/>
<line x1="375.13" y1="789.20" x2="375.13" y2="791.20" stroke="#666" stroke-width="0.5"/>
<rect x="373.48" y="794.00" width="3.90" height="3.90" fill="#0000ff"/>
<line x1="381.14" y1="789.20" x2="381.14" y2="791.20" stroke="#666" stroke-width="0.5"/>
<rect x="379.09" y="794.00" width="3.90" height="3.90" fill="#ff0000"/>
<line x1="387.15" y1="789.20" x2="387.15" y2="791.20" stroke="#666" stroke-width="0.5"/>
<rect x="385.50" y="794.00" width="3.90" height="3.90" fill="#0000ff"/>
<line x1="393.16" y1="789.20" x2="393.16" y2="791.20" stroke="#666" stroke-width="0.5"/>
<rect x="391.11" y="794.00" width="3.90" height="3.90" fill="#ff0000"/>
<line x1="399.16" y1="789.20" x2="399.16" y2="791.20" stroke="#666" stroke-width="0.5"/>
<rect x="397.51" y="794.00" width="3.90" height="3.90" fill="#0000ff"/>
<line x1="405.17" y1="789.20" x2="405.17" y2="791.20" stroke="#666" stroke-width="0.5"/>
<rect x="403.12" y="794.00" width="3.90" height="3.90" fill="#ff0000"/>
<line x1="411.18" y1="789.20" x2="411.18" y2="791.20" stroke="#666" stroke-width="0.5"/>
<rect x="409.53" y="794.00" width="3.90" height="3.90" fill="#0000ff"/>
<line x1="417.19" y1="789.20" x2="417.19" y2="791.20" stroke="#666" stroke-width="0.5"/>
<rect x="415.14" y="794.00" width="3.90" height="3.90" fill="#ff0000"/>
<line x1="423.19" y1="789.20" x2="423.19" y2="791.20" stroke="#666" stroke-width="0.5"/>
<rect x="421.54" y="794.00" width="3.90" height="3.90" fill="#0000ff"/>
<line x1="429.20" y1="789.20" x2="429.20" y2="791.20" stroke="#666" stroke-width="0.5"/>
<rect x="427.15" y="794.00" width="3.90" height="3.90" fill="#ff0000"/>
<line x1="435.21" y1="789.20" x2="435.21" y2="791.20" stroke="#666" stroke-width="0.5"/>
<rect x="433.56" y="794.00" width="3.90" height="3.90" fill="#0000ff"/>
<line x1="441.22" y1="789.20" x2="441.22" y2="791.20" stroke="#666" stroke-width="0.5"/>
<rect x="439.17" y="794.00" width="3.90" height="3.90" fill="#ff0000"/>
<line x1="447.22" y1="789.20" x2="447.22" y2="791.20" stroke="#666" stroke-width="0.5"/>
<rect x="445.57" y="794.00" width="3.90" height="3.90" fill="#0000ff"/>
<line x1="453.23" y1="789.20" x2="453.23" y2="791.20" stroke="#666" stroke-width="0.5"/>
<rect x="451.18" y="794.00" width="3.90" height="3.90" fill="#ff0000"/>
<line x1="459.24" y1="789.20" x2="459.24" y2="791.20" stroke="#666" stroke-width="0.5"/>
<rect x="457.59" y="794.00" width="3.90" height="3.90" fill="#0000ff"/>
<line x1="465.25" y1="789.20" x2="465.25" y2="791.20" stroke="#666" stroke-width="0.5"/>
<rect x="463.20" y="794.00" width="3.90" height="3.90" fill="#ff0000"/>
<line x1="471.25" y1="789.20" x2="471.25" y2="791.20" stroke="#666" stroke-width="0.5"/>
<rect x="469.60" y="794.00" width="3.90" height="3.90" fill="#0000ff"/>
<line x1="477.26" y1="789.20" x2="477.26" y2="791.20" stroke="#666" stroke-width="0.5"/>
<rect x="475.21" y="794.00" width="3.90" height="3.90" fill="#ff0000"/>
<line x1="483.27" y1="789.20" x2="483.27" y2="791.20" stroke="#666" stroke-width="0.5"/>
<rect x="481.62" y="794.00" width="3.90" height="3.90" fill="#0000ff"/>
<line x1="489.28" y1="789.20" x2="489.28" y2="791.20" stroke="#666" stroke-width="0.5"/>
<rect x="487.23" y="794.00" width="3.90" height="3.90" fill="#ff0000"/>
<line x1="495.28" y1="789.20" x2="495.28" y2="791.20" stroke="#666" stroke-width="0.5"/>
<rect x="493.63" y="794.00" width="3.90" height="3.90" fill="#0000ff"/>
<line x1="501.29" y1="789.20" x2="501.29" y2="791.20" stroke="#666" stroke-width="0.5"/>
<rect x="499.24" y="794.00" width="3.90" height="3.90" fill="#ff0000"/>
<line x1="507.30" y1="789.20" x2="507.30" y2="791.20" stroke="#666" stroke-width="0.5"/>
<rect x="505.65" y="794.00" width="3.90" height="3.90" fill="#0000ff"/>
<line x1="513.31" y1="789.20" x2="513.31" y2="791.20" stroke="#666" stroke-width="0.5"/>
<rect x="511.26" y="794.00" width="3.90" height="3.90" fill="#ff0000"/>
<line x1="519.31" y1="789.20" x2="519.31" y2="791.20" stroke="#666" stroke-width="0.5"/>
<rect x="517.66" y="794.00" width="3.90" height="3.90" fill="#0000ff"/>
<line x1="525.32" y1="789.20" x2="525.32" y2="791.20" stroke="#666" stroke-width="0.5"/>
<rect x="523.27" y="794.00" width="3.90" height="3.90" fill="#ff0000"/>
<line x1="531.33" y1="789.20" x2="531.33" y2="791.20" stroke="#666" stroke-width="0.5"/>
<rect x="529.68" y="794.00" width="3.90" height="3.90" fill="#0000ff"/>
<line x1="537.34" y1="789.20" x2="537.34" y2="791.20" stroke="#666" stroke-width="0.5"/>
<rect x="535.29" y="794.00" width="3.90" height="3.90" fill="#ff0000"/>
<line x1="543.34" y1="789.20" x2="543.34" y2="791.20" stroke="#666" stroke-width="0.5"/>
<rect x="541.69" y="794.00" width="3.90" height="3.90" fill="#0000ff"/>
<line x1="549.35" y1="789.20" x2="549.35" y2="791.20" stroke="#666" stroke-width="0.5"/>
<rect x="547.30" y="794.00" width="3.90" height="3.90" fill="#ff0000"/>
<line x1="555.36" y1="789.20" x2="555.36" y2="791.20" stroke="#666" stroke-width="0.5"/>
<rect x="553.71" y="794.00" width="3.90" height="3.90" fill="#0000ff"/>
<line x1="561.37" y1="789.20" x2="561.37" y2="791.20" stroke="#666" stroke-width="0.5"/>
<rect x="559.32" y="794.00" width="3.90" height="3.90" fill="#ff0000"/>
<line x1="567.37" y1="789.20" x2="567.37" y2="791.20" stroke="#666" stroke-width="0.5"/>
<rect x="565.72" y="794.00" width="3.90" height="3.90" fill="#0000ff"/>
<line x1="573.38" y1="789.20" x2="573.38" y2="791.20" stroke="#666" stroke-width="0.5"/>
<rect x="571.33" y="794.00" width="3.90" height="3.90" fill="#ff0000"/>
<line x1="579.39" y1="789.20" x2="579.39" y2="791.20" stroke="#666" stroke-width="0.5"/>
<rect x="577.74" y="794.00" width="3.90" height="3.90" fill="#0000ff"/>
<line x1="585.40" y1="789.20" x2="585.40" y2="791.20" stroke="#666" stroke-width="0.5"/>
<rect x="583.35" y="794.00" width="3.90" height="3.90" fill="#ff0000"/>
<line x1="591.40" y1="789.20" x2="591.40" y2="791.20" stroke="#666" stroke-width="0.5"/>
<rect x="589.75" y="794.00" width="3.90" height="3.90" fill="#0000ff"/>
<line x1="597.41" y1="789.20" x2="597.41" y2="791.20" stroke="#666" stroke-width="0.5"/>
<rect x="595.36" y="794.00" width="3.90" height="3.90" fill="#ff0000"/>
<line x1="603.42" y1="789.20" x2="603.42" y2="791.20" stroke="#666" stroke-width="0.5"/>
<rect x="601.77" y="794.00" width="3.90" height="3.90" fill="#0000ff"/>
<line x1="609.43" y1="789.20" x2="609.43" y2="791.20" stroke="#666" stroke-width="0.5"/>
<rect x="607.38" y="794.00" width="3.90" height="3.90" fill="#ff0000"/>
<line x1="615.43" y1="789.20" x2="615.43" y2="791.20" stroke="#666" stroke-width="0.5"/>
<rect x="613.78" y="794.00" width="3.90" height="3.90" fill="#0000ff"/>
<line x1="621.44" y1="789.20" x2="621.44" y2="791.20" stroke="#666" stroke-width="0.5"/>
<rect x="619.39" y="794.00" width="3.90" height="3.90" fill="#ff0000"/>
<line x1="627.45" y1="789.20" x2="627.45" y2="791.20" stroke="#666" stroke-width="0.5"/>
<rect x="625.80" y="794.00" width="3.90" height="3.90" fill="#0000ff"/>
<line x1="633.46" y1="789.20" x2="633.46" y2="791.20" stroke="#666" stroke-width="0.5"/>
<rect x="631.41" y="794.00" width="3.90" height="3.90" fill="#ff0000"/>
<line x1="639.46" y1="789.20" x2="639.46" y2="791.20" stroke="#666" stroke-width="0.5"/>
<rect x="637.81" y="794.00" width="3.90" height="3.90" fill="#0000ff"/>
<line x1="645.47" y1="789.20" x2="645.47" y2="791.20" stroke="#666" stroke-width="0.5"/>
<rect x="643.42" y="794.00" width="3.90" height="3.90" fill="#ff0000"/>
<line x1="651.48" y1="789.20" x2="651.48" y2="791.20" stroke="#666" stroke-width="0.5"/>
<rect x="649.83" y="794.00" width="3.90" height="3.90" fill="#0000ff"/>
<line x1="657.49" y1="789.20" x2="657.49" y2="791.20" stroke="#666" stroke-width="0.5"/>
<rect x="655.44" y="794.00" width="3.90" height="3.90" fill="#ff0000"/>
<line x1="663.49" y1="789.20" x2="663.49" y2="791.20" stroke="#666" stroke-width="0.5"/>
<rect x="661.84" y="794.00" width="3.90" height="3.90" fill="#0000ff"/>
<line x1="669.50" y1="789.20" x2="669.50" y2="791.20" stroke="#666" stroke-width="0.5"/>
<rect x="667.45" y="794.00" width="3.90" height="3.90" fill="#ff0000"/>
<line x1="675.51" y1="789.20" x2="675.51" y2="791.20" stroke="#666" stroke-width="0.5"/>
<rect x="673.86" y="794.00" width="3.90" height="3.90" fill="#0000ff"/>
<line x1="681.52" y1="789.20" x2="681.52" y2="791.20" stroke="#666" stroke-width="0.5"/>
<rect x="679.47" y="794.00" width="3.90" height="3.90" fill="#ff0000"/>
<line x1="107.80" y1="789.20" x2="107.80" y2="852.70" stroke="#777" stroke-width="0.8"/>
<line x1="119.81" y1="789.20" x2="119.81" y2="836.10" stroke="#777" stroke-width="0.8"/>
<line x1="131.83" y1="789.20" x2="131.83" y2="836.10" stroke="#777" stroke-width="0.8"/>
<line x1="143.84" y1="789.20" x2="143.84" y2="836.10" stroke="#777" stroke-width="0.8"/>
<line x1="155.86" y1="789.20" x2="155.86" y2="836.10" stroke="#777" stroke-width="0.8"/>
<line x1="167.88" y1="789.20" x2="167.88" y2="836.10" stroke="#777" stroke-width="0.8"/>
<line x1="179.89" y1="789.20" x2="179.89" y2="836.10" stroke="#777" stroke-width="0.8"/>
<line x1="191.91" y1="789.20" x2="191.91" y2="836.10" stroke="#777" stroke-width="0.8"/>
<line x1="203.92" y1="789.20" x2="203.92" y2="852.70" stroke="#777" stroke-width="0.8"/>
<line x1="215.94" y1="789.20" x2="215.94" y2="836.10" stroke="#777" stroke-width="0.8"/>
<line x1="227.95" y1="789.20" x2="227.95" y2="836.10" stroke="#777" stroke-width="0.8"/>
<line x1="239.97" y1="789.20" x2="239.97" y2="836.10" stroke="#777" stroke-width="0.8"/>
<line x1="251.98" y1="789.20" x2="251.98" y2="836.10" stroke="#777" stroke-width="0.8"/>
<line x1="264.00" y1="789.20" x2="264.00" y2="836.10" stroke="#777" stroke-width="0.8"/>
<line x1="276.01" y1="789.20" x2="276.01" y2="836.10" stroke="#777" stroke-width="0.8"/>
<line x1="288.03" y1="789.20" x2="288.03" y2="836.10" stroke="#777" stroke-width="0.8"/>
<line x1="300.04" y1="789.20" x2="300.04" y2="852.70" stroke="#777" stroke-width="0.8"/>
<line x1="312.06" y1="789.20" x2="312.06" y2="836.10" stroke="#777" stroke-width="0.8"/>
<line x1="324.07" y1="789.20" x2="324.07" y2="836.10" stroke="#777" stroke-width="0.8"/>
<line x1="336.09" y1="789.20" x2="336.09" y2="836.10" stroke="#777" stroke-width="0.8"/>
<line x1="348.10" y1="789.20" x2="348.10" y2="836.10" stroke="#777" stroke-width="0.8"/>
<line x1="360.12" y1="789.20" x2="360.12" y2="836.10" stroke="#777" stroke-width="0.8"/>
<line x1="372.13" y1="789.20" x2="372.13" y2="836.10" stroke="#777" stroke-width="0.8"/>
<line x1="384.15" y1="789.20" x2="384.15" y2="836.10" stroke="#777" stroke-width="0.8"/>
<line x1="396.16" y1="789.20" x2="396.16" y2="852.70" stroke="#777" stroke-width="0.8"/>
<line x1="408.18" y1="789.20" x2="408.18" y2="836.10" stroke="#777" stroke-width="0.8"/>
<line x1="420.19" y1="789.20" x2="420.19" y2="836.10" stroke="#777" stroke-width="0.8"/>
<line x1="432.21" y1="789.20" x2="432.21" y2="836.10" stroke="#777" stroke-width="0.8"/>
<line x1="444.22" y1="789.20" x2="444.22" y2="836.10" stroke="#777" stroke-width="0.8"/>
<line x1="456.24" y1="789.20" x2="456.24" y2="836.10" stroke="#777" stroke-width="0.8"/>
<line x1="468.25" y1="789.20" x2="468.25" y2="836.10" stroke="#777" stroke-width="0.8"/>
<line x1="480.27" y1="789.20" x2="480.27" y2="836.10" stroke="#777" stroke-width="0.8"/>
<line x1="492.28" y1="789.20" x2="492.28" y2="852.70" stroke="#777" stroke-width="0.8"/>
<line x1="504.30" y1="789.20" x2="504.30" y2="836.10" stroke="#777" stroke-width="0.8"/>
<line x1="516.31" y1="789.20" x2="516.31" y2="836.10" stroke="#777" stroke-width="0.8"/>
<line x1="528.33" y1="789.20" x2="528.33" y2="836.10" stroke="#777" stroke-width="0.8"/>
<line x1="540.34" y1="789.20" x2="540.34" y2="836.10" stroke="#777" stroke-width="0.8"/>
<line x1="552.36" y1="789.20" x2="552.36" y2="836.10" stroke="#777" stroke-width="0.8"/>
<line x1="564.37" y1="789.20" x2="564.37" y2="836.10" stroke="#777" stroke-width="0.8"/>
<line x1="576.38" y1="789.20" x2="576.38" y2="836.10" stroke="#777" stroke-width="0.8"/>
<line x1="588.40" y1="789.20" x2="588.40" y2="852.70" stroke="#777" stroke-width="0.8"/>
<line x1="600.41" y1="789.20" x2="600.41" y2="836.10" stroke="#777" stroke-width="0.8"/>
<line x1="612.43" y1="789.20" x2="612.43" y2="836.10" stroke="#777" stroke-width="0.8"/>
<line x1="624.44" y1="789.20" x2="624.44" y2="836.10" stroke="#777" stroke-width="0.8"/>
<line x1="636.46" y1="789.20" x2="636.46" y2="836.10" stroke="#777" stroke-width="0.8"/>
<line x1="648.48" y1="789.20" x2="648.48" y2="836.10" stroke="#777" stroke-width="0.8"/>
<line x1="660.49" y1="789.20" x2="660.49" y2="836.10" stroke="#777" stroke-width="0.8"/>
<line x1="672.50" y1="789.20" x2="672.50" y2="836.10" stroke="#777" stroke-width="0.8"/>
<line x1="684.52" y1="789.20" x2="684.52" y2="852.70" stroke="#777" stroke-width="0.8"/>
<line x1="107.80" y1="836.10" x2="684.52" y2="836.10" stroke="#777" stroke-width="0.8"/>
<text transform="translate(116.41,800.60) rotate(-89.95)" font-size="7.6" text-anchor="end" fill="#231f20">iCAFs</text>
<text transform="translate(128.42,800.60) rotate(-89.95)" font-size="7.6" text-anchor="end" fill="#231f20">myCAFs</text>
<text transform="translate(140.44,800.60) rotate(-89.95)" font-size="7.6" text-anchor="end" fill="#231f20">Luminal A</text>
<text transform="translate(152.45,800.60) rotate(-89.95)" font-size="7.6" text-anchor="end" fill="#231f20">ACKR1</text>
<text transform="translate(164.47,800.60) rotate(-89.95)" font-size="7.6" text-anchor="end" fill="#231f20">MΦ</text>
<text transform="translate(176.48,800.60) rotate(-89.95)" font-size="7.6" text-anchor="end" fill="#231f20">PVL diff.</text>
<text transform="translate(188.50,800.60) rotate(-89.95)" font-size="7.6" text-anchor="end" fill="#231f20">CD4<tspan dy="-2.6" font-size="4.8">+</tspan></text>
<text transform="translate(200.51,800.60) rotate(-89.95)" font-size="7.6" text-anchor="end" fill="#231f20">CD8<tspan dy="-2.6" font-size="4.8">+</tspan></text>
<text transform="translate(212.53,800.60) rotate(-89.95)" font-size="7.6" text-anchor="end" fill="#231f20">iCAFs</text>
<text transform="translate(224.54,800.60) rotate(-89.95)" font-size="7.6" text-anchor="end" fill="#231f20">myCAFs</text>
<text transform="translate(236.56,800.60) rotate(-89.95)" font-size="7.6" text-anchor="end" fill="#231f20">Luminal A</text>
<text transform="translate(248.57,800.60) rotate(-89.95)" font-size="7.6" text-anchor="end" fill="#231f20">ACKR1</text>
<text transform="translate(260.59,800.60) rotate(-89.95)" font-size="7.6" text-anchor="end" fill="#231f20">MΦ</text>
<text transform="translate(272.60,800.60) rotate(-89.95)" font-size="7.6" text-anchor="end" fill="#231f20">PVL diff.</text>
<text transform="translate(284.62,800.60) rotate(-89.95)" font-size="7.6" text-anchor="end" fill="#231f20">CD4<tspan dy="-2.6" font-size="4.8">+</tspan></text>
<text transform="translate(296.63,800.60) rotate(-89.95)" font-size="7.6" text-anchor="end" fill="#231f20">CD8<tspan dy="-2.6" font-size="4.8">+</tspan></text>
<text transform="translate(308.65,800.60) rotate(-89.95)" font-size="7.6" text-anchor="end" fill="#231f20">iCAFs</text>
<text transform="translate(320.66,800.60) rotate(-89.95)" font-size="7.6" text-anchor="end" fill="#231f20">myCAFs</text>
<text transform="translate(332.68,800.60) rotate(-89.95)" font-size="7.6" text-anchor="end" fill="#231f20">Luminal A</text>
<text transform="translate(344.69,800.60) rotate(-89.95)" font-size="7.6" text-anchor="end" fill="#231f20">ACKR1</text>
<text transform="translate(356.71,800.60) rotate(-89.95)" font-size="7.6" text-anchor="end" fill="#231f20">MΦ</text>
<text transform="translate(368.72,800.60) rotate(-89.95)" font-size="7.6" text-anchor="end" fill="#231f20">PVL diff.</text>
<text transform="translate(380.74,800.60) rotate(-89.95)" font-size="7.6" text-anchor="end" fill="#231f20">CD4<tspan dy="-2.6" font-size="4.8">+</tspan></text>
<text transform="translate(392.75,800.60) rotate(-89.95)" font-size="7.6" text-anchor="end" fill="#231f20">CD8<tspan dy="-2.6" font-size="4.8">+</tspan></text>
<text transform="translate(404.77,800.60) rotate(-89.95)" font-size="7.6" text-anchor="end" fill="#231f20">iCAFs</text>
<text transform="translate(416.78,800.60) rotate(-89.95)" font-size="7.6" text-anchor="end" fill="#231f20">myCAFs</text>
<text transform="translate(428.80,800.60) rotate(-89.95)" font-size="7.6" text-anchor="end" fill="#231f20">Luminal A</text>
<text transform="translate(440.81,800.60) rotate(-89.95)" font-size="7.6" text-anchor="end" fill="#231f20">ACKR1</text>
<text transform="translate(452.83,800.60) rotate(-89.95)" font-size="7.6" text-anchor="end" fill="#231f20">MΦ</text>
<text transform="translate(464.84,800.60) rotate(-89.95)" font-size="7.6" text-anchor="end" fill="#231f20">PVL diff.</text>
<text transform="translate(476.86,800.60) rotate(-89.95)" font-size="7.6" text-anchor="end" fill="#231f20">CD4<tspan dy="-2.6" font-size="4.8">+</tspan></text>
<text transform="translate(488.87,800.60) rotate(-89.95)" font-size="7.6" text-anchor="end" fill="#231f20">CD8<tspan dy="-2.6" font-size="4.8">+</tspan></text>
<text transform="translate(500.89,800.60) rotate(-89.95)" font-size="7.6" text-anchor="end" fill="#231f20">iCAFs</text>
<text transform="translate(512.90,800.60) rotate(-89.95)" font-size="7.6" text-anchor="end" fill="#231f20">myCAFs</text>
<text transform="translate(524.92,800.60) rotate(-89.95)" font-size="7.6" text-anchor="end" fill="#231f20">Luminal A</text>
<text transform="translate(536.93,800.60) rotate(-89.95)" font-size="7.6" text-anchor="end" fill="#231f20">ACKR1</text>
<text transform="translate(548.95,800.60) rotate(-89.95)" font-size="7.6" text-anchor="end" fill="#231f20">MΦ</text>
<text transform="translate(560.96,800.60) rotate(-89.95)" font-size="7.6" text-anchor="end" fill="#231f20">PVL diff.</text>
<text transform="translate(572.98,800.60) rotate(-89.95)" font-size="7.6" text-anchor="end" fill="#231f20">CD4<tspan dy="-2.6" font-size="4.8">+</tspan></text>
<text transform="translate(584.99,800.60) rotate(-89.95)" font-size="7.6" text-anchor="end" fill="#231f20">CD8<tspan dy="-2.6" font-size="4.8">+</tspan></text>
<text transform="translate(597.01,800.60) rotate(-89.95)" font-size="7.6" text-anchor="end" fill="#231f20">iCAFs</text>
<text transform="translate(609.02,800.60) rotate(-89.95)" font-size="7.6" text-anchor="end" fill="#231f20">myCAFs</text>
<text transform="translate(621.04,800.60) rotate(-89.95)" font-size="7.6" text-anchor="end" fill="#231f20">Luminal A</text>
<text transform="translate(633.05,800.60) rotate(-89.95)" font-size="7.6" text-anchor="end" fill="#231f20">ACKR1</text>
<text transform="translate(645.07,800.60) rotate(-89.95)" font-size="7.6" text-anchor="end" fill="#231f20">MΦ</text>
<text transform="translate(657.08,800.60) rotate(-89.95)" font-size="7.6" text-anchor="end" fill="#231f20">PVL diff.</text>
<text transform="translate(669.10,800.60) rotate(-89.95)" font-size="7.6" text-anchor="end" fill="#231f20">CD4<tspan dy="-2.6" font-size="4.8">+</tspan></text>
<text transform="translate(681.11,800.60) rotate(-89.95)" font-size="7.6" text-anchor="end" fill="#231f20">CD8<tspan dy="-2.6" font-size="4.8">+</tspan></text>
<text transform="translate(143.80,848.80) rotate(0.05)" font-size="8.9" text-anchor="start" fill="#231f20" textLength="23.90" lengthAdjust="spacingAndGlyphs">iCAFs</text>
<text transform="translate(235.00,848.80) rotate(0.05)" font-size="8.9" text-anchor="start" fill="#231f20" textLength="33.90" lengthAdjust="spacingAndGlyphs">myCAFs</text>
<text transform="translate(313.70,848.80) rotate(0.05)" font-size="8.9" text-anchor="start" fill="#231f20" textLength="70.40" lengthAdjust="spacingAndGlyphs">Cancer luminal A</text>
<text transform="translate(407.40,848.80) rotate(0.05)" font-size="8.9" text-anchor="start" fill="#231f20" textLength="75.10" lengthAdjust="spacingAndGlyphs">Endothelial ACKR1</text>
<text transform="translate(504.80,848.80) rotate(0.05)" font-size="8.9" text-anchor="start" fill="#231f20" textLength="75.70" lengthAdjust="spacingAndGlyphs">Macrophage (MΦ)</text>
<text transform="translate(600.50,848.80) rotate(0.05)" font-size="8.9" text-anchor="start" fill="#231f20" textLength="74.00" lengthAdjust="spacingAndGlyphs">PVL differentiated</text>
<text transform="translate(103.40,448.45) rotate(0.05)" font-size="6.5" text-anchor="end" fill="#111" font-style="italic" textLength="37.80" lengthAdjust="spacingAndGlyphs">THBS4–SDC4</text>
<text transform="translate(103.40,453.85) rotate(0.05)" font-size="6.5" text-anchor="end" fill="#111" font-style="italic" textLength="36.70" lengthAdjust="spacingAndGlyphs">THBS4–SDC1</text>
<text transform="translate(103.40,459.24) rotate(0.05)" font-size="6.5" text-anchor="end" fill="#111" font-style="italic" textLength="37.20" lengthAdjust="spacingAndGlyphs">THBS4–CD47</text>
<text transform="translate(103.40,464.64) rotate(0.05)" font-size="6.5" text-anchor="end" fill="#111" font-style="italic" textLength="37.40" lengthAdjust="spacingAndGlyphs">THBS4–CD36</text>
<text transform="translate(103.40,470.04) rotate(0.05)" font-size="6.5" text-anchor="end" fill="#111" font-style="italic" textLength="37.20" lengthAdjust="spacingAndGlyphs">THBS2–SDC4</text>
<text transform="translate(103.40,475.43) rotate(0.05)" font-size="6.5" text-anchor="end" fill="#111" font-style="italic" textLength="36.00" lengthAdjust="spacingAndGlyphs">THBS2–SDC1</text>
<text transform="translate(103.40,480.83) rotate(0.05)" font-size="6.5" text-anchor="end" fill="#111" font-style="italic" textLength="36.90" lengthAdjust="spacingAndGlyphs">THBS2–CD47</text>
<text transform="translate(103.40,486.23) rotate(0.05)" font-size="6.5" text-anchor="end" fill="#111" font-style="italic" textLength="37.20" lengthAdjust="spacingAndGlyphs">THBS2–CD36</text>
<text transform="translate(103.40,491.62) rotate(0.05)" font-size="6.5" text-anchor="end" fill="#111" font-style="italic" textLength="47.90" lengthAdjust="spacingAndGlyphs">THBS2–ITGA3+B1</text>
<text transform="translate(103.40,497.02) rotate(0.05)" font-size="6.5" text-anchor="end" fill="#111" font-style="italic" textLength="36.70" lengthAdjust="spacingAndGlyphs">THBS1–SDC4</text>
<text transform="translate(103.40,502.42) rotate(0.05)" font-size="6.5" text-anchor="end" fill="#111" font-style="italic" textLength="35.40" lengthAdjust="spacingAndGlyphs">THBS1–SDC1</text>
<text transform="translate(103.40,507.82) rotate(0.05)" font-size="6.5" text-anchor="end" fill="#111" font-style="italic" textLength="36.30" lengthAdjust="spacingAndGlyphs">THBS1–CD47</text>
<text transform="translate(103.40,513.21) rotate(0.05)" font-size="6.5" text-anchor="end" fill="#111" font-style="italic" textLength="36.00" lengthAdjust="spacingAndGlyphs">THBS1–CD36</text>
<text transform="translate(103.40,518.61) rotate(0.05)" font-size="6.5" text-anchor="end" fill="#111" font-style="italic" textLength="47.00" lengthAdjust="spacingAndGlyphs">THBS1–ITGA3+B1</text>
<text transform="translate(103.40,524.01) rotate(0.05)" font-size="6.5" text-anchor="end" fill="#111" font-style="italic" textLength="32.30" lengthAdjust="spacingAndGlyphs">MIF–ACKR3</text>
<text transform="translate(103.40,529.40) rotate(0.05)" font-size="6.5" text-anchor="end" fill="#111" font-style="italic" textLength="51.90" lengthAdjust="spacingAndGlyphs">MIF–CD74+CXCR4</text>
<text transform="translate(103.40,534.80) rotate(0.05)" font-size="6.5" text-anchor="end" fill="#111" font-style="italic" textLength="47.90" lengthAdjust="spacingAndGlyphs">MIF–CD74+CD44</text>
<text transform="translate(103.40,540.20) rotate(0.05)" font-size="6.5" text-anchor="end" fill="#111" font-style="italic" textLength="38.10" lengthAdjust="spacingAndGlyphs">LAMC1–CD44</text>
<text transform="translate(103.40,545.59) rotate(0.05)" font-size="6.5" text-anchor="end" fill="#111" font-style="italic" textLength="48.10" lengthAdjust="spacingAndGlyphs">LAMC1–ITGA7+B1</text>
<text transform="translate(103.40,550.99) rotate(0.05)" font-size="6.5" text-anchor="end" fill="#111" font-style="italic" textLength="50.10" lengthAdjust="spacingAndGlyphs">LAMC1–ITGA6+B4</text>
<text transform="translate(103.40,556.39) rotate(0.05)" font-size="6.5" text-anchor="end" fill="#111" font-style="italic" textLength="48.70" lengthAdjust="spacingAndGlyphs">LAMC1–ITGA6+B1</text>
<text transform="translate(103.40,561.79) rotate(0.05)" font-size="6.5" text-anchor="end" fill="#111" font-style="italic" textLength="48.70" lengthAdjust="spacingAndGlyphs">LAMC1–ITGA3+B1</text>
<text transform="translate(103.40,567.18) rotate(0.05)" font-size="6.5" text-anchor="end" fill="#111" font-style="italic" textLength="47.40" lengthAdjust="spacingAndGlyphs">LAMC1–ITGA1+B1</text>
<text transform="translate(103.40,572.58) rotate(0.05)" font-size="6.5" text-anchor="end" fill="#111" font-style="italic" textLength="38.30" lengthAdjust="spacingAndGlyphs">LAMB2–CD44</text>
<text transform="translate(103.40,577.98) rotate(0.05)" font-size="6.5" text-anchor="end" fill="#111" font-style="italic" textLength="48.30" lengthAdjust="spacingAndGlyphs">LAMB2–ITGA7+B1</text>
<text transform="translate(103.40,583.37) rotate(0.05)" font-size="6.5" text-anchor="end" fill="#111" font-style="italic" textLength="50.10" lengthAdjust="spacingAndGlyphs">LAMB2–ITGA6+B4</text>
<text transform="translate(103.40,588.77) rotate(0.05)" font-size="6.5" text-anchor="end" fill="#111" font-style="italic" textLength="49.20" lengthAdjust="spacingAndGlyphs">LAMB2–ITGA6+B1</text>
<text transform="translate(103.40,594.17) rotate(0.05)" font-size="6.5" text-anchor="end" fill="#111" font-style="italic" textLength="49.00" lengthAdjust="spacingAndGlyphs">LAMB2–ITGA3+B1</text>
<text transform="translate(103.40,599.56) rotate(0.05)" font-size="6.5" text-anchor="end" fill="#111" font-style="italic" textLength="47.90" lengthAdjust="spacingAndGlyphs">LAMB2–ITGA1+B1</text>
<text transform="translate(103.40,604.96) rotate(0.05)" font-size="6.5" text-anchor="end" fill="#111" font-style="italic" textLength="37.40" lengthAdjust="spacingAndGlyphs">LAMB1–CD44</text>
<text transform="translate(103.40,610.36) rotate(0.05)" font-size="6.5" text-anchor="end" fill="#111" font-style="italic" textLength="47.40" lengthAdjust="spacingAndGlyphs">LAMB1–ITGA7+B1</text>
<text transform="translate(103.40,615.76) rotate(0.05)" font-size="6.5" text-anchor="end" fill="#111" font-style="italic" textLength="49.60" lengthAdjust="spacingAndGlyphs">LAMB1–ITGA6+B4</text>
<text transform="translate(103.40,621.15) rotate(0.05)" font-size="6.5" text-anchor="end" fill="#111" font-style="italic" textLength="48.50" lengthAdjust="spacingAndGlyphs">LAMB1–ITGA6+B1</text>
<text transform="translate(103.40,626.55) rotate(0.05)" font-size="6.5" text-anchor="end" fill="#111" font-style="italic" textLength="48.30" lengthAdjust="spacingAndGlyphs">LAMB1–ITGA3+B1</text>
<text transform="translate(103.40,631.95) rotate(0.05)" font-size="6.5" text-anchor="end" fill="#111" font-style="italic" textLength="47.00" lengthAdjust="spacingAndGlyphs">LAMB1–ITGA1+B1</text>
<text transform="translate(103.40,637.34) rotate(0.05)" font-size="6.5" text-anchor="end" fill="#111" font-style="italic" textLength="38.30" lengthAdjust="spacingAndGlyphs">LAMA5–CD44</text>
<text transform="translate(103.40,642.74) rotate(0.05)" font-size="6.5" text-anchor="end" fill="#111" font-style="italic" textLength="48.70" lengthAdjust="spacingAndGlyphs">LAMA5–ITGA7+B1</text>
<text transform="translate(103.40,648.14) rotate(0.05)" font-size="6.5" text-anchor="end" fill="#111" font-style="italic" textLength="50.50" lengthAdjust="spacingAndGlyphs">LAMA5–ITGA6+B4</text>
<text transform="translate(103.40,653.53) rotate(0.05)" font-size="6.5" text-anchor="end" fill="#111" font-style="italic" textLength="49.20" lengthAdjust="spacingAndGlyphs">LAMA5–ITGA6+B1</text>
<text transform="translate(103.40,658.93) rotate(0.05)" font-size="6.5" text-anchor="end" fill="#111" font-style="italic" textLength="49.20" lengthAdjust="spacingAndGlyphs">LAMA5–ITGA3+B1</text>
<text transform="translate(103.40,664.33) rotate(0.05)" font-size="6.5" text-anchor="end" fill="#111" font-style="italic" textLength="48.10" lengthAdjust="spacingAndGlyphs">LAMA5–ITGA1+B1</text>
<text transform="translate(103.40,669.73) rotate(0.05)" font-size="6.5" text-anchor="end" fill="#111" font-style="italic" textLength="39.20" lengthAdjust="spacingAndGlyphs">LAMA4–CD44</text>
<text transform="translate(103.40,675.12) rotate(0.05)" font-size="6.5" text-anchor="end" fill="#111" font-style="italic" textLength="49.20" lengthAdjust="spacingAndGlyphs">LAMA4–ITGA7+B1</text>
<text transform="translate(103.40,680.52) rotate(0.05)" font-size="6.5" text-anchor="end" fill="#111" font-style="italic" textLength="51.20" lengthAdjust="spacingAndGlyphs">LAMA4–ITGA6+B4</text>
<text transform="translate(103.40,685.92) rotate(0.05)" font-size="6.5" text-anchor="end" fill="#111" font-style="italic" textLength="49.40" lengthAdjust="spacingAndGlyphs">LAMA4–ITGA6+B1</text>
<text transform="translate(103.40,691.31) rotate(0.05)" font-size="6.5" text-anchor="end" fill="#111" font-style="italic" textLength="49.40" lengthAdjust="spacingAndGlyphs">LAMA4–ITGA3+B1</text>
<text transform="translate(103.40,696.71) rotate(0.05)" font-size="6.5" text-anchor="end" fill="#111" font-style="italic" textLength="48.30" lengthAdjust="spacingAndGlyphs">LAMA4–ITGA1+B1</text>
<text transform="translate(103.40,702.11) rotate(0.05)" font-size="6.5" text-anchor="end" fill="#111" font-style="italic" textLength="38.30" lengthAdjust="spacingAndGlyphs">LAMA2–CD44</text>
<text transform="translate(103.40,707.50) rotate(0.05)" font-size="6.5" text-anchor="end" fill="#111" font-style="italic" textLength="48.30" lengthAdjust="spacingAndGlyphs">LAMA2–ITGA7+B1</text>
<text transform="translate(103.40,712.90) rotate(0.05)" font-size="6.5" text-anchor="end" fill="#111" font-style="italic" textLength="50.30" lengthAdjust="spacingAndGlyphs">LAMA2–ITGA6+B4</text>
<text transform="translate(103.40,718.30) rotate(0.05)" font-size="6.5" text-anchor="end" fill="#111" font-style="italic" textLength="49.20" lengthAdjust="spacingAndGlyphs">LAMA2–ITGA6+B1</text>
<text transform="translate(103.40,723.70) rotate(0.05)" font-size="6.5" text-anchor="end" fill="#111" font-style="italic" textLength="49.20" lengthAdjust="spacingAndGlyphs">LAMA2–ITGA3+B1</text>
<text transform="translate(103.40,729.09) rotate(0.05)" font-size="6.5" text-anchor="end" fill="#111" font-style="italic" textLength="47.90" lengthAdjust="spacingAndGlyphs">LAMA2–ITGA1+B1</text>
<text transform="translate(103.40,734.49) rotate(0.05)" font-size="6.5" text-anchor="end" fill="#111" font-style="italic" textLength="29.20" lengthAdjust="spacingAndGlyphs">FN1–SDC4</text>
<text transform="translate(103.40,739.89) rotate(0.05)" font-size="6.5" text-anchor="end" fill="#111" font-style="italic" textLength="27.40" lengthAdjust="spacingAndGlyphs">FN1–SDC1</text>
<text transform="translate(103.40,745.28) rotate(0.05)" font-size="6.5" text-anchor="end" fill="#111" font-style="italic" textLength="29.20" lengthAdjust="spacingAndGlyphs">FN1–CD44</text>
<text transform="translate(103.40,750.68) rotate(0.05)" font-size="6.5" text-anchor="end" fill="#111" font-style="italic" textLength="39.80" lengthAdjust="spacingAndGlyphs">FN1–ITGAV+B1</text>
<text transform="translate(103.40,756.08) rotate(0.05)" font-size="6.5" text-anchor="end" fill="#111" font-style="italic" textLength="39.40" lengthAdjust="spacingAndGlyphs">FN1–ITGA5+B1</text>
<text transform="translate(103.40,761.47) rotate(0.05)" font-size="6.5" text-anchor="end" fill="#111" font-style="italic" textLength="39.80" lengthAdjust="spacingAndGlyphs">FN1–ITGA3+B1</text>
<text transform="translate(103.40,766.87) rotate(0.05)" font-size="6.5" text-anchor="end" fill="#111" font-style="italic" textLength="36.70" lengthAdjust="spacingAndGlyphs">COMP–SDC4</text>
<text transform="translate(103.40,772.27) rotate(0.05)" font-size="6.5" text-anchor="end" fill="#111" font-style="italic" textLength="35.80" lengthAdjust="spacingAndGlyphs">COMP–SDC1</text>
<text transform="translate(103.40,777.67) rotate(0.05)" font-size="6.5" text-anchor="end" fill="#111" font-style="italic" textLength="36.30" lengthAdjust="spacingAndGlyphs">COMP–CD47</text>
<text transform="translate(103.40,783.06) rotate(0.05)" font-size="6.5" text-anchor="end" fill="#111" font-style="italic" textLength="36.30" lengthAdjust="spacingAndGlyphs">COMP–CD36</text>
<text transform="translate(103.40,788.46) rotate(0.05)" font-size="6.5" text-anchor="end" fill="#111" font-style="italic" textLength="47.00" lengthAdjust="spacingAndGlyphs">COMP–ITGA3+B1</text>
<path d="M48.60,443.60 H45.20 V519.00 H48.60" fill="none" stroke="#666" stroke-width="0.7"/>
<text transform="translate(41.00,481.00) rotate(0.05)" font-size="8.6" text-anchor="end" fill="#231f20" font-style="italic" textLength="21.40" lengthAdjust="spacingAndGlyphs">THBS</text>
<path d="M48.60,519.60 H45.20 V535.00 H48.60" fill="none" stroke="#666" stroke-width="0.7"/>
<text transform="translate(41.00,529.30) rotate(0.05)" font-size="8.6" text-anchor="end" fill="#231f20" font-style="italic" textLength="14.60" lengthAdjust="spacingAndGlyphs">MIF</text>
<path d="M48.60,536.80 H45.20 V732.30 H48.60" fill="none" stroke="#666" stroke-width="0.7"/>
<text transform="translate(41.00,639.30) rotate(0.05)" font-size="8.6" text-anchor="end" fill="#231f20" font-style="italic" textLength="35.40" lengthAdjust="spacingAndGlyphs">LAMININ</text>
<path d="M48.60,733.40 H45.20 V763.40 H48.60" fill="none" stroke="#666" stroke-width="0.7"/>
<text transform="translate(41.30,751.20) rotate(0.05)" font-size="8.6" text-anchor="end" fill="#231f20" font-style="italic" textLength="14.50" lengthAdjust="spacingAndGlyphs">FN1</text>
<path d="M48.60,765.40 H45.20 V792.60 H48.60" fill="none" stroke="#666" stroke-width="0.7"/>
<text transform="translate(41.30,781.30) rotate(0.05)" font-size="8.6" text-anchor="end" fill="#231f20" font-style="italic" textLength="21.50" lengthAdjust="spacingAndGlyphs">THBS</text>
<circle cx="230.95" cy="446.20" r="2.3" fill="#66c2a5"/>
<rect x="228.05" y="442.50" width="5.81" height="6.30" fill="none" stroke="#0000ff" stroke-width="0.8"/>
<circle cx="218.94" cy="451.60" r="2.3" fill="#4ba5b3"/>
<rect x="216.03" y="449.00" width="5.81" height="5.20" fill="none" stroke="#0000ff" stroke-width="0.8"/>
<circle cx="206.92" cy="456.99" r="2.3" fill="#4ba5b3"/>
<rect x="204.02" y="454.39" width="5.81" height="5.20" fill="none" stroke="#0000ff" stroke-width="0.8"/>
<circle cx="218.94" cy="456.99" r="2.3" fill="#4ba5b3"/>
<rect x="216.03" y="454.39" width="5.81" height="5.20" fill="none" stroke="#0000ff" stroke-width="0.8"/>
<circle cx="230.95" cy="456.99" r="2.3" fill="#4ba5b3"/>
<rect x="228.05" y="454.39" width="5.81" height="5.20" fill="none" stroke="#0000ff" stroke-width="0.8"/>
<circle cx="242.97" cy="456.99" r="2.3" fill="#4ba5b3"/>
<rect x="240.06" y="454.39" width="5.81" height="5.20" fill="none" stroke="#0000ff" stroke-width="0.8"/>
<circle cx="254.98" cy="456.99" r="2.3" fill="#4ba5b3"/>
<rect x="252.08" y="454.39" width="5.81" height="5.20" fill="none" stroke="#0000ff" stroke-width="0.8"/>
<circle cx="242.97" cy="462.39" r="2.3" fill="#66c2a5"/>
<rect x="240.06" y="459.79" width="5.81" height="5.20" fill="none" stroke="#0000ff" stroke-width="0.8"/>
<circle cx="134.83" cy="467.79" r="2.3" fill="#66c2a5"/>
<circle cx="140.84" cy="467.79" r="2.3" fill="#66c2a5"/>
<circle cx="230.95" cy="467.79" r="2.3" fill="#66c2a5"/>
<circle cx="236.96" cy="467.79" r="2.3" fill="#e2f29a"/>
<circle cx="122.82" cy="473.18" r="2.3" fill="#3288bd"/>
<circle cx="128.83" cy="473.18" r="2.3" fill="#3288bd"/>
<circle cx="140.84" cy="473.18" r="2.3" fill="#4ba5b3"/>
<rect x="137.94" y="470.59" width="5.81" height="5.20" fill="none" stroke="#ff0000" stroke-width="0.8"/>
<circle cx="218.94" cy="473.18" r="2.3" fill="#4ba5b3"/>
<circle cx="224.95" cy="473.18" r="2.3" fill="#66c2a5"/>
<circle cx="236.96" cy="473.18" r="2.3" fill="#66c2a5"/>
<rect x="234.06" y="470.59" width="5.81" height="5.20" fill="none" stroke="#ff0000" stroke-width="0.8"/>
<circle cx="110.80" cy="478.58" r="2.3" fill="#4ba5b3"/>
<rect x="107.90" y="475.98" width="5.81" height="5.20" fill="none" stroke="#0000ff" stroke-width="0.8"/>
<circle cx="116.81" cy="478.58" r="2.3" fill="#4862ab"/>
<circle cx="122.82" cy="478.58" r="2.3" fill="#3288bd"/>
<circle cx="128.83" cy="478.58" r="2.3" fill="#4862ab"/>
<circle cx="134.83" cy="478.58" r="2.3" fill="#4ba5b3"/>
<circle cx="140.84" cy="478.58" r="2.3" fill="#4ba5b3"/>
<circle cx="146.85" cy="478.58" r="2.3" fill="#4ba5b3"/>
<rect x="143.94" y="475.98" width="5.81" height="5.20" fill="none" stroke="#0000ff" stroke-width="0.8"/>
<circle cx="152.86" cy="478.58" r="2.3" fill="#4862ab"/>
<circle cx="158.86" cy="478.58" r="2.3" fill="#3288bd"/>
<circle cx="164.87" cy="478.58" r="2.3" fill="#3288bd"/>
<circle cx="176.89" cy="478.58" r="2.3" fill="#4862ab"/>
<rect x="173.98" y="475.98" width="5.81" height="5.20" fill="none" stroke="#ff0000" stroke-width="0.8"/>
<circle cx="188.90" cy="478.58" r="2.3" fill="#3288bd"/>
<rect x="186.00" y="475.98" width="5.81" height="5.20" fill="none" stroke="#ff0000" stroke-width="0.8"/>
<circle cx="200.92" cy="478.58" r="2.3" fill="#3288bd"/>
<rect x="198.01" y="475.98" width="5.81" height="5.20" fill="none" stroke="#ff0000" stroke-width="0.8"/>
<circle cx="206.92" cy="478.58" r="2.3" fill="#4ba5b3"/>
<circle cx="212.93" cy="478.58" r="2.3" fill="#3288bd"/>
<circle cx="218.94" cy="478.58" r="2.3" fill="#4ba5b3"/>
<circle cx="224.95" cy="478.58" r="2.3" fill="#3288bd"/>
<circle cx="230.95" cy="478.58" r="2.3" fill="#66c2a5"/>
<circle cx="236.96" cy="478.58" r="2.3" fill="#66c2a5"/>
<circle cx="242.97" cy="478.58" r="2.3" fill="#66c2a5"/>
<rect x="240.06" y="475.98" width="5.81" height="5.20" fill="none" stroke="#0000ff" stroke-width="0.8"/>
<circle cx="248.98" cy="478.58" r="2.3" fill="#3288bd"/>
<circle cx="254.98" cy="478.58" r="2.3" fill="#4ba5b3"/>
<circle cx="260.99" cy="478.58" r="2.3" fill="#4ba5b3"/>
<circle cx="273.01" cy="478.58" r="2.3" fill="#3288bd"/>
<rect x="270.10" y="475.98" width="5.81" height="5.20" fill="none" stroke="#ff0000" stroke-width="0.8"/>
<circle cx="285.02" cy="478.58" r="2.3" fill="#66c2a5"/>
<rect x="282.12" y="475.98" width="5.81" height="5.20" fill="none" stroke="#ff0000" stroke-width="0.8"/>
<circle cx="297.04" cy="478.58" r="2.3" fill="#4ba5b3"/>
<rect x="294.13" y="475.98" width="5.81" height="5.20" fill="none" stroke="#ff0000" stroke-width="0.8"/>
<circle cx="146.85" cy="483.98" r="2.3" fill="#a5daa4"/>
<rect x="143.94" y="481.38" width="5.81" height="5.20" fill="none" stroke="#0000ff" stroke-width="0.8"/>
<circle cx="242.97" cy="483.98" r="2.3" fill="#a5daa4"/>
<rect x="240.06" y="481.38" width="5.81" height="5.20" fill="none" stroke="#0000ff" stroke-width="0.8"/>
<circle cx="176.89" cy="489.37" r="2.3" fill="#3288bd"/>
<rect x="173.98" y="486.78" width="5.81" height="5.20" fill="none" stroke="#ff0000" stroke-width="0.8"/>
<circle cx="273.01" cy="489.37" r="2.3" fill="#4ba5b3"/>
<rect x="270.10" y="486.78" width="5.81" height="5.20" fill="none" stroke="#ff0000" stroke-width="0.8"/>
<circle cx="134.83" cy="494.77" r="2.3" fill="#66c2a5"/>
<circle cx="140.84" cy="494.77" r="2.3" fill="#66c2a5"/>
<circle cx="230.95" cy="494.77" r="2.3" fill="#66c2a5"/>
<circle cx="236.96" cy="494.77" r="2.3" fill="#a5daa4"/>
<circle cx="327.07" cy="494.77" r="2.3" fill="#4ba5b3"/>
<circle cx="333.08" cy="494.77" r="2.3" fill="#fdd47f"/>
<rect x="330.18" y="492.17" width="5.81" height="5.20" fill="none" stroke="#ff0000" stroke-width="0.8"/>
<circle cx="621.44" cy="494.77" r="2.3" fill="#66c2a5"/>
<rect x="618.54" y="492.17" width="5.81" height="5.20" fill="none" stroke="#ff0000" stroke-width="0.8"/>
<circle cx="122.82" cy="500.17" r="2.3" fill="#3288bd"/>
<circle cx="128.83" cy="500.17" r="2.3" fill="#3288bd"/>
<circle cx="140.84" cy="500.17" r="2.3" fill="#4ba5b3"/>
<rect x="137.94" y="497.57" width="5.81" height="5.20" fill="none" stroke="#ff0000" stroke-width="0.8"/>
<circle cx="218.94" cy="500.17" r="2.3" fill="#4ba5b3"/>
<circle cx="224.95" cy="500.17" r="2.3" fill="#4ba5b3"/>
<circle cx="236.96" cy="500.17" r="2.3" fill="#66c2a5"/>
<rect x="234.06" y="497.57" width="5.81" height="5.20" fill="none" stroke="#ff0000" stroke-width="0.8"/>
<circle cx="315.06" cy="500.17" r="2.3" fill="#4862ab"/>
<circle cx="321.07" cy="500.17" r="2.3" fill="#66c2a5"/>
<rect x="318.16" y="497.57" width="5.81" height="5.20" fill="none" stroke="#ff0000" stroke-width="0.8"/>
<circle cx="333.08" cy="500.17" r="2.3" fill="#a5daa4"/>
<rect x="330.18" y="497.57" width="5.81" height="5.20" fill="none" stroke="#ff0000" stroke-width="0.8"/>
<circle cx="417.19" cy="500.17" r="2.3" fill="#4862ab"/>
<rect x="414.28" y="497.57" width="5.81" height="5.20" fill="none" stroke="#ff0000" stroke-width="0.8"/>
<circle cx="429.20" cy="500.17" r="2.3" fill="#3288bd"/>
<rect x="426.30" y="497.57" width="5.81" height="5.20" fill="none" stroke="#ff0000" stroke-width="0.8"/>
<circle cx="609.43" cy="500.17" r="2.3" fill="#3288bd"/>
<rect x="606.52" y="497.57" width="5.81" height="5.20" fill="none" stroke="#ff0000" stroke-width="0.8"/>
<circle cx="621.44" cy="500.17" r="2.3" fill="#4ba5b3"/>
<rect x="618.54" y="497.57" width="5.81" height="5.20" fill="none" stroke="#ff0000" stroke-width="0.8"/>
<circle cx="110.80" cy="505.57" r="2.3" fill="#4ba5b3"/>
<rect x="107.90" y="502.97" width="5.81" height="5.20" fill="none" stroke="#0000ff" stroke-width="0.8"/>
<circle cx="116.81" cy="505.57" r="2.3" fill="#4862ab"/>
<circle cx="122.82" cy="505.57" r="2.3" fill="#3288bd"/>
<circle cx="128.83" cy="505.57" r="2.3" fill="#4862ab"/>
<circle cx="134.83" cy="505.57" r="2.3" fill="#4ba5b3"/>
<circle cx="140.84" cy="505.57" r="2.3" fill="#4ba5b3"/>
<circle cx="146.85" cy="505.57" r="2.3" fill="#4ba5b3"/>
<rect x="143.94" y="502.97" width="5.81" height="5.20" fill="none" stroke="#0000ff" stroke-width="0.8"/>
<circle cx="158.86" cy="505.57" r="2.3" fill="#3288bd"/>
<circle cx="164.87" cy="505.57" r="2.3" fill="#3288bd"/>
<circle cx="176.89" cy="505.57" r="2.3" fill="#4862ab"/>
<rect x="173.98" y="502.97" width="5.81" height="5.20" fill="none" stroke="#ff0000" stroke-width="0.8"/>
<circle cx="188.90" cy="505.57" r="2.3" fill="#3288bd"/>
<rect x="186.00" y="502.97" width="5.81" height="5.20" fill="none" stroke="#ff0000" stroke-width="0.8"/>
<circle cx="200.92" cy="505.57" r="2.3" fill="#3288bd"/>
<rect x="198.01" y="502.97" width="5.81" height="5.20" fill="none" stroke="#ff0000" stroke-width="0.8"/>
<circle cx="206.92" cy="505.57" r="2.3" fill="#4ba5b3"/>
<rect x="204.02" y="502.97" width="5.81" height="5.20" fill="none" stroke="#0000ff" stroke-width="0.8"/>
<circle cx="212.93" cy="505.57" r="2.3" fill="#3288bd"/>
<circle cx="218.94" cy="505.57" r="2.3" fill="#4ba5b3"/>
<circle cx="224.95" cy="505.57" r="2.3" fill="#3288bd"/>
<circle cx="230.95" cy="505.57" r="2.3" fill="#66c2a5"/>
<circle cx="236.96" cy="505.57" r="2.3" fill="#66c2a5"/>
<circle cx="242.97" cy="505.57" r="2.3" fill="#66c2a5"/>
<rect x="240.06" y="502.97" width="5.81" height="5.20" fill="none" stroke="#0000ff" stroke-width="0.8"/>
<circle cx="248.98" cy="505.57" r="2.3" fill="#3288bd"/>
<circle cx="254.98" cy="505.57" r="2.3" fill="#3288bd"/>
<circle cx="260.99" cy="505.57" r="2.3" fill="#4ba5b3"/>
<circle cx="273.01" cy="505.57" r="2.3" fill="#3288bd"/>
<rect x="270.10" y="502.97" width="5.81" height="5.20" fill="none" stroke="#ff0000" stroke-width="0.8"/>
<circle cx="285.02" cy="505.57" r="2.3" fill="#66c2a5"/>
<rect x="282.12" y="502.97" width="5.81" height="5.20" fill="none" stroke="#ff0000" stroke-width="0.8"/>
<circle cx="297.04" cy="505.57" r="2.3" fill="#4ba5b3"/>
<rect x="294.13" y="502.97" width="5.81" height="5.20" fill="none" stroke="#ff0000" stroke-width="0.8"/>
<circle cx="303.04" cy="505.57" r="2.3" fill="#3288bd"/>
<circle cx="309.05" cy="505.57" r="2.3" fill="#4ba5b3"/>
<circle cx="315.06" cy="505.57" r="2.3" fill="#3288bd"/>
<circle cx="321.07" cy="505.57" r="2.3" fill="#4ba5b3"/>
<rect x="318.16" y="502.97" width="5.81" height="5.20" fill="none" stroke="#ff0000" stroke-width="0.8"/>
<circle cx="327.07" cy="505.57" r="2.3" fill="#4ba5b3"/>
<circle cx="333.08" cy="505.57" r="2.3" fill="#a5daa4"/>
<rect x="330.18" y="502.97" width="5.81" height="5.20" fill="none" stroke="#ff0000" stroke-width="0.8"/>
<circle cx="339.09" cy="505.57" r="2.3" fill="#4ba5b3"/>
<rect x="336.19" y="502.97" width="5.81" height="5.20" fill="none" stroke="#0000ff" stroke-width="0.8"/>
<circle cx="351.10" cy="505.57" r="2.3" fill="#4862ab"/>
<circle cx="357.11" cy="505.57" r="2.3" fill="#66c2a5"/>
<rect x="354.21" y="502.97" width="5.81" height="5.20" fill="none" stroke="#ff0000" stroke-width="0.8"/>
<circle cx="369.13" cy="505.57" r="2.3" fill="#4ba5b3"/>
<rect x="366.22" y="502.97" width="5.81" height="5.20" fill="none" stroke="#ff0000" stroke-width="0.8"/>
<circle cx="381.14" cy="505.57" r="2.3" fill="#66c2a5"/>
<rect x="378.24" y="502.97" width="5.81" height="5.20" fill="none" stroke="#ff0000" stroke-width="0.8"/>
<circle cx="393.16" cy="505.57" r="2.3" fill="#66c2a5"/>
<rect x="390.25" y="502.97" width="5.81" height="5.20" fill="none" stroke="#ff0000" stroke-width="0.8"/>
<circle cx="597.41" cy="505.57" r="2.3" fill="#4862ab"/>
<rect x="594.51" y="502.97" width="5.81" height="5.20" fill="none" stroke="#ff0000" stroke-width="0.8"/>
<circle cx="621.44" cy="505.57" r="2.3" fill="#4ba5b3"/>
<rect x="618.54" y="502.97" width="5.81" height="5.20" fill="none" stroke="#ff0000" stroke-width="0.8"/>
<circle cx="645.47" cy="505.57" r="2.3" fill="#3288bd"/>
<rect x="642.57" y="502.97" width="5.81" height="5.20" fill="none" stroke="#ff0000" stroke-width="0.8"/>
<circle cx="669.50" cy="505.57" r="2.3" fill="#4ba5b3"/>
<rect x="666.60" y="502.97" width="5.81" height="5.20" fill="none" stroke="#ff0000" stroke-width="0.8"/>
<circle cx="681.52" cy="505.57" r="2.3" fill="#3288bd"/>
<rect x="678.61" y="502.97" width="5.81" height="5.20" fill="none" stroke="#ff0000" stroke-width="0.8"/>
<circle cx="146.85" cy="510.96" r="2.3" fill="#a5daa4"/>
<rect x="143.94" y="508.36" width="5.81" height="5.20" fill="none" stroke="#0000ff" stroke-width="0.8"/>
<circle cx="242.97" cy="510.96" r="2.3" fill="#a5daa4"/>
<rect x="240.06" y="508.36" width="5.81" height="5.20" fill="none" stroke="#0000ff" stroke-width="0.8"/>
<circle cx="339.09" cy="510.96" r="2.3" fill="#66c2a5"/>
<rect x="336.19" y="508.36" width="5.81" height="5.20" fill="none" stroke="#0000ff" stroke-width="0.8"/>
<circle cx="176.89" cy="516.36" r="2.3" fill="#3288bd"/>
<rect x="173.98" y="513.76" width="5.81" height="5.20" fill="none" stroke="#ff0000" stroke-width="0.8"/>
<circle cx="273.01" cy="516.36" r="2.3" fill="#3288bd"/>
<rect x="270.10" y="513.76" width="5.81" height="5.20" fill="none" stroke="#ff0000" stroke-width="0.8"/>
<circle cx="369.13" cy="516.36" r="2.3" fill="#66c2a5"/>
<rect x="366.22" y="513.76" width="5.81" height="5.20" fill="none" stroke="#ff0000" stroke-width="0.8"/>
<circle cx="465.25" cy="516.36" r="2.3" fill="#4862ab"/>
<rect x="462.34" y="513.76" width="5.81" height="5.20" fill="none" stroke="#ff0000" stroke-width="0.8"/>
<circle cx="657.49" cy="516.36" r="2.3" fill="#3288bd"/>
<rect x="654.58" y="513.76" width="5.81" height="5.20" fill="none" stroke="#ff0000" stroke-width="0.8"/>
<circle cx="176.89" cy="521.76" r="2.3" fill="#3288bd"/>
<rect x="173.98" y="519.16" width="5.81" height="5.20" fill="none" stroke="#ff0000" stroke-width="0.8"/>
<circle cx="273.01" cy="521.76" r="2.3" fill="#4ba5b3"/>
<rect x="270.10" y="519.16" width="5.81" height="5.20" fill="none" stroke="#ff0000" stroke-width="0.8"/>
<circle cx="369.13" cy="521.76" r="2.3" fill="#a5daa4"/>
<circle cx="465.25" cy="521.76" r="2.3" fill="#4ba5b3"/>
<rect x="462.34" y="519.16" width="5.81" height="5.20" fill="none" stroke="#ff0000" stroke-width="0.8"/>
<circle cx="561.37" cy="521.76" r="2.3" fill="#4ba5b3"/>
<rect x="558.46" y="519.16" width="5.81" height="5.20" fill="none" stroke="#ff0000" stroke-width="0.8"/>
<circle cx="657.49" cy="521.76" r="2.3" fill="#3288bd"/>
<rect x="654.58" y="519.16" width="5.81" height="5.20" fill="none" stroke="#ff0000" stroke-width="0.8"/>
<circle cx="158.86" cy="527.15" r="2.3" fill="#66c2a5"/>
<circle cx="164.87" cy="527.15" r="2.3" fill="#66c2a5"/>
<circle cx="182.89" cy="527.15" r="2.3" fill="#a5daa4"/>
<circle cx="188.90" cy="527.15" r="2.3" fill="#a5daa4"/>
<circle cx="194.91" cy="527.15" r="2.3" fill="#e2f29a"/>
<rect x="192.00" y="524.56" width="5.81" height="5.20" fill="none" stroke="#0000ff" stroke-width="0.8"/>
<circle cx="200.92" cy="527.15" r="2.3" fill="#a5daa4"/>
<circle cx="254.98" cy="527.15" r="2.3" fill="#66c2a5"/>
<circle cx="260.99" cy="527.15" r="2.3" fill="#a5daa4"/>
<circle cx="279.01" cy="527.15" r="2.3" fill="#e2f29a"/>
<circle cx="285.02" cy="527.15" r="2.3" fill="#e2f29a"/>
<circle cx="291.03" cy="527.15" r="2.3" fill="#a5daa4"/>
<circle cx="297.04" cy="527.15" r="2.3" fill="#e2f29a"/>
<circle cx="351.10" cy="527.15" r="2.3" fill="#a5daa4"/>
<circle cx="357.11" cy="527.15" r="2.3" fill="#fdae61"/>
<rect x="354.21" y="524.56" width="5.81" height="5.20" fill="none" stroke="#ff0000" stroke-width="0.8"/>
<circle cx="375.13" cy="527.15" r="2.3" fill="#e2f29a"/>
<circle cx="381.14" cy="527.15" r="2.3" fill="#9e0142"/>
<rect x="378.24" y="524.56" width="5.81" height="5.20" fill="none" stroke="#ff0000" stroke-width="0.8"/>
<circle cx="387.15" cy="527.15" r="2.3" fill="#a5daa4"/>
<circle cx="393.16" cy="527.15" r="2.3" fill="#e04e50"/>
<rect x="390.25" y="524.56" width="5.81" height="5.20" fill="none" stroke="#ff0000" stroke-width="0.8"/>
<circle cx="447.22" cy="527.15" r="2.3" fill="#a5daa4"/>
<circle cx="453.23" cy="527.15" r="2.3" fill="#a5daa4"/>
<circle cx="471.25" cy="527.15" r="2.3" fill="#fdd47f"/>
<circle cx="477.26" cy="527.15" r="2.3" fill="#e2f29a"/>
<circle cx="483.27" cy="527.15" r="2.3" fill="#e2f29a"/>
<circle cx="489.28" cy="527.15" r="2.3" fill="#e2f29a"/>
<circle cx="549.35" cy="527.15" r="2.3" fill="#a5daa4"/>
<rect x="546.45" y="524.56" width="5.81" height="5.20" fill="none" stroke="#ff0000" stroke-width="0.8"/>
<circle cx="573.38" cy="527.15" r="2.3" fill="#e2f29a"/>
<rect x="570.48" y="524.56" width="5.81" height="5.20" fill="none" stroke="#ff0000" stroke-width="0.8"/>
<circle cx="585.40" cy="527.15" r="2.3" fill="#e2f29a"/>
<rect x="582.49" y="524.56" width="5.81" height="5.20" fill="none" stroke="#ff0000" stroke-width="0.8"/>
<circle cx="639.46" cy="527.15" r="2.3" fill="#a5daa4"/>
<circle cx="645.47" cy="527.15" r="2.3" fill="#a5daa4"/>
<circle cx="663.49" cy="527.15" r="2.3" fill="#e2f29a"/>
<circle cx="669.50" cy="527.15" r="2.3" fill="#a5daa4"/>
<circle cx="675.51" cy="527.15" r="2.3" fill="#e2f29a"/>
<circle cx="681.52" cy="527.15" r="2.3" fill="#a5daa4"/>
<circle cx="158.86" cy="532.55" r="2.3" fill="#66c2a5"/>
<circle cx="164.87" cy="532.55" r="2.3" fill="#66c2a5"/>
<circle cx="194.91" cy="532.55" r="2.3" fill="#a5daa4"/>
<circle cx="254.98" cy="532.55" r="2.3" fill="#66c2a5"/>
<circle cx="260.99" cy="532.55" r="2.3" fill="#a5daa4"/>
<circle cx="285.02" cy="532.55" r="2.3" fill="#e2f29a"/>
<rect x="282.12" y="529.95" width="5.81" height="5.20" fill="none" stroke="#ff0000" stroke-width="0.8"/>
<circle cx="291.03" cy="532.55" r="2.3" fill="#a5daa4"/>
<circle cx="297.04" cy="532.55" r="2.3" fill="#a5daa4"/>
<circle cx="351.10" cy="532.55" r="2.3" fill="#a5daa4"/>
<circle cx="357.11" cy="532.55" r="2.3" fill="#fdae61"/>
<rect x="354.21" y="529.95" width="5.81" height="5.20" fill="none" stroke="#ff0000" stroke-width="0.8"/>
<circle cx="381.14" cy="532.55" r="2.3" fill="#e04e50"/>
<rect x="378.24" y="529.95" width="5.81" height="5.20" fill="none" stroke="#ff0000" stroke-width="0.8"/>
<circle cx="387.15" cy="532.55" r="2.3" fill="#a5daa4"/>
<circle cx="393.16" cy="532.55" r="2.3" fill="#e04e50"/>
<rect x="390.25" y="529.95" width="5.81" height="5.20" fill="none" stroke="#ff0000" stroke-width="0.8"/>
<circle cx="447.22" cy="532.55" r="2.3" fill="#a5daa4"/>
<circle cx="453.23" cy="532.55" r="2.3" fill="#a5daa4"/>
<circle cx="477.26" cy="532.55" r="2.3" fill="#e2f29a"/>
<rect x="474.36" y="529.95" width="5.81" height="5.20" fill="none" stroke="#ff0000" stroke-width="0.8"/>
<circle cx="483.27" cy="532.55" r="2.3" fill="#e2f29a"/>
<circle cx="489.28" cy="532.55" r="2.3" fill="#a5daa4"/>
<circle cx="549.35" cy="532.55" r="2.3" fill="#a5daa4"/>
<rect x="546.45" y="529.95" width="5.81" height="5.20" fill="none" stroke="#ff0000" stroke-width="0.8"/>
<circle cx="639.46" cy="532.55" r="2.3" fill="#a5daa4"/>
<rect x="636.56" y="529.95" width="5.81" height="5.20" fill="none" stroke="#0000ff" stroke-width="0.8"/>
<circle cx="675.51" cy="532.55" r="2.3" fill="#a5daa4"/>
<circle cx="110.80" cy="537.95" r="2.3" fill="#4ba5b3"/>
<rect x="107.90" y="535.35" width="5.81" height="5.20" fill="none" stroke="#0000ff" stroke-width="0.8"/>
<circle cx="122.82" cy="537.95" r="2.3" fill="#4ba5b3"/>
<rect x="119.91" y="535.35" width="5.81" height="5.20" fill="none" stroke="#0000ff" stroke-width="0.8"/>
<circle cx="134.83" cy="537.95" r="2.3" fill="#4ba5b3"/>
<rect x="131.93" y="535.35" width="5.81" height="5.20" fill="none" stroke="#0000ff" stroke-width="0.8"/>
<circle cx="158.86" cy="537.95" r="2.3" fill="#4ba5b3"/>
<rect x="155.96" y="535.35" width="5.81" height="5.20" fill="none" stroke="#0000ff" stroke-width="0.8"/>
<circle cx="170.88" cy="537.95" r="2.3" fill="#4ba5b3"/>
<rect x="167.97" y="535.35" width="5.81" height="5.20" fill="none" stroke="#0000ff" stroke-width="0.8"/>
<circle cx="182.89" cy="537.95" r="2.3" fill="#66c2a5"/>
<rect x="179.99" y="535.35" width="5.81" height="5.20" fill="none" stroke="#0000ff" stroke-width="0.8"/>
<circle cx="194.91" cy="537.95" r="2.3" fill="#4ba5b3"/>
<rect x="192.00" y="535.35" width="5.81" height="5.20" fill="none" stroke="#0000ff" stroke-width="0.8"/>
<circle cx="206.92" cy="537.95" r="2.3" fill="#4ba5b3"/>
<rect x="204.02" y="535.35" width="5.81" height="5.20" fill="none" stroke="#0000ff" stroke-width="0.8"/>
<circle cx="212.93" cy="537.95" r="2.3" fill="#4862ab"/>
<circle cx="218.94" cy="537.95" r="2.3" fill="#3288bd"/>
<circle cx="224.95" cy="537.95" r="2.3" fill="#4862ab"/>
<circle cx="230.95" cy="537.95" r="2.3" fill="#3288bd"/>
<circle cx="236.96" cy="537.95" r="2.3" fill="#66c2a5"/>
<rect x="234.06" y="535.35" width="5.81" height="5.20" fill="none" stroke="#ff0000" stroke-width="0.8"/>
<circle cx="254.98" cy="537.95" r="2.3" fill="#4ba5b3"/>
<circle cx="260.99" cy="537.95" r="2.3" fill="#3288bd"/>
<circle cx="267.00" cy="537.95" r="2.3" fill="#4ba5b3"/>
<circle cx="273.01" cy="537.95" r="2.3" fill="#3288bd"/>
<circle cx="279.01" cy="537.95" r="2.3" fill="#66c2a5"/>
<circle cx="285.02" cy="537.95" r="2.3" fill="#4ba5b3"/>
<circle cx="291.03" cy="537.95" r="2.3" fill="#4ba5b3"/>
<circle cx="297.04" cy="537.95" r="2.3" fill="#4ba5b3"/>
<circle cx="399.16" cy="537.95" r="2.3" fill="#4ba5b3"/>
<rect x="396.26" y="535.35" width="5.81" height="5.20" fill="none" stroke="#0000ff" stroke-width="0.8"/>
<circle cx="405.17" cy="537.95" r="2.3" fill="#4862ab"/>
<circle cx="411.18" cy="537.95" r="2.3" fill="#3288bd"/>
<circle cx="417.19" cy="537.95" r="2.3" fill="#4862ab"/>
<circle cx="423.19" cy="537.95" r="2.3" fill="#3288bd"/>
<circle cx="429.20" cy="537.95" r="2.3" fill="#66c2a5"/>
<circle cx="447.22" cy="537.95" r="2.3" fill="#4ba5b3"/>
<circle cx="453.23" cy="537.95" r="2.3" fill="#3288bd"/>
<circle cx="459.24" cy="537.95" r="2.3" fill="#4ba5b3"/>
<rect x="456.34" y="535.35" width="5.81" height="5.20" fill="none" stroke="#0000ff" stroke-width="0.8"/>
<circle cx="465.25" cy="537.95" r="2.3" fill="#3288bd"/>
<circle cx="471.25" cy="537.95" r="2.3" fill="#66c2a5"/>
<circle cx="477.26" cy="537.95" r="2.3" fill="#66c2a5"/>
<circle cx="483.27" cy="537.95" r="2.3" fill="#4ba5b3"/>
<circle cx="489.28" cy="537.95" r="2.3" fill="#4ba5b3"/>
<circle cx="597.41" cy="537.95" r="2.3" fill="#4862ab"/>
<rect x="594.51" y="535.35" width="5.81" height="5.20" fill="none" stroke="#ff0000" stroke-width="0.8"/>
<circle cx="609.43" cy="537.95" r="2.3" fill="#4862ab"/>
<rect x="606.52" y="535.35" width="5.81" height="5.20" fill="none" stroke="#ff0000" stroke-width="0.8"/>
<circle cx="621.44" cy="537.95" r="2.3" fill="#66c2a5"/>
<rect x="618.54" y="535.35" width="5.81" height="5.20" fill="none" stroke="#ff0000" stroke-width="0.8"/>
<circle cx="645.47" cy="537.95" r="2.3" fill="#3288bd"/>
<rect x="642.57" y="535.35" width="5.81" height="5.20" fill="none" stroke="#ff0000" stroke-width="0.8"/>
<circle cx="657.49" cy="537.95" r="2.3" fill="#3288bd"/>
<rect x="654.58" y="535.35" width="5.81" height="5.20" fill="none" stroke="#ff0000" stroke-width="0.8"/>
<circle cx="669.50" cy="537.95" r="2.3" fill="#4ba5b3"/>
<rect x="666.60" y="535.35" width="5.81" height="5.20" fill="none" stroke="#ff0000" stroke-width="0.8"/>
<circle cx="681.52" cy="537.95" r="2.3" fill="#4ba5b3"/>
<rect x="678.61" y="535.35" width="5.81" height="5.20" fill="none" stroke="#ff0000" stroke-width="0.8"/>
<circle cx="170.88" cy="543.34" r="2.3" fill="#66c2a5"/>
<rect x="167.97" y="540.75" width="5.81" height="5.20" fill="none" stroke="#0000ff" stroke-width="0.8"/>
<circle cx="267.00" cy="543.34" r="2.3" fill="#66c2a5"/>
<rect x="264.10" y="540.75" width="5.81" height="5.20" fill="none" stroke="#0000ff" stroke-width="0.8"/>
<circle cx="273.01" cy="543.34" r="2.3" fill="#3288bd"/>
<circle cx="459.24" cy="543.34" r="2.3" fill="#66c2a5"/>
<rect x="456.34" y="540.75" width="5.81" height="5.20" fill="none" stroke="#0000ff" stroke-width="0.8"/>
<circle cx="465.25" cy="543.34" r="2.3" fill="#3288bd"/>
<circle cx="657.49" cy="543.34" r="2.3" fill="#3288bd"/>
<rect x="654.58" y="540.75" width="5.81" height="5.20" fill="none" stroke="#ff0000" stroke-width="0.8"/>
<circle cx="146.85" cy="548.74" r="2.3" fill="#66c2a5"/>
<rect x="143.94" y="546.14" width="5.81" height="5.20" fill="none" stroke="#0000ff" stroke-width="0.8"/>
<circle cx="242.97" cy="548.74" r="2.3" fill="#66c2a5"/>
<rect x="240.06" y="546.14" width="5.81" height="5.20" fill="none" stroke="#0000ff" stroke-width="0.8"/>
<circle cx="248.98" cy="548.74" r="2.3" fill="#3288bd"/>
<circle cx="435.21" cy="548.74" r="2.3" fill="#66c2a5"/>
<rect x="432.31" y="546.14" width="5.81" height="5.20" fill="none" stroke="#0000ff" stroke-width="0.8"/>
<circle cx="441.22" cy="548.74" r="2.3" fill="#4862ab"/>
<circle cx="633.46" cy="548.74" r="2.3" fill="#3288bd"/>
<rect x="630.55" y="546.14" width="5.81" height="5.20" fill="none" stroke="#ff0000" stroke-width="0.8"/>
<circle cx="146.85" cy="554.14" r="2.3" fill="#66c2a5"/>
<rect x="143.94" y="551.54" width="5.81" height="5.20" fill="none" stroke="#0000ff" stroke-width="0.8"/>
<circle cx="242.97" cy="554.14" r="2.3" fill="#66c2a5"/>
<rect x="240.06" y="551.54" width="5.81" height="5.20" fill="none" stroke="#0000ff" stroke-width="0.8"/>
<circle cx="248.98" cy="554.14" r="2.3" fill="#3288bd"/>
<circle cx="435.21" cy="554.14" r="2.3" fill="#66c2a5"/>
<rect x="432.31" y="551.54" width="5.81" height="5.20" fill="none" stroke="#0000ff" stroke-width="0.8"/>
<circle cx="441.22" cy="554.14" r="2.3" fill="#3288bd"/>
<circle cx="633.46" cy="554.14" r="2.3" fill="#3288bd"/>
<rect x="630.55" y="551.54" width="5.81" height="5.20" fill="none" stroke="#ff0000" stroke-width="0.8"/>
<circle cx="273.01" cy="559.54" r="2.3" fill="#3288bd"/>
<rect x="270.10" y="556.94" width="5.81" height="5.20" fill="none" stroke="#ff0000" stroke-width="0.8"/>
<circle cx="465.25" cy="559.54" r="2.3" fill="#4862ab"/>
<rect x="462.34" y="556.94" width="5.81" height="5.20" fill="none" stroke="#ff0000" stroke-width="0.8"/>
<circle cx="657.49" cy="559.54" r="2.3" fill="#3288bd"/>
<rect x="654.58" y="556.94" width="5.81" height="5.20" fill="none" stroke="#ff0000" stroke-width="0.8"/>
<circle cx="170.88" cy="564.93" r="2.3" fill="#66c2a5"/>
<rect x="167.97" y="562.33" width="5.81" height="5.20" fill="none" stroke="#0000ff" stroke-width="0.8"/>
<circle cx="267.00" cy="564.93" r="2.3" fill="#4ba5b3"/>
<circle cx="273.01" cy="564.93" r="2.3" fill="#3288bd"/>
<circle cx="459.24" cy="564.93" r="2.3" fill="#66c2a5"/>
<rect x="456.34" y="562.33" width="5.81" height="5.20" fill="none" stroke="#0000ff" stroke-width="0.8"/>
<circle cx="465.25" cy="564.93" r="2.3" fill="#3288bd"/>
<circle cx="657.49" cy="564.93" r="2.3" fill="#4ba5b3"/>
<rect x="654.58" y="562.33" width="5.81" height="5.20" fill="none" stroke="#ff0000" stroke-width="0.8"/>
<circle cx="110.80" cy="570.33" r="2.3" fill="#4ba5b3"/>
<rect x="107.90" y="567.73" width="5.81" height="5.20" fill="none" stroke="#0000ff" stroke-width="0.8"/>
<circle cx="116.81" cy="570.33" r="2.3" fill="#4862ab"/>
<circle cx="122.82" cy="570.33" r="2.3" fill="#3288bd"/>
<circle cx="128.83" cy="570.33" r="2.3" fill="#4862ab"/>
<circle cx="134.83" cy="570.33" r="2.3" fill="#3288bd"/>
<circle cx="140.84" cy="570.33" r="2.3" fill="#4ba5b3"/>
<circle cx="158.86" cy="570.33" r="2.3" fill="#3288bd"/>
<circle cx="164.87" cy="570.33" r="2.3" fill="#4862ab"/>
<circle cx="170.88" cy="570.33" r="2.3" fill="#4ba5b3"/>
<rect x="167.97" y="567.73" width="5.81" height="5.20" fill="none" stroke="#0000ff" stroke-width="0.8"/>
<circle cx="176.89" cy="570.33" r="2.3" fill="#4862ab"/>
<circle cx="182.89" cy="570.33" r="2.3" fill="#4ba5b3"/>
<circle cx="188.90" cy="570.33" r="2.3" fill="#4ba5b3"/>
<circle cx="194.91" cy="570.33" r="2.3" fill="#4ba5b3"/>
<circle cx="200.92" cy="570.33" r="2.3" fill="#3288bd"/>
<circle cx="206.92" cy="570.33" r="2.3" fill="#4ba5b3"/>
<circle cx="212.93" cy="570.33" r="2.3" fill="#4862ab"/>
<circle cx="218.94" cy="570.33" r="2.3" fill="#3288bd"/>
<circle cx="224.95" cy="570.33" r="2.3" fill="#4862ab"/>
<circle cx="230.95" cy="570.33" r="2.3" fill="#3288bd"/>
<circle cx="236.96" cy="570.33" r="2.3" fill="#66c2a5"/>
<rect x="234.06" y="567.73" width="5.81" height="5.20" fill="none" stroke="#ff0000" stroke-width="0.8"/>
<circle cx="254.98" cy="570.33" r="2.3" fill="#4ba5b3"/>
<circle cx="260.99" cy="570.33" r="2.3" fill="#4ba5b3"/>
<circle cx="267.00" cy="570.33" r="2.3" fill="#4ba5b3"/>
<circle cx="273.01" cy="570.33" r="2.3" fill="#3288bd"/>
<circle cx="279.01" cy="570.33" r="2.3" fill="#66c2a5"/>
<circle cx="285.02" cy="570.33" r="2.3" fill="#66c2a5"/>
<circle cx="291.03" cy="570.33" r="2.3" fill="#4ba5b3"/>
<circle cx="297.04" cy="570.33" r="2.3" fill="#4ba5b3"/>
<circle cx="309.05" cy="570.33" r="2.3" fill="#3288bd"/>
<rect x="306.15" y="567.73" width="5.81" height="5.20" fill="none" stroke="#ff0000" stroke-width="0.8"/>
<circle cx="321.07" cy="570.33" r="2.3" fill="#4ba5b3"/>
<rect x="318.16" y="567.73" width="5.81" height="5.20" fill="none" stroke="#ff0000" stroke-width="0.8"/>
<circle cx="333.08" cy="570.33" r="2.3" fill="#e2f29a"/>
<rect x="330.18" y="567.73" width="5.81" height="5.20" fill="none" stroke="#ff0000" stroke-width="0.8"/>
<circle cx="357.11" cy="570.33" r="2.3" fill="#66c2a5"/>
<rect x="354.21" y="567.73" width="5.81" height="5.20" fill="none" stroke="#ff0000" stroke-width="0.8"/>
<circle cx="369.13" cy="570.33" r="2.3" fill="#4ba5b3"/>
<rect x="366.22" y="567.73" width="5.81" height="5.20" fill="none" stroke="#ff0000" stroke-width="0.8"/>
<circle cx="381.14" cy="570.33" r="2.3" fill="#a5daa4"/>
<rect x="378.24" y="567.73" width="5.81" height="5.20" fill="none" stroke="#ff0000" stroke-width="0.8"/>
<circle cx="393.16" cy="570.33" r="2.3" fill="#a5daa4"/>
<rect x="390.25" y="567.73" width="5.81" height="5.20" fill="none" stroke="#ff0000" stroke-width="0.8"/>
<circle cx="399.16" cy="570.33" r="2.3" fill="#4ba5b3"/>
<rect x="396.26" y="567.73" width="5.81" height="5.20" fill="none" stroke="#0000ff" stroke-width="0.8"/>
<circle cx="411.18" cy="570.33" r="2.3" fill="#3288bd"/>
<circle cx="423.19" cy="570.33" r="2.3" fill="#3288bd"/>
<circle cx="429.20" cy="570.33" r="2.3" fill="#66c2a5"/>
<circle cx="447.22" cy="570.33" r="2.3" fill="#4ba5b3"/>
<circle cx="453.23" cy="570.33" r="2.3" fill="#3288bd"/>
<circle cx="459.24" cy="570.33" r="2.3" fill="#4ba5b3"/>
<rect x="456.34" y="567.73" width="5.81" height="5.20" fill="none" stroke="#0000ff" stroke-width="0.8"/>
<circle cx="471.25" cy="570.33" r="2.3" fill="#66c2a5"/>
<circle cx="477.26" cy="570.33" r="2.3" fill="#66c2a5"/>
<circle cx="483.27" cy="570.33" r="2.3" fill="#4ba5b3"/>
<circle cx="489.28" cy="570.33" r="2.3" fill="#4ba5b3"/>
<circle cx="591.40" cy="570.33" r="2.3" fill="#3288bd"/>
<circle cx="597.41" cy="570.33" r="2.3" fill="#3288bd"/>
<circle cx="603.42" cy="570.33" r="2.3" fill="#3288bd"/>
<circle cx="609.43" cy="570.33" r="2.3" fill="#3288bd"/>
<circle cx="615.43" cy="570.33" r="2.3" fill="#3288bd"/>
<circle cx="621.44" cy="570.33" r="2.3" fill="#a5daa4"/>
<rect x="618.54" y="567.73" width="5.81" height="5.20" fill="none" stroke="#ff0000" stroke-width="0.8"/>
<circle cx="639.46" cy="570.33" r="2.3" fill="#3288bd"/>
<circle cx="645.47" cy="570.33" r="2.3" fill="#4ba5b3"/>
<circle cx="651.48" cy="570.33" r="2.3" fill="#4ba5b3"/>
<circle cx="657.49" cy="570.33" r="2.3" fill="#4ba5b3"/>
<circle cx="663.49" cy="570.33" r="2.3" fill="#66c2a5"/>
<circle cx="669.50" cy="570.33" r="2.3" fill="#66c2a5"/>
<circle cx="675.51" cy="570.33" r="2.3" fill="#4ba5b3"/>
<circle cx="681.52" cy="570.33" r="2.3" fill="#66c2a5"/>
<circle cx="170.88" cy="575.73" r="2.3" fill="#4ba5b3"/>
<rect x="167.97" y="573.13" width="5.81" height="5.20" fill="none" stroke="#0000ff" stroke-width="0.8"/>
<circle cx="176.89" cy="575.73" r="2.3" fill="#4862ab"/>
<circle cx="267.00" cy="575.73" r="2.3" fill="#4ba5b3"/>
<circle cx="273.01" cy="575.73" r="2.3" fill="#3288bd"/>
<circle cx="369.13" cy="575.73" r="2.3" fill="#4ba5b3"/>
<rect x="366.22" y="573.13" width="5.81" height="5.20" fill="none" stroke="#ff0000" stroke-width="0.8"/>
<circle cx="459.24" cy="575.73" r="2.3" fill="#66c2a5"/>
<circle cx="465.25" cy="575.73" r="2.3" fill="#3288bd"/>
<circle cx="651.48" cy="575.73" r="2.3" fill="#4ba5b3"/>
<circle cx="657.49" cy="575.73" r="2.3" fill="#4ba5b3"/>
<circle cx="146.85" cy="581.12" r="2.3" fill="#4ba5b3"/>
<rect x="143.94" y="578.52" width="5.81" height="5.20" fill="none" stroke="#0000ff" stroke-width="0.8"/>
<circle cx="152.86" cy="581.12" r="2.3" fill="#4862ab"/>
<circle cx="242.97" cy="581.12" r="2.3" fill="#66c2a5"/>
<rect x="240.06" y="578.52" width="5.81" height="5.20" fill="none" stroke="#0000ff" stroke-width="0.8"/>
<circle cx="248.98" cy="581.12" r="2.3" fill="#3288bd"/>
<circle cx="345.10" cy="581.12" r="2.3" fill="#4ba5b3"/>
<rect x="342.19" y="578.52" width="5.81" height="5.20" fill="none" stroke="#ff0000" stroke-width="0.8"/>
<circle cx="435.21" cy="581.12" r="2.3" fill="#66c2a5"/>
<rect x="432.31" y="578.52" width="5.81" height="5.20" fill="none" stroke="#0000ff" stroke-width="0.8"/>
<circle cx="441.22" cy="581.12" r="2.3" fill="#4862ab"/>
<circle cx="627.45" cy="581.12" r="2.3" fill="#4ba5b3"/>
<circle cx="633.46" cy="581.12" r="2.3" fill="#3288bd"/>
<circle cx="146.85" cy="586.52" r="2.3" fill="#66c2a5"/>
<rect x="143.94" y="583.92" width="5.81" height="5.20" fill="none" stroke="#0000ff" stroke-width="0.8"/>
<circle cx="152.86" cy="586.52" r="2.3" fill="#4862ab"/>
<circle cx="242.97" cy="586.52" r="2.3" fill="#66c2a5"/>
<rect x="240.06" y="583.92" width="5.81" height="5.20" fill="none" stroke="#0000ff" stroke-width="0.8"/>
<circle cx="248.98" cy="586.52" r="2.3" fill="#3288bd"/>
<circle cx="345.10" cy="586.52" r="2.3" fill="#66c2a5"/>
<rect x="342.19" y="583.92" width="5.81" height="5.20" fill="none" stroke="#ff0000" stroke-width="0.8"/>
<circle cx="435.21" cy="586.52" r="2.3" fill="#66c2a5"/>
<rect x="432.31" y="583.92" width="5.81" height="5.20" fill="none" stroke="#0000ff" stroke-width="0.8"/>
<circle cx="441.22" cy="586.52" r="2.3" fill="#3288bd"/>
<circle cx="627.45" cy="586.52" r="2.3" fill="#66c2a5"/>
<circle cx="633.46" cy="586.52" r="2.3" fill="#4ba5b3"/>
<circle cx="176.89" cy="591.92" r="2.3" fill="#4862ab"/>
<rect x="173.98" y="589.32" width="5.81" height="5.20" fill="none" stroke="#ff0000" stroke-width="0.8"/>
<circle cx="273.01" cy="591.92" r="2.3" fill="#3288bd"/>
<rect x="270.10" y="589.32" width="5.81" height="5.20" fill="none" stroke="#ff0000" stroke-width="0.8"/>
<circle cx="369.13" cy="591.92" r="2.3" fill="#4ba5b3"/>
<rect x="366.22" y="589.32" width="5.81" height="5.20" fill="none" stroke="#ff0000" stroke-width="0.8"/>
<circle cx="465.25" cy="591.92" r="2.3" fill="#3288bd"/>
<rect x="462.34" y="589.32" width="5.81" height="5.20" fill="none" stroke="#ff0000" stroke-width="0.8"/>
<circle cx="657.49" cy="591.92" r="2.3" fill="#3288bd"/>
<rect x="654.58" y="589.32" width="5.81" height="5.20" fill="none" stroke="#ff0000" stroke-width="0.8"/>
<circle cx="170.88" cy="597.31" r="2.3" fill="#66c2a5"/>
<rect x="167.97" y="594.72" width="5.81" height="5.20" fill="none" stroke="#0000ff" stroke-width="0.8"/>
<circle cx="176.89" cy="597.31" r="2.3" fill="#4862ab"/>
<circle cx="267.00" cy="597.31" r="2.3" fill="#4ba5b3"/>
<circle cx="273.01" cy="597.31" r="2.3" fill="#3288bd"/>
<circle cx="369.13" cy="597.31" r="2.3" fill="#66c2a5"/>
<rect x="366.22" y="594.72" width="5.81" height="5.20" fill="none" stroke="#ff0000" stroke-width="0.8"/>
<circle cx="459.24" cy="597.31" r="2.3" fill="#66c2a5"/>
<rect x="456.34" y="594.72" width="5.81" height="5.20" fill="none" stroke="#0000ff" stroke-width="0.8"/>
<circle cx="465.25" cy="597.31" r="2.3" fill="#3288bd"/>
<circle cx="651.48" cy="597.31" r="2.3" fill="#4ba5b3"/>
<circle cx="657.49" cy="597.31" r="2.3" fill="#4ba5b3"/>
<circle cx="110.80" cy="602.71" r="2.3" fill="#4ba5b3"/>
<rect x="107.90" y="600.11" width="5.81" height="5.20" fill="none" stroke="#0000ff" stroke-width="0.8"/>
<circle cx="116.81" cy="602.71" r="2.3" fill="#4862ab"/>
<circle cx="122.82" cy="602.71" r="2.3" fill="#3288bd"/>
<circle cx="128.83" cy="602.71" r="2.3" fill="#4862ab"/>
<circle cx="134.83" cy="602.71" r="2.3" fill="#3288bd"/>
<circle cx="140.84" cy="602.71" r="2.3" fill="#66c2a5"/>
<circle cx="158.86" cy="602.71" r="2.3" fill="#3288bd"/>
<circle cx="164.87" cy="602.71" r="2.3" fill="#3288bd"/>
<circle cx="170.88" cy="602.71" r="2.3" fill="#4ba5b3"/>
<circle cx="176.89" cy="602.71" r="2.3" fill="#4862ab"/>
<circle cx="182.89" cy="602.71" r="2.3" fill="#66c2a5"/>
<circle cx="188.90" cy="602.71" r="2.3" fill="#66c2a5"/>
<circle cx="194.91" cy="602.71" r="2.3" fill="#4ba5b3"/>
<circle cx="200.92" cy="602.71" r="2.3" fill="#4ba5b3"/>
<circle cx="206.92" cy="602.71" r="2.3" fill="#4ba5b3"/>
<rect x="204.02" y="600.11" width="5.81" height="5.20" fill="none" stroke="#0000ff" stroke-width="0.8"/>
<circle cx="212.93" cy="602.71" r="2.3" fill="#4862ab"/>
<circle cx="218.94" cy="602.71" r="2.3" fill="#3288bd"/>
<circle cx="224.95" cy="602.71" r="2.3" fill="#4862ab"/>
<circle cx="230.95" cy="602.71" r="2.3" fill="#3288bd"/>
<circle cx="236.96" cy="602.71" r="2.3" fill="#66c2a5"/>
<rect x="234.06" y="600.11" width="5.81" height="5.20" fill="none" stroke="#ff0000" stroke-width="0.8"/>
<circle cx="254.98" cy="602.71" r="2.3" fill="#4ba5b3"/>
<circle cx="260.99" cy="602.71" r="2.3" fill="#3288bd"/>
<circle cx="267.00" cy="602.71" r="2.3" fill="#4ba5b3"/>
<circle cx="273.01" cy="602.71" r="2.3" fill="#3288bd"/>
<circle cx="279.01" cy="602.71" r="2.3" fill="#66c2a5"/>
<circle cx="285.02" cy="602.71" r="2.3" fill="#66c2a5"/>
<circle cx="291.03" cy="602.71" r="2.3" fill="#66c2a5"/>
<circle cx="297.04" cy="602.71" r="2.3" fill="#66c2a5"/>
<circle cx="399.16" cy="602.71" r="2.3" fill="#4ba5b3"/>
<rect x="396.26" y="600.11" width="5.81" height="5.20" fill="none" stroke="#0000ff" stroke-width="0.8"/>
<circle cx="405.17" cy="602.71" r="2.3" fill="#4862ab"/>
<circle cx="411.18" cy="602.71" r="2.3" fill="#3288bd"/>
<circle cx="417.19" cy="602.71" r="2.3" fill="#4862ab"/>
<circle cx="423.19" cy="602.71" r="2.3" fill="#3288bd"/>
<circle cx="429.20" cy="602.71" r="2.3" fill="#66c2a5"/>
<rect x="426.30" y="600.11" width="5.81" height="5.20" fill="none" stroke="#ff0000" stroke-width="0.8"/>
<circle cx="447.22" cy="602.71" r="2.3" fill="#4ba5b3"/>
<circle cx="453.23" cy="602.71" r="2.3" fill="#3288bd"/>
<circle cx="459.24" cy="602.71" r="2.3" fill="#4ba5b3"/>
<circle cx="465.25" cy="602.71" r="2.3" fill="#3288bd"/>
<circle cx="471.25" cy="602.71" r="2.3" fill="#66c2a5"/>
<circle cx="477.26" cy="602.71" r="2.3" fill="#66c2a5"/>
<circle cx="483.27" cy="602.71" r="2.3" fill="#66c2a5"/>
<circle cx="489.28" cy="602.71" r="2.3" fill="#66c2a5"/>
<circle cx="170.88" cy="608.11" r="2.3" fill="#66c2a5"/>
<rect x="167.97" y="605.51" width="5.81" height="5.20" fill="none" stroke="#0000ff" stroke-width="0.8"/>
<circle cx="176.89" cy="608.11" r="2.3" fill="#3288bd"/>
<circle cx="267.00" cy="608.11" r="2.3" fill="#66c2a5"/>
<rect x="264.10" y="605.51" width="5.81" height="5.20" fill="none" stroke="#0000ff" stroke-width="0.8"/>
<circle cx="273.01" cy="608.11" r="2.3" fill="#3288bd"/>
<circle cx="459.24" cy="608.11" r="2.3" fill="#66c2a5"/>
<rect x="456.34" y="605.51" width="5.81" height="5.20" fill="none" stroke="#0000ff" stroke-width="0.8"/>
<circle cx="465.25" cy="608.11" r="2.3" fill="#3288bd"/>
<circle cx="146.85" cy="613.51" r="2.3" fill="#66c2a5"/>
<rect x="143.94" y="610.91" width="5.81" height="5.20" fill="none" stroke="#0000ff" stroke-width="0.8"/>
<circle cx="152.86" cy="613.51" r="2.3" fill="#4862ab"/>
<circle cx="242.97" cy="613.51" r="2.3" fill="#66c2a5"/>
<rect x="240.06" y="610.91" width="5.81" height="5.20" fill="none" stroke="#0000ff" stroke-width="0.8"/>
<circle cx="248.98" cy="613.51" r="2.3" fill="#3288bd"/>
<circle cx="435.21" cy="613.51" r="2.3" fill="#66c2a5"/>
<rect x="432.31" y="610.91" width="5.81" height="5.20" fill="none" stroke="#0000ff" stroke-width="0.8"/>
<circle cx="441.22" cy="613.51" r="2.3" fill="#3288bd"/>
<circle cx="146.85" cy="618.90" r="2.3" fill="#66c2a5"/>
<rect x="143.94" y="616.30" width="5.81" height="5.20" fill="none" stroke="#0000ff" stroke-width="0.8"/>
<circle cx="152.86" cy="618.90" r="2.3" fill="#3288bd"/>
<circle cx="242.97" cy="618.90" r="2.3" fill="#66c2a5"/>
<rect x="240.06" y="616.30" width="5.81" height="5.20" fill="none" stroke="#0000ff" stroke-width="0.8"/>
<circle cx="248.98" cy="618.90" r="2.3" fill="#3288bd"/>
<circle cx="435.21" cy="618.90" r="2.3" fill="#66c2a5"/>
<rect x="432.31" y="616.30" width="5.81" height="5.20" fill="none" stroke="#0000ff" stroke-width="0.8"/>
<circle cx="441.22" cy="618.90" r="2.3" fill="#3288bd"/>
<circle cx="176.89" cy="624.30" r="2.3" fill="#4862ab"/>
<rect x="173.98" y="621.70" width="5.81" height="5.20" fill="none" stroke="#ff0000" stroke-width="0.8"/>
<circle cx="273.01" cy="624.30" r="2.3" fill="#3288bd"/>
<rect x="270.10" y="621.70" width="5.81" height="5.20" fill="none" stroke="#ff0000" stroke-width="0.8"/>
<circle cx="465.25" cy="624.30" r="2.3" fill="#3288bd"/>
<rect x="462.34" y="621.70" width="5.81" height="5.20" fill="none" stroke="#ff0000" stroke-width="0.8"/>
<circle cx="170.88" cy="629.70" r="2.3" fill="#4ba5b3"/>
<rect x="167.97" y="627.10" width="5.81" height="5.20" fill="none" stroke="#0000ff" stroke-width="0.8"/>
<circle cx="176.89" cy="629.70" r="2.3" fill="#3288bd"/>
<circle cx="267.00" cy="629.70" r="2.3" fill="#66c2a5"/>
<rect x="264.10" y="627.10" width="5.81" height="5.20" fill="none" stroke="#0000ff" stroke-width="0.8"/>
<circle cx="273.01" cy="629.70" r="2.3" fill="#3288bd"/>
<circle cx="459.24" cy="629.70" r="2.3" fill="#66c2a5"/>
<circle cx="465.25" cy="629.70" r="2.3" fill="#3288bd"/>
<circle cx="399.16" cy="635.09" r="2.3" fill="#4ba5b3"/>
<rect x="396.26" y="632.50" width="5.81" height="5.20" fill="none" stroke="#0000ff" stroke-width="0.8"/>
<circle cx="405.17" cy="635.09" r="2.3" fill="#4862ab"/>
<circle cx="411.18" cy="635.09" r="2.3" fill="#3288bd"/>
<circle cx="417.19" cy="635.09" r="2.3" fill="#4862ab"/>
<circle cx="423.19" cy="635.09" r="2.3" fill="#3288bd"/>
<circle cx="429.20" cy="635.09" r="2.3" fill="#66c2a5"/>
<circle cx="447.22" cy="635.09" r="2.3" fill="#4ba5b3"/>
<circle cx="453.23" cy="635.09" r="2.3" fill="#3288bd"/>
<circle cx="459.24" cy="635.09" r="2.3" fill="#4ba5b3"/>
<rect x="456.34" y="632.50" width="5.81" height="5.20" fill="none" stroke="#0000ff" stroke-width="0.8"/>
<circle cx="465.25" cy="635.09" r="2.3" fill="#3288bd"/>
<circle cx="471.25" cy="635.09" r="2.3" fill="#66c2a5"/>
<circle cx="477.26" cy="635.09" r="2.3" fill="#66c2a5"/>
<circle cx="483.27" cy="635.09" r="2.3" fill="#66c2a5"/>
<circle cx="489.28" cy="635.09" r="2.3" fill="#4ba5b3"/>
<circle cx="597.41" cy="635.09" r="2.3" fill="#4862ab"/>
<rect x="594.51" y="632.50" width="5.81" height="5.20" fill="none" stroke="#ff0000" stroke-width="0.8"/>
<circle cx="609.43" cy="635.09" r="2.3" fill="#4862ab"/>
<rect x="606.52" y="632.50" width="5.81" height="5.20" fill="none" stroke="#ff0000" stroke-width="0.8"/>
<circle cx="621.44" cy="635.09" r="2.3" fill="#66c2a5"/>
<rect x="618.54" y="632.50" width="5.81" height="5.20" fill="none" stroke="#ff0000" stroke-width="0.8"/>
<circle cx="645.47" cy="635.09" r="2.3" fill="#3288bd"/>
<rect x="642.57" y="632.50" width="5.81" height="5.20" fill="none" stroke="#ff0000" stroke-width="0.8"/>
<circle cx="657.49" cy="635.09" r="2.3" fill="#3288bd"/>
<rect x="654.58" y="632.50" width="5.81" height="5.20" fill="none" stroke="#ff0000" stroke-width="0.8"/>
<circle cx="669.50" cy="635.09" r="2.3" fill="#66c2a5"/>
<rect x="666.60" y="632.50" width="5.81" height="5.20" fill="none" stroke="#ff0000" stroke-width="0.8"/>
<circle cx="681.52" cy="635.09" r="2.3" fill="#4ba5b3"/>
<rect x="678.61" y="632.50" width="5.81" height="5.20" fill="none" stroke="#ff0000" stroke-width="0.8"/>
<circle cx="459.24" cy="640.49" r="2.3" fill="#66c2a5"/>
<rect x="456.34" y="637.89" width="5.81" height="5.20" fill="none" stroke="#0000ff" stroke-width="0.8"/>
<circle cx="465.25" cy="640.49" r="2.3" fill="#3288bd"/>
<circle cx="657.49" cy="640.49" r="2.3" fill="#3288bd"/>
<rect x="654.58" y="637.89" width="5.81" height="5.20" fill="none" stroke="#ff0000" stroke-width="0.8"/>
<circle cx="435.21" cy="645.89" r="2.3" fill="#66c2a5"/>
<rect x="432.31" y="643.29" width="5.81" height="5.20" fill="none" stroke="#0000ff" stroke-width="0.8"/>
<circle cx="441.22" cy="645.89" r="2.3" fill="#3288bd"/>
<circle cx="633.46" cy="645.89" r="2.3" fill="#3288bd"/>
<rect x="630.55" y="643.29" width="5.81" height="5.20" fill="none" stroke="#ff0000" stroke-width="0.8"/>
<circle cx="435.21" cy="651.28" r="2.3" fill="#66c2a5"/>
<rect x="432.31" y="648.69" width="5.81" height="5.20" fill="none" stroke="#0000ff" stroke-width="0.8"/>
<circle cx="441.22" cy="651.28" r="2.3" fill="#3288bd"/>
<circle cx="633.46" cy="651.28" r="2.3" fill="#3288bd"/>
<rect x="630.55" y="648.69" width="5.81" height="5.20" fill="none" stroke="#ff0000" stroke-width="0.8"/>
<circle cx="465.25" cy="656.68" r="2.3" fill="#3288bd"/>
<rect x="462.34" y="654.08" width="5.81" height="5.20" fill="none" stroke="#ff0000" stroke-width="0.8"/>
<circle cx="657.49" cy="656.68" r="2.3" fill="#3288bd"/>
<rect x="654.58" y="654.08" width="5.81" height="5.20" fill="none" stroke="#ff0000" stroke-width="0.8"/>
<circle cx="459.24" cy="662.08" r="2.3" fill="#66c2a5"/>
<rect x="456.34" y="659.48" width="5.81" height="5.20" fill="none" stroke="#0000ff" stroke-width="0.8"/>
<circle cx="465.25" cy="662.08" r="2.3" fill="#3288bd"/>
<rect x="462.34" y="659.48" width="5.81" height="5.20" fill="none" stroke="#ff0000" stroke-width="0.8"/>
<circle cx="657.49" cy="662.08" r="2.3" fill="#3288bd"/>
<rect x="654.58" y="659.48" width="5.81" height="5.20" fill="none" stroke="#ff0000" stroke-width="0.8"/>
<circle cx="110.80" cy="667.48" r="2.3" fill="#4ba5b3"/>
<rect x="107.90" y="664.88" width="5.81" height="5.20" fill="none" stroke="#0000ff" stroke-width="0.8"/>
<circle cx="116.81" cy="667.48" r="2.3" fill="#4862ab"/>
<circle cx="122.82" cy="667.48" r="2.3" fill="#3288bd"/>
<circle cx="128.83" cy="667.48" r="2.3" fill="#4862ab"/>
<circle cx="134.83" cy="667.48" r="2.3" fill="#3288bd"/>
<circle cx="140.84" cy="667.48" r="2.3" fill="#66c2a5"/>
<rect x="137.94" y="664.88" width="5.81" height="5.20" fill="none" stroke="#ff0000" stroke-width="0.8"/>
<circle cx="158.86" cy="667.48" r="2.3" fill="#3288bd"/>
<circle cx="164.87" cy="667.48" r="2.3" fill="#3288bd"/>
<circle cx="170.88" cy="667.48" r="2.3" fill="#4ba5b3"/>
<circle cx="176.89" cy="667.48" r="2.3" fill="#3288bd"/>
<circle cx="182.89" cy="667.48" r="2.3" fill="#66c2a5"/>
<circle cx="188.90" cy="667.48" r="2.3" fill="#4ba5b3"/>
<circle cx="194.91" cy="667.48" r="2.3" fill="#4ba5b3"/>
<circle cx="200.92" cy="667.48" r="2.3" fill="#4ba5b3"/>
<circle cx="206.92" cy="667.48" r="2.3" fill="#4ba5b3"/>
<rect x="204.02" y="664.88" width="5.81" height="5.20" fill="none" stroke="#0000ff" stroke-width="0.8"/>
<circle cx="212.93" cy="667.48" r="2.3" fill="#4862ab"/>
<circle cx="218.94" cy="667.48" r="2.3" fill="#3288bd"/>
<circle cx="224.95" cy="667.48" r="2.3" fill="#3288bd"/>
<circle cx="230.95" cy="667.48" r="2.3" fill="#3288bd"/>
<circle cx="236.96" cy="667.48" r="2.3" fill="#66c2a5"/>
<rect x="234.06" y="664.88" width="5.81" height="5.20" fill="none" stroke="#ff0000" stroke-width="0.8"/>
<circle cx="254.98" cy="667.48" r="2.3" fill="#4ba5b3"/>
<circle cx="260.99" cy="667.48" r="2.3" fill="#3288bd"/>
<circle cx="267.00" cy="667.48" r="2.3" fill="#4ba5b3"/>
<circle cx="273.01" cy="667.48" r="2.3" fill="#3288bd"/>
<circle cx="279.01" cy="667.48" r="2.3" fill="#66c2a5"/>
<circle cx="285.02" cy="667.48" r="2.3" fill="#66c2a5"/>
<circle cx="291.03" cy="667.48" r="2.3" fill="#66c2a5"/>
<circle cx="297.04" cy="667.48" r="2.3" fill="#66c2a5"/>
<circle cx="405.17" cy="667.48" r="2.3" fill="#4862ab"/>
<rect x="402.27" y="664.88" width="5.81" height="5.20" fill="none" stroke="#ff0000" stroke-width="0.8"/>
<circle cx="417.19" cy="667.48" r="2.3" fill="#4862ab"/>
<rect x="414.28" y="664.88" width="5.81" height="5.20" fill="none" stroke="#ff0000" stroke-width="0.8"/>
<circle cx="429.20" cy="667.48" r="2.3" fill="#66c2a5"/>
<rect x="426.30" y="664.88" width="5.81" height="5.20" fill="none" stroke="#ff0000" stroke-width="0.8"/>
<circle cx="453.23" cy="667.48" r="2.3" fill="#4ba5b3"/>
<rect x="450.33" y="664.88" width="5.81" height="5.20" fill="none" stroke="#ff0000" stroke-width="0.8"/>
<circle cx="465.25" cy="667.48" r="2.3" fill="#3288bd"/>
<rect x="462.34" y="664.88" width="5.81" height="5.20" fill="none" stroke="#ff0000" stroke-width="0.8"/>
<circle cx="477.26" cy="667.48" r="2.3" fill="#66c2a5"/>
<rect x="474.36" y="664.88" width="5.81" height="5.20" fill="none" stroke="#ff0000" stroke-width="0.8"/>
<circle cx="489.28" cy="667.48" r="2.3" fill="#66c2a5"/>
<rect x="486.37" y="664.88" width="5.81" height="5.20" fill="none" stroke="#ff0000" stroke-width="0.8"/>
<circle cx="597.41" cy="667.48" r="2.3" fill="#4862ab"/>
<rect x="594.51" y="664.88" width="5.81" height="5.20" fill="none" stroke="#ff0000" stroke-width="0.8"/>
<circle cx="609.43" cy="667.48" r="2.3" fill="#4862ab"/>
<rect x="606.52" y="664.88" width="5.81" height="5.20" fill="none" stroke="#ff0000" stroke-width="0.8"/>
<circle cx="621.44" cy="667.48" r="2.3" fill="#66c2a5"/>
<rect x="618.54" y="664.88" width="5.81" height="5.20" fill="none" stroke="#ff0000" stroke-width="0.8"/>
<circle cx="645.47" cy="667.48" r="2.3" fill="#4ba5b3"/>
<rect x="642.57" y="664.88" width="5.81" height="5.20" fill="none" stroke="#ff0000" stroke-width="0.8"/>
<circle cx="657.49" cy="667.48" r="2.3" fill="#3288bd"/>
<rect x="654.58" y="664.88" width="5.81" height="5.20" fill="none" stroke="#ff0000" stroke-width="0.8"/>
<circle cx="669.50" cy="667.48" r="2.3" fill="#66c2a5"/>
<rect x="666.60" y="664.88" width="5.81" height="5.20" fill="none" stroke="#ff0000" stroke-width="0.8"/>
<circle cx="681.52" cy="667.48" r="2.3" fill="#66c2a5"/>
<rect x="678.61" y="664.88" width="5.81" height="5.20" fill="none" stroke="#ff0000" stroke-width="0.8"/>
<circle cx="170.88" cy="672.87" r="2.3" fill="#66c2a5"/>
<rect x="167.97" y="670.27" width="5.81" height="5.20" fill="none" stroke="#0000ff" stroke-width="0.8"/>
<circle cx="176.89" cy="672.87" r="2.3" fill="#3288bd"/>
<circle cx="267.00" cy="672.87" r="2.3" fill="#66c2a5"/>
<rect x="264.10" y="670.27" width="5.81" height="5.20" fill="none" stroke="#0000ff" stroke-width="0.8"/>
<circle cx="273.01" cy="672.87" r="2.3" fill="#3288bd"/>
<circle cx="465.25" cy="672.87" r="2.3" fill="#3288bd"/>
<rect x="462.34" y="670.27" width="5.81" height="5.20" fill="none" stroke="#ff0000" stroke-width="0.8"/>
<circle cx="657.49" cy="672.87" r="2.3" fill="#3288bd"/>
<rect x="654.58" y="670.27" width="5.81" height="5.20" fill="none" stroke="#ff0000" stroke-width="0.8"/>
<circle cx="146.85" cy="678.27" r="2.3" fill="#66c2a5"/>
<rect x="143.94" y="675.67" width="5.81" height="5.20" fill="none" stroke="#0000ff" stroke-width="0.8"/>
<circle cx="152.86" cy="678.27" r="2.3" fill="#4862ab"/>
<circle cx="242.97" cy="678.27" r="2.3" fill="#66c2a5"/>
<rect x="240.06" y="675.67" width="5.81" height="5.20" fill="none" stroke="#0000ff" stroke-width="0.8"/>
<circle cx="248.98" cy="678.27" r="2.3" fill="#3288bd"/>
<circle cx="441.22" cy="678.27" r="2.3" fill="#3288bd"/>
<rect x="438.31" y="675.67" width="5.81" height="5.20" fill="none" stroke="#ff0000" stroke-width="0.8"/>
<circle cx="633.46" cy="678.27" r="2.3" fill="#3288bd"/>
<rect x="630.55" y="675.67" width="5.81" height="5.20" fill="none" stroke="#ff0000" stroke-width="0.8"/>
<circle cx="146.85" cy="683.67" r="2.3" fill="#66c2a5"/>
<rect x="143.94" y="681.07" width="5.81" height="5.20" fill="none" stroke="#0000ff" stroke-width="0.8"/>
<circle cx="152.86" cy="683.67" r="2.3" fill="#3288bd"/>
<circle cx="242.97" cy="683.67" r="2.3" fill="#66c2a5"/>
<rect x="240.06" y="681.07" width="5.81" height="5.20" fill="none" stroke="#0000ff" stroke-width="0.8"/>
<circle cx="248.98" cy="683.67" r="2.3" fill="#3288bd"/>
<circle cx="441.22" cy="683.67" r="2.3" fill="#4ba5b3"/>
<rect x="438.31" y="681.07" width="5.81" height="5.20" fill="none" stroke="#ff0000" stroke-width="0.8"/>
<circle cx="633.46" cy="683.67" r="2.3" fill="#4ba5b3"/>
<rect x="630.55" y="681.07" width="5.81" height="5.20" fill="none" stroke="#ff0000" stroke-width="0.8"/>
<circle cx="176.89" cy="689.06" r="2.3" fill="#4862ab"/>
<rect x="173.98" y="686.47" width="5.81" height="5.20" fill="none" stroke="#ff0000" stroke-width="0.8"/>
<circle cx="273.01" cy="689.06" r="2.3" fill="#3288bd"/>
<rect x="270.10" y="686.47" width="5.81" height="5.20" fill="none" stroke="#ff0000" stroke-width="0.8"/>
<circle cx="465.25" cy="689.06" r="2.3" fill="#3288bd"/>
<rect x="462.34" y="686.47" width="5.81" height="5.20" fill="none" stroke="#ff0000" stroke-width="0.8"/>
<circle cx="657.49" cy="689.06" r="2.3" fill="#3288bd"/>
<rect x="654.58" y="686.47" width="5.81" height="5.20" fill="none" stroke="#ff0000" stroke-width="0.8"/>
<circle cx="170.88" cy="694.46" r="2.3" fill="#4ba5b3"/>
<circle cx="176.89" cy="694.46" r="2.3" fill="#3288bd"/>
<circle cx="267.00" cy="694.46" r="2.3" fill="#66c2a5"/>
<circle cx="273.01" cy="694.46" r="2.3" fill="#3288bd"/>
<circle cx="465.25" cy="694.46" r="2.3" fill="#4ba5b3"/>
<rect x="462.34" y="691.86" width="5.81" height="5.20" fill="none" stroke="#ff0000" stroke-width="0.8"/>
<circle cx="657.49" cy="694.46" r="2.3" fill="#4ba5b3"/>
<rect x="654.58" y="691.86" width="5.81" height="5.20" fill="none" stroke="#ff0000" stroke-width="0.8"/>
<circle cx="110.80" cy="699.86" r="2.3" fill="#4ba5b3"/>
<rect x="107.90" y="697.26" width="5.81" height="5.20" fill="none" stroke="#0000ff" stroke-width="0.8"/>
<circle cx="116.81" cy="699.86" r="2.3" fill="#4862ab"/>
<circle cx="122.82" cy="699.86" r="2.3" fill="#3288bd"/>
<circle cx="128.83" cy="699.86" r="2.3" fill="#4862ab"/>
<circle cx="134.83" cy="699.86" r="2.3" fill="#3288bd"/>
<circle cx="140.84" cy="699.86" r="2.3" fill="#4ba5b3"/>
<circle cx="158.86" cy="699.86" r="2.3" fill="#3288bd"/>
<circle cx="164.87" cy="699.86" r="2.3" fill="#3288bd"/>
<circle cx="170.88" cy="699.86" r="2.3" fill="#4ba5b3"/>
<rect x="167.97" y="697.26" width="5.81" height="5.20" fill="none" stroke="#0000ff" stroke-width="0.8"/>
<circle cx="176.89" cy="699.86" r="2.3" fill="#4862ab"/>
<circle cx="182.89" cy="699.86" r="2.3" fill="#66c2a5"/>
<circle cx="188.90" cy="699.86" r="2.3" fill="#4ba5b3"/>
<circle cx="194.91" cy="699.86" r="2.3" fill="#4ba5b3"/>
<circle cx="200.92" cy="699.86" r="2.3" fill="#4ba5b3"/>
<circle cx="206.92" cy="699.86" r="2.3" fill="#4ba5b3"/>
<rect x="204.02" y="697.26" width="5.81" height="5.20" fill="none" stroke="#0000ff" stroke-width="0.8"/>
<circle cx="218.94" cy="699.86" r="2.3" fill="#4ba5b3"/>
<rect x="216.03" y="697.26" width="5.81" height="5.20" fill="none" stroke="#0000ff" stroke-width="0.8"/>
<circle cx="230.95" cy="699.86" r="2.3" fill="#4ba5b3"/>
<rect x="228.05" y="697.26" width="5.81" height="5.20" fill="none" stroke="#0000ff" stroke-width="0.8"/>
<circle cx="254.98" cy="699.86" r="2.3" fill="#4ba5b3"/>
<rect x="252.08" y="697.26" width="5.81" height="5.20" fill="none" stroke="#0000ff" stroke-width="0.8"/>
<circle cx="267.00" cy="699.86" r="2.3" fill="#4ba5b3"/>
<rect x="264.10" y="697.26" width="5.81" height="5.20" fill="none" stroke="#0000ff" stroke-width="0.8"/>
<circle cx="279.01" cy="699.86" r="2.3" fill="#66c2a5"/>
<rect x="276.11" y="697.26" width="5.81" height="5.20" fill="none" stroke="#0000ff" stroke-width="0.8"/>
<circle cx="291.03" cy="699.86" r="2.3" fill="#4ba5b3"/>
<rect x="288.12" y="697.26" width="5.81" height="5.20" fill="none" stroke="#0000ff" stroke-width="0.8"/>
<circle cx="170.88" cy="705.25" r="2.3" fill="#66c2a5"/>
<rect x="167.97" y="702.66" width="5.81" height="5.20" fill="none" stroke="#0000ff" stroke-width="0.8"/>
<circle cx="176.89" cy="705.25" r="2.3" fill="#3288bd"/>
<circle cx="267.00" cy="705.25" r="2.3" fill="#66c2a5"/>
<rect x="264.10" y="702.66" width="5.81" height="5.20" fill="none" stroke="#0000ff" stroke-width="0.8"/>
<circle cx="146.85" cy="710.65" r="2.3" fill="#66c2a5"/>
<rect x="143.94" y="708.05" width="5.81" height="5.20" fill="none" stroke="#0000ff" stroke-width="0.8"/>
<circle cx="152.86" cy="710.65" r="2.3" fill="#4862ab"/>
<circle cx="242.97" cy="710.65" r="2.3" fill="#66c2a5"/>
<rect x="240.06" y="708.05" width="5.81" height="5.20" fill="none" stroke="#0000ff" stroke-width="0.8"/>
<circle cx="146.85" cy="716.05" r="2.3" fill="#66c2a5"/>
<rect x="143.94" y="713.45" width="5.81" height="5.20" fill="none" stroke="#0000ff" stroke-width="0.8"/>
<circle cx="152.86" cy="716.05" r="2.3" fill="#3288bd"/>
<circle cx="242.97" cy="716.05" r="2.3" fill="#66c2a5"/>
<rect x="240.06" y="713.45" width="5.81" height="5.20" fill="none" stroke="#0000ff" stroke-width="0.8"/>
<circle cx="176.89" cy="721.45" r="2.3" fill="#4862ab"/>
<rect x="173.98" y="718.85" width="5.81" height="5.20" fill="none" stroke="#ff0000" stroke-width="0.8"/>
<circle cx="170.88" cy="726.84" r="2.3" fill="#66c2a5"/>
<rect x="167.97" y="724.24" width="5.81" height="5.20" fill="none" stroke="#0000ff" stroke-width="0.8"/>
<circle cx="176.89" cy="726.84" r="2.3" fill="#4862ab"/>
<circle cx="267.00" cy="726.84" r="2.3" fill="#66c2a5"/>
<rect x="264.10" y="724.24" width="5.81" height="5.20" fill="none" stroke="#0000ff" stroke-width="0.8"/>
<circle cx="134.83" cy="732.24" r="2.3" fill="#66c2a5"/>
<circle cx="140.84" cy="732.24" r="2.3" fill="#66c2a5"/>
<circle cx="230.95" cy="732.24" r="2.3" fill="#a5daa4"/>
<circle cx="236.96" cy="732.24" r="2.3" fill="#e2f29a"/>
<rect x="234.06" y="729.64" width="5.81" height="5.20" fill="none" stroke="#ff0000" stroke-width="0.8"/>
<circle cx="423.19" cy="732.24" r="2.3" fill="#66c2a5"/>
<circle cx="429.20" cy="732.24" r="2.3" fill="#66c2a5"/>
<circle cx="525.32" cy="732.24" r="2.3" fill="#e2f29a"/>
<rect x="522.42" y="729.64" width="5.81" height="5.20" fill="none" stroke="#ff0000" stroke-width="0.8"/>
<circle cx="615.43" cy="732.24" r="2.3" fill="#66c2a5"/>
<circle cx="621.44" cy="732.24" r="2.3" fill="#e2f29a"/>
<rect x="618.54" y="729.64" width="5.81" height="5.20" fill="none" stroke="#ff0000" stroke-width="0.8"/>
<circle cx="122.82" cy="737.64" r="2.3" fill="#4ba5b3"/>
<circle cx="128.83" cy="737.64" r="2.3" fill="#4ba5b3"/>
<circle cx="140.84" cy="737.64" r="2.3" fill="#66c2a5"/>
<rect x="137.94" y="735.04" width="5.81" height="5.20" fill="none" stroke="#ff0000" stroke-width="0.8"/>
<circle cx="218.94" cy="737.64" r="2.3" fill="#4ba5b3"/>
<circle cx="224.95" cy="737.64" r="2.3" fill="#66c2a5"/>
<circle cx="236.96" cy="737.64" r="2.3" fill="#a5daa4"/>
<rect x="234.06" y="735.04" width="5.81" height="5.20" fill="none" stroke="#ff0000" stroke-width="0.8"/>
<circle cx="411.18" cy="737.64" r="2.3" fill="#3288bd"/>
<circle cx="417.19" cy="737.64" r="2.3" fill="#4ba5b3"/>
<circle cx="429.20" cy="737.64" r="2.3" fill="#66c2a5"/>
<rect x="426.30" y="735.04" width="5.81" height="5.20" fill="none" stroke="#ff0000" stroke-width="0.8"/>
<circle cx="513.31" cy="737.64" r="2.3" fill="#66c2a5"/>
<rect x="510.40" y="735.04" width="5.81" height="5.20" fill="none" stroke="#ff0000" stroke-width="0.8"/>
<circle cx="525.32" cy="737.64" r="2.3" fill="#66c2a5"/>
<rect x="522.42" y="735.04" width="5.81" height="5.20" fill="none" stroke="#ff0000" stroke-width="0.8"/>
<circle cx="603.42" cy="737.64" r="2.3" fill="#3288bd"/>
<circle cx="609.43" cy="737.64" r="2.3" fill="#66c2a5"/>
<rect x="606.52" y="735.04" width="5.81" height="5.20" fill="none" stroke="#ff0000" stroke-width="0.8"/>
<circle cx="621.44" cy="737.64" r="2.3" fill="#66c2a5"/>
<rect x="618.54" y="735.04" width="5.81" height="5.20" fill="none" stroke="#ff0000" stroke-width="0.8"/>
<circle cx="110.80" cy="743.03" r="2.3" fill="#4ba5b3"/>
<rect x="107.90" y="740.44" width="5.81" height="5.20" fill="none" stroke="#0000ff" stroke-width="0.8"/>
<circle cx="116.81" cy="743.03" r="2.3" fill="#4862ab"/>
<circle cx="122.82" cy="743.03" r="2.3" fill="#4ba5b3"/>
<circle cx="128.83" cy="743.03" r="2.3" fill="#3288bd"/>
<circle cx="134.83" cy="743.03" r="2.3" fill="#4ba5b3"/>
<circle cx="140.84" cy="743.03" r="2.3" fill="#a5daa4"/>
<rect x="137.94" y="740.44" width="5.81" height="5.20" fill="none" stroke="#ff0000" stroke-width="0.8"/>
<circle cx="158.86" cy="743.03" r="2.3" fill="#4ba5b3"/>
<circle cx="164.87" cy="743.03" r="2.3" fill="#4ba5b3"/>
<circle cx="170.88" cy="743.03" r="2.3" fill="#66c2a5"/>
<rect x="167.97" y="740.44" width="5.81" height="5.20" fill="none" stroke="#0000ff" stroke-width="0.8"/>
<circle cx="176.89" cy="743.03" r="2.3" fill="#4ba5b3"/>
<circle cx="182.89" cy="743.03" r="2.3" fill="#66c2a5"/>
<circle cx="188.90" cy="743.03" r="2.3" fill="#66c2a5"/>
<circle cx="194.91" cy="743.03" r="2.3" fill="#66c2a5"/>
<circle cx="200.92" cy="743.03" r="2.3" fill="#66c2a5"/>
<circle cx="206.92" cy="743.03" r="2.3" fill="#66c2a5"/>
<circle cx="212.93" cy="743.03" r="2.3" fill="#4ba5b3"/>
<circle cx="218.94" cy="743.03" r="2.3" fill="#4ba5b3"/>
<circle cx="224.95" cy="743.03" r="2.3" fill="#4ba5b3"/>
<circle cx="230.95" cy="743.03" r="2.3" fill="#66c2a5"/>
<circle cx="236.96" cy="743.03" r="2.3" fill="#e2f29a"/>
<rect x="234.06" y="740.44" width="5.81" height="5.20" fill="none" stroke="#ff0000" stroke-width="0.8"/>
<circle cx="254.98" cy="743.03" r="2.3" fill="#66c2a5"/>
<circle cx="260.99" cy="743.03" r="2.3" fill="#a5daa4"/>
<circle cx="267.00" cy="743.03" r="2.3" fill="#66c2a5"/>
<circle cx="273.01" cy="743.03" r="2.3" fill="#66c2a5"/>
<circle cx="279.01" cy="743.03" r="2.3" fill="#a5daa4"/>
<circle cx="285.02" cy="743.03" r="2.3" fill="#e2f29a"/>
<circle cx="291.03" cy="743.03" r="2.3" fill="#a5daa4"/>
<circle cx="297.04" cy="743.03" r="2.3" fill="#e2f29a"/>
<circle cx="399.16" cy="743.03" r="2.3" fill="#4ba5b3"/>
<circle cx="405.17" cy="743.03" r="2.3" fill="#4862ab"/>
<circle cx="411.18" cy="743.03" r="2.3" fill="#3288bd"/>
<circle cx="417.19" cy="743.03" r="2.3" fill="#4862ab"/>
<circle cx="423.19" cy="743.03" r="2.3" fill="#3288bd"/>
<circle cx="429.20" cy="743.03" r="2.3" fill="#66c2a5"/>
<rect x="426.30" y="740.44" width="5.81" height="5.20" fill="none" stroke="#ff0000" stroke-width="0.8"/>
<circle cx="447.22" cy="743.03" r="2.3" fill="#3288bd"/>
<circle cx="453.23" cy="743.03" r="2.3" fill="#4ba5b3"/>
<circle cx="459.24" cy="743.03" r="2.3" fill="#4ba5b3"/>
<circle cx="465.25" cy="743.03" r="2.3" fill="#3288bd"/>
<circle cx="471.25" cy="743.03" r="2.3" fill="#66c2a5"/>
<circle cx="477.26" cy="743.03" r="2.3" fill="#66c2a5"/>
<circle cx="483.27" cy="743.03" r="2.3" fill="#4ba5b3"/>
<circle cx="489.28" cy="743.03" r="2.3" fill="#66c2a5"/>
<circle cx="501.29" cy="743.03" r="2.3" fill="#3288bd"/>
<rect x="498.39" y="740.44" width="5.81" height="5.20" fill="none" stroke="#ff0000" stroke-width="0.8"/>
<circle cx="513.31" cy="743.03" r="2.3" fill="#3288bd"/>
<rect x="510.40" y="740.44" width="5.81" height="5.20" fill="none" stroke="#ff0000" stroke-width="0.8"/>
<circle cx="525.32" cy="743.03" r="2.3" fill="#e2f29a"/>
<rect x="522.42" y="740.44" width="5.81" height="5.20" fill="none" stroke="#ff0000" stroke-width="0.8"/>
<circle cx="549.35" cy="743.03" r="2.3" fill="#66c2a5"/>
<rect x="546.45" y="740.44" width="5.81" height="5.20" fill="none" stroke="#ff0000" stroke-width="0.8"/>
<circle cx="561.37" cy="743.03" r="2.3" fill="#66c2a5"/>
<rect x="558.46" y="740.44" width="5.81" height="5.20" fill="none" stroke="#ff0000" stroke-width="0.8"/>
<circle cx="573.38" cy="743.03" r="2.3" fill="#e2f29a"/>
<rect x="570.48" y="740.44" width="5.81" height="5.20" fill="none" stroke="#ff0000" stroke-width="0.8"/>
<circle cx="585.40" cy="743.03" r="2.3" fill="#a5daa4"/>
<rect x="582.49" y="740.44" width="5.81" height="5.20" fill="none" stroke="#ff0000" stroke-width="0.8"/>
<circle cx="591.40" cy="743.03" r="2.3" fill="#4ba5b3"/>
<circle cx="597.41" cy="743.03" r="2.3" fill="#3288bd"/>
<circle cx="603.42" cy="743.03" r="2.3" fill="#3288bd"/>
<circle cx="609.43" cy="743.03" r="2.3" fill="#4ba5b3"/>
<circle cx="615.43" cy="743.03" r="2.3" fill="#3288bd"/>
<circle cx="621.44" cy="743.03" r="2.3" fill="#e2f29a"/>
<rect x="618.54" y="740.44" width="5.81" height="5.20" fill="none" stroke="#ff0000" stroke-width="0.8"/>
<circle cx="639.46" cy="743.03" r="2.3" fill="#4ba5b3"/>
<circle cx="645.47" cy="743.03" r="2.3" fill="#66c2a5"/>
<circle cx="651.48" cy="743.03" r="2.3" fill="#4ba5b3"/>
<circle cx="657.49" cy="743.03" r="2.3" fill="#4ba5b3"/>
<circle cx="663.49" cy="743.03" r="2.3" fill="#66c2a5"/>
<circle cx="669.50" cy="743.03" r="2.3" fill="#a5daa4"/>
<circle cx="675.51" cy="743.03" r="2.3" fill="#66c2a5"/>
<circle cx="681.52" cy="743.03" r="2.3" fill="#a5daa4"/>
<rect x="678.61" y="740.44" width="5.81" height="5.20" fill="none" stroke="#ff0000" stroke-width="0.8"/>
<circle cx="116.81" cy="748.43" r="2.3" fill="#3288bd"/>
<rect x="113.91" y="745.83" width="5.81" height="5.20" fill="none" stroke="#ff0000" stroke-width="0.8"/>
<circle cx="122.82" cy="748.43" r="2.3" fill="#66c2a5"/>
<circle cx="128.83" cy="748.43" r="2.3" fill="#4ba5b3"/>
<circle cx="140.84" cy="748.43" r="2.3" fill="#66c2a5"/>
<rect x="137.94" y="745.83" width="5.81" height="5.20" fill="none" stroke="#ff0000" stroke-width="0.8"/>
<circle cx="146.85" cy="748.43" r="2.3" fill="#66c2a5"/>
<rect x="143.94" y="745.83" width="5.81" height="5.20" fill="none" stroke="#0000ff" stroke-width="0.8"/>
<circle cx="152.86" cy="748.43" r="2.3" fill="#4ba5b3"/>
<circle cx="164.87" cy="748.43" r="2.3" fill="#3288bd"/>
<rect x="161.97" y="745.83" width="5.81" height="5.20" fill="none" stroke="#ff0000" stroke-width="0.8"/>
<circle cx="176.89" cy="748.43" r="2.3" fill="#4ba5b3"/>
<rect x="173.98" y="745.83" width="5.81" height="5.20" fill="none" stroke="#ff0000" stroke-width="0.8"/>
<circle cx="212.93" cy="748.43" r="2.3" fill="#4ba5b3"/>
<rect x="210.03" y="745.83" width="5.81" height="5.20" fill="none" stroke="#ff0000" stroke-width="0.8"/>
<circle cx="218.94" cy="748.43" r="2.3" fill="#a5daa4"/>
<circle cx="224.95" cy="748.43" r="2.3" fill="#66c2a5"/>
<circle cx="236.96" cy="748.43" r="2.3" fill="#a5daa4"/>
<rect x="234.06" y="745.83" width="5.81" height="5.20" fill="none" stroke="#ff0000" stroke-width="0.8"/>
<circle cx="242.97" cy="748.43" r="2.3" fill="#a5daa4"/>
<circle cx="248.98" cy="748.43" r="2.3" fill="#66c2a5"/>
<circle cx="260.99" cy="748.43" r="2.3" fill="#4ba5b3"/>
<rect x="258.09" y="745.83" width="5.81" height="5.20" fill="none" stroke="#ff0000" stroke-width="0.8"/>
<circle cx="273.01" cy="748.43" r="2.3" fill="#66c2a5"/>
<rect x="270.10" y="745.83" width="5.81" height="5.20" fill="none" stroke="#ff0000" stroke-width="0.8"/>
<circle cx="405.17" cy="748.43" r="2.3" fill="#3288bd"/>
<rect x="402.27" y="745.83" width="5.81" height="5.20" fill="none" stroke="#ff0000" stroke-width="0.8"/>
<circle cx="411.18" cy="748.43" r="2.3" fill="#4ba5b3"/>
<circle cx="417.19" cy="748.43" r="2.3" fill="#3288bd"/>
<circle cx="429.20" cy="748.43" r="2.3" fill="#4ba5b3"/>
<rect x="426.30" y="745.83" width="5.81" height="5.20" fill="none" stroke="#ff0000" stroke-width="0.8"/>
<circle cx="435.21" cy="748.43" r="2.3" fill="#4ba5b3"/>
<circle cx="441.22" cy="748.43" r="2.3" fill="#3288bd"/>
<circle cx="453.23" cy="748.43" r="2.3" fill="#3288bd"/>
<rect x="450.33" y="745.83" width="5.81" height="5.20" fill="none" stroke="#ff0000" stroke-width="0.8"/>
<circle cx="465.25" cy="748.43" r="2.3" fill="#3288bd"/>
<rect x="462.34" y="745.83" width="5.81" height="5.20" fill="none" stroke="#ff0000" stroke-width="0.8"/>
<circle cx="501.29" cy="748.43" r="2.3" fill="#3288bd"/>
<rect x="498.39" y="745.83" width="5.81" height="5.20" fill="none" stroke="#ff0000" stroke-width="0.8"/>
<circle cx="513.31" cy="748.43" r="2.3" fill="#4ba5b3"/>
<rect x="510.40" y="745.83" width="5.81" height="5.20" fill="none" stroke="#ff0000" stroke-width="0.8"/>
<circle cx="525.32" cy="748.43" r="2.3" fill="#66c2a5"/>
<rect x="522.42" y="745.83" width="5.81" height="5.20" fill="none" stroke="#ff0000" stroke-width="0.8"/>
<circle cx="537.34" cy="748.43" r="2.3" fill="#4ba5b3"/>
<rect x="534.43" y="745.83" width="5.81" height="5.20" fill="none" stroke="#ff0000" stroke-width="0.8"/>
<circle cx="549.35" cy="748.43" r="2.3" fill="#3288bd"/>
<rect x="546.45" y="745.83" width="5.81" height="5.20" fill="none" stroke="#ff0000" stroke-width="0.8"/>
<circle cx="561.37" cy="748.43" r="2.3" fill="#4ba5b3"/>
<rect x="558.46" y="745.83" width="5.81" height="5.20" fill="none" stroke="#ff0000" stroke-width="0.8"/>
<circle cx="597.41" cy="748.43" r="2.3" fill="#3288bd"/>
<rect x="594.51" y="745.83" width="5.81" height="5.20" fill="none" stroke="#ff0000" stroke-width="0.8"/>
<circle cx="603.42" cy="748.43" r="2.3" fill="#66c2a5"/>
<circle cx="609.43" cy="748.43" r="2.3" fill="#4ba5b3"/>
<circle cx="621.44" cy="748.43" r="2.3" fill="#66c2a5"/>
<rect x="618.54" y="745.83" width="5.81" height="5.20" fill="none" stroke="#ff0000" stroke-width="0.8"/>
<circle cx="627.45" cy="748.43" r="2.3" fill="#66c2a5"/>
<circle cx="633.46" cy="748.43" r="2.3" fill="#4ba5b3"/>
<circle cx="645.47" cy="748.43" r="2.3" fill="#3288bd"/>
<rect x="642.57" y="745.83" width="5.81" height="5.20" fill="none" stroke="#ff0000" stroke-width="0.8"/>
<circle cx="657.49" cy="748.43" r="2.3" fill="#4ba5b3"/>
<rect x="654.58" y="745.83" width="5.81" height="5.20" fill="none" stroke="#ff0000" stroke-width="0.8"/>
<circle cx="128.83" cy="753.83" r="2.3" fill="#4ba5b3"/>
<rect x="125.92" y="751.23" width="5.81" height="5.20" fill="none" stroke="#ff0000" stroke-width="0.8"/>
<circle cx="146.85" cy="753.83" r="2.3" fill="#66c2a5"/>
<rect x="143.94" y="751.23" width="5.81" height="5.20" fill="none" stroke="#0000ff" stroke-width="0.8"/>
<circle cx="152.86" cy="753.83" r="2.3" fill="#4ba5b3"/>
<circle cx="224.95" cy="753.83" r="2.3" fill="#66c2a5"/>
<rect x="222.04" y="751.23" width="5.81" height="5.20" fill="none" stroke="#ff0000" stroke-width="0.8"/>
<circle cx="242.97" cy="753.83" r="2.3" fill="#a5daa4"/>
<circle cx="248.98" cy="753.83" r="2.3" fill="#66c2a5"/>
<circle cx="417.19" cy="753.83" r="2.3" fill="#3288bd"/>
<rect x="414.28" y="751.23" width="5.81" height="5.20" fill="none" stroke="#ff0000" stroke-width="0.8"/>
<circle cx="435.21" cy="753.83" r="2.3" fill="#4ba5b3"/>
<circle cx="441.22" cy="753.83" r="2.3" fill="#3288bd"/>
<circle cx="513.31" cy="753.83" r="2.3" fill="#4ba5b3"/>
<rect x="510.40" y="751.23" width="5.81" height="5.20" fill="none" stroke="#ff0000" stroke-width="0.8"/>
<circle cx="537.34" cy="753.83" r="2.3" fill="#4ba5b3"/>
<rect x="534.43" y="751.23" width="5.81" height="5.20" fill="none" stroke="#ff0000" stroke-width="0.8"/>
<circle cx="609.43" cy="753.83" r="2.3" fill="#4ba5b3"/>
<rect x="606.52" y="751.23" width="5.81" height="5.20" fill="none" stroke="#ff0000" stroke-width="0.8"/>
<circle cx="627.45" cy="753.83" r="2.3" fill="#66c2a5"/>
<circle cx="633.46" cy="753.83" r="2.3" fill="#66c2a5"/>
<circle cx="176.89" cy="759.22" r="2.3" fill="#3288bd"/>
<rect x="173.98" y="756.63" width="5.81" height="5.20" fill="none" stroke="#ff0000" stroke-width="0.8"/>
<circle cx="273.01" cy="759.22" r="2.3" fill="#66c2a5"/>
<rect x="270.10" y="756.63" width="5.81" height="5.20" fill="none" stroke="#ff0000" stroke-width="0.8"/>
<circle cx="465.25" cy="759.22" r="2.3" fill="#3288bd"/>
<rect x="462.34" y="756.63" width="5.81" height="5.20" fill="none" stroke="#ff0000" stroke-width="0.8"/>
<circle cx="561.37" cy="759.22" r="2.3" fill="#4ba5b3"/>
<rect x="558.46" y="756.63" width="5.81" height="5.20" fill="none" stroke="#ff0000" stroke-width="0.8"/>
<circle cx="657.49" cy="759.22" r="2.3" fill="#4ba5b3"/>
<rect x="654.58" y="756.63" width="5.81" height="5.20" fill="none" stroke="#ff0000" stroke-width="0.8"/>
<circle cx="230.95" cy="764.62" r="2.3" fill="#66c2a5"/>
<circle cx="236.96" cy="764.62" r="2.3" fill="#66c2a5"/>
<circle cx="218.94" cy="770.02" r="2.3" fill="#3288bd"/>
<circle cx="224.95" cy="770.02" r="2.3" fill="#4ba5b3"/>
<circle cx="236.96" cy="770.02" r="2.3" fill="#66c2a5"/>
<rect x="234.06" y="767.42" width="5.81" height="5.20" fill="none" stroke="#ff0000" stroke-width="0.8"/>
<circle cx="206.92" cy="775.42" r="2.3" fill="#4ba5b3"/>
<rect x="204.02" y="772.82" width="5.81" height="5.20" fill="none" stroke="#0000ff" stroke-width="0.8"/>
<circle cx="212.93" cy="775.42" r="2.3" fill="#4862ab"/>
<circle cx="218.94" cy="775.42" r="2.3" fill="#3288bd"/>
<circle cx="224.95" cy="775.42" r="2.3" fill="#4862ab"/>
<circle cx="230.95" cy="775.42" r="2.3" fill="#66c2a5"/>
<circle cx="236.96" cy="775.42" r="2.3" fill="#66c2a5"/>
<circle cx="242.97" cy="775.42" r="2.3" fill="#66c2a5"/>
<rect x="240.06" y="772.82" width="5.81" height="5.20" fill="none" stroke="#0000ff" stroke-width="0.8"/>
<circle cx="248.98" cy="775.42" r="2.3" fill="#4862ab"/>
<circle cx="254.98" cy="775.42" r="2.3" fill="#3288bd"/>
<circle cx="260.99" cy="775.42" r="2.3" fill="#3288bd"/>
<circle cx="273.01" cy="775.42" r="2.3" fill="#4862ab"/>
<rect x="270.10" y="772.82" width="5.81" height="5.20" fill="none" stroke="#ff0000" stroke-width="0.8"/>
<circle cx="285.02" cy="775.42" r="2.3" fill="#4ba5b3"/>
<rect x="282.12" y="772.82" width="5.81" height="5.20" fill="none" stroke="#ff0000" stroke-width="0.8"/>
<circle cx="297.04" cy="775.42" r="2.3" fill="#4ba5b3"/>
<rect x="294.13" y="772.82" width="5.81" height="5.20" fill="none" stroke="#ff0000" stroke-width="0.8"/>
<circle cx="242.97" cy="780.81" r="2.3" fill="#a5daa4"/>
<rect x="240.06" y="778.21" width="5.81" height="5.20" fill="none" stroke="#0000ff" stroke-width="0.8"/>
<circle cx="273.01" cy="786.21" r="2.3" fill="#3288bd"/>
<rect x="270.10" y="783.61" width="5.81" height="5.49" fill="none" stroke="#ff0000" stroke-width="0.8"/>
<text transform="translate(-0.40,7.10) rotate(0.05)" font-size="14.6" text-anchor="start" fill="#000" font-weight="bold" stroke="#000" stroke-width="0.45">a</text>
<text transform="translate(0.10,425.70) rotate(0.05)" font-size="14.1" text-anchor="start" fill="#000" font-weight="bold" stroke="#000" stroke-width="0.45">b</text>
<text transform="translate(21.50,19.20) rotate(0.05)" font-size="8.9" text-anchor="start" fill="#231f20" textLength="38.80" lengthAdjust="spacingAndGlyphs">Pathways</text>
<text transform="translate(76.00,19.20) rotate(0.05)" font-size="8.9" text-anchor="start" fill="#231f20" textLength="89.70" lengthAdjust="spacingAndGlyphs">Ligand–receptor pairs</text>
<text transform="translate(13.60,438.60) rotate(0.05)" font-size="8.9" text-anchor="start" fill="#231f20" textLength="38.30" lengthAdjust="spacingAndGlyphs">Pathways</text>
<text transform="translate(65.00,438.60) rotate(0.05)" font-size="8.9" text-anchor="start" fill="#231f20" textLength="90.40" lengthAdjust="spacingAndGlyphs">Ligand–receptor pairs</text>
<text transform="translate(365.30,8.00) rotate(0.05)" font-size="9.6" text-anchor="start" fill="#231f20" textLength="26.30" lengthAdjust="spacingAndGlyphs">TNBC</text>
<text transform="translate(365.00,19.40) rotate(0.05)" font-size="9.0" text-anchor="start" fill="#231f20" textLength="26.30" lengthAdjust="spacingAndGlyphs">Nodes</text>
<text transform="translate(370.70,427.00) rotate(0.05)" font-size="11.0" text-anchor="start" fill="#231f20" textLength="11.30" lengthAdjust="spacingAndGlyphs">ER</text>
<text transform="translate(382.50,421.90) rotate(0.05)" font-size="6.0" text-anchor="start" fill="#231f20">+</text>
<text transform="translate(365.00,438.30) rotate(0.05)" font-size="9.0" text-anchor="start" fill="#231f20" textLength="26.30" lengthAdjust="spacingAndGlyphs">Nodes</text>
<text transform="translate(68.50,343.00) rotate(-89.95)" font-size="9.2" text-anchor="middle" fill="#231f20" textLength="48.5" lengthAdjust="spacingAndGlyphs">Interactions</text>
<text transform="translate(120.00,327.80) rotate(0.05)" font-size="8.0" text-anchor="end" fill="#231f20">Target cells:</text>
<text transform="translate(120.00,359.80) rotate(0.05)" font-size="8.0" text-anchor="end" fill="#231f20">Source cells:</text>
<text transform="translate(51.40,831.60) rotate(-89.95)" font-size="9.2" text-anchor="middle" fill="#231f20" textLength="48.5" lengthAdjust="spacingAndGlyphs">Interactions</text>
<text transform="translate(102.60,815.60) rotate(0.05)" font-size="8.0" text-anchor="end" fill="#231f20">Target cells:</text>
<text transform="translate(102.60,843.90) rotate(0.05)" font-size="8.0" text-anchor="end" fill="#231f20">Source cells:</text>
<text transform="translate(218.00,395.10) rotate(0.05)" font-size="8.8" text-anchor="start" fill="#231f20" textLength="112.40" lengthAdjust="spacingAndGlyphs">Communication probability</text>
<defs><linearGradient id="g392" x1="0" x2="1" y1="0" y2="0"><stop offset="0.000" stop-color="#5e4fa2"/><stop offset="0.100" stop-color="#3288bd"/><stop offset="0.200" stop-color="#66c2a5"/><stop offset="0.300" stop-color="#abdda4"/><stop offset="0.400" stop-color="#e6f598"/><stop offset="0.500" stop-color="#ffffbf"/><stop offset="0.600" stop-color="#fee08b"/><stop offset="0.700" stop-color="#fdae61"/><stop offset="0.800" stop-color="#f46d43"/><stop offset="0.900" stop-color="#d53e4f"/><stop offset="1.000" stop-color="#9e0142"/></linearGradient></defs>
<rect x="335.2" y="388.0" width="113.30" height="8.40" fill="url(#g392)"/>
<text transform="translate(330.40,405.70) rotate(0.05)" font-size="7.2" text-anchor="start" fill="#231f20" textLength="11.60" lengthAdjust="spacingAndGlyphs">Min</text>
<text transform="translate(440.70,405.70) rotate(0.05)" font-size="7.2" text-anchor="start" fill="#231f20" textLength="14.50" lengthAdjust="spacingAndGlyphs">Max</text>
<circle cx="471.5" cy="392" r="1.9" fill="#000"/>
<text transform="translate(478.50,394.60) rotate(0.05)" font-size="7.6" text-anchor="start" fill="#231f20" textLength="26.90" lengthAdjust="spacingAndGlyphs"><tspan font-style="italic">P</tspan> &lt; 0.01</text>
<rect x="517.8" y="388.0" width="8.40" height="8.40" fill="#0000ff"/>
<text transform="translate(531.00,394.70) rotate(0.05)" font-size="7.6" text-anchor="start" fill="#231f20" textLength="22.00" lengthAdjust="spacingAndGlyphs">Young</text>
<rect x="565.5" y="388.0" width="8.40" height="8.40" fill="#ff0000"/>
<text transform="translate(579.00,394.70) rotate(0.05)" font-size="7.6" text-anchor="start" fill="#231f20" textLength="12.40" lengthAdjust="spacingAndGlyphs">Old</text>
<text transform="translate(209.50,872.50) rotate(0.05)" font-size="8.8" text-anchor="start" fill="#231f20" textLength="112.70" lengthAdjust="spacingAndGlyphs">Communication probability</text>
<defs><linearGradient id="g869" x1="0" x2="1" y1="0" y2="0"><stop offset="0.000" stop-color="#5e4fa2"/><stop offset="0.100" stop-color="#3288bd"/><stop offset="0.200" stop-color="#66c2a5"/><stop offset="0.300" stop-color="#abdda4"/><stop offset="0.400" stop-color="#e6f598"/><stop offset="0.500" stop-color="#ffffbf"/><stop offset="0.600" stop-color="#fee08b"/><stop offset="0.700" stop-color="#fdae61"/><stop offset="0.800" stop-color="#f46d43"/><stop offset="0.900" stop-color="#d53e4f"/><stop offset="1.000" stop-color="#9e0142"/></linearGradient></defs>
<rect x="327.1" y="864.7" width="112.90" height="9.30" fill="url(#g869)"/>
<text transform="translate(321.40,883.70) rotate(0.05)" font-size="7.2" text-anchor="start" fill="#231f20" textLength="12.20" lengthAdjust="spacingAndGlyphs">Min</text>
<text transform="translate(432.60,883.70) rotate(0.05)" font-size="7.2" text-anchor="start" fill="#231f20" textLength="14.40" lengthAdjust="spacingAndGlyphs">Max</text>
<circle cx="462.8" cy="869.4" r="1.9" fill="#000"/>
<text transform="translate(470.00,872.00) rotate(0.05)" font-size="7.6" text-anchor="start" fill="#231f20" textLength="27.80" lengthAdjust="spacingAndGlyphs"><tspan font-style="italic">P</tspan> &lt; 0.01</text>
<rect x="509.3" y="864.7" width="9.30" height="9.30" fill="#0000ff"/>
<text transform="translate(522.50,872.10) rotate(0.05)" font-size="7.6" text-anchor="start" fill="#231f20" textLength="22.30" lengthAdjust="spacingAndGlyphs">Young</text>
<rect x="557.4" y="864.7" width="9.30" height="9.30" fill="#ff0000"/>
<text transform="translate(570.60,872.10) rotate(0.05)" font-size="7.6" text-anchor="start" fill="#231f20" textLength="12.40" lengthAdjust="spacingAndGlyphs">Old</text>
</svg></body></html>
